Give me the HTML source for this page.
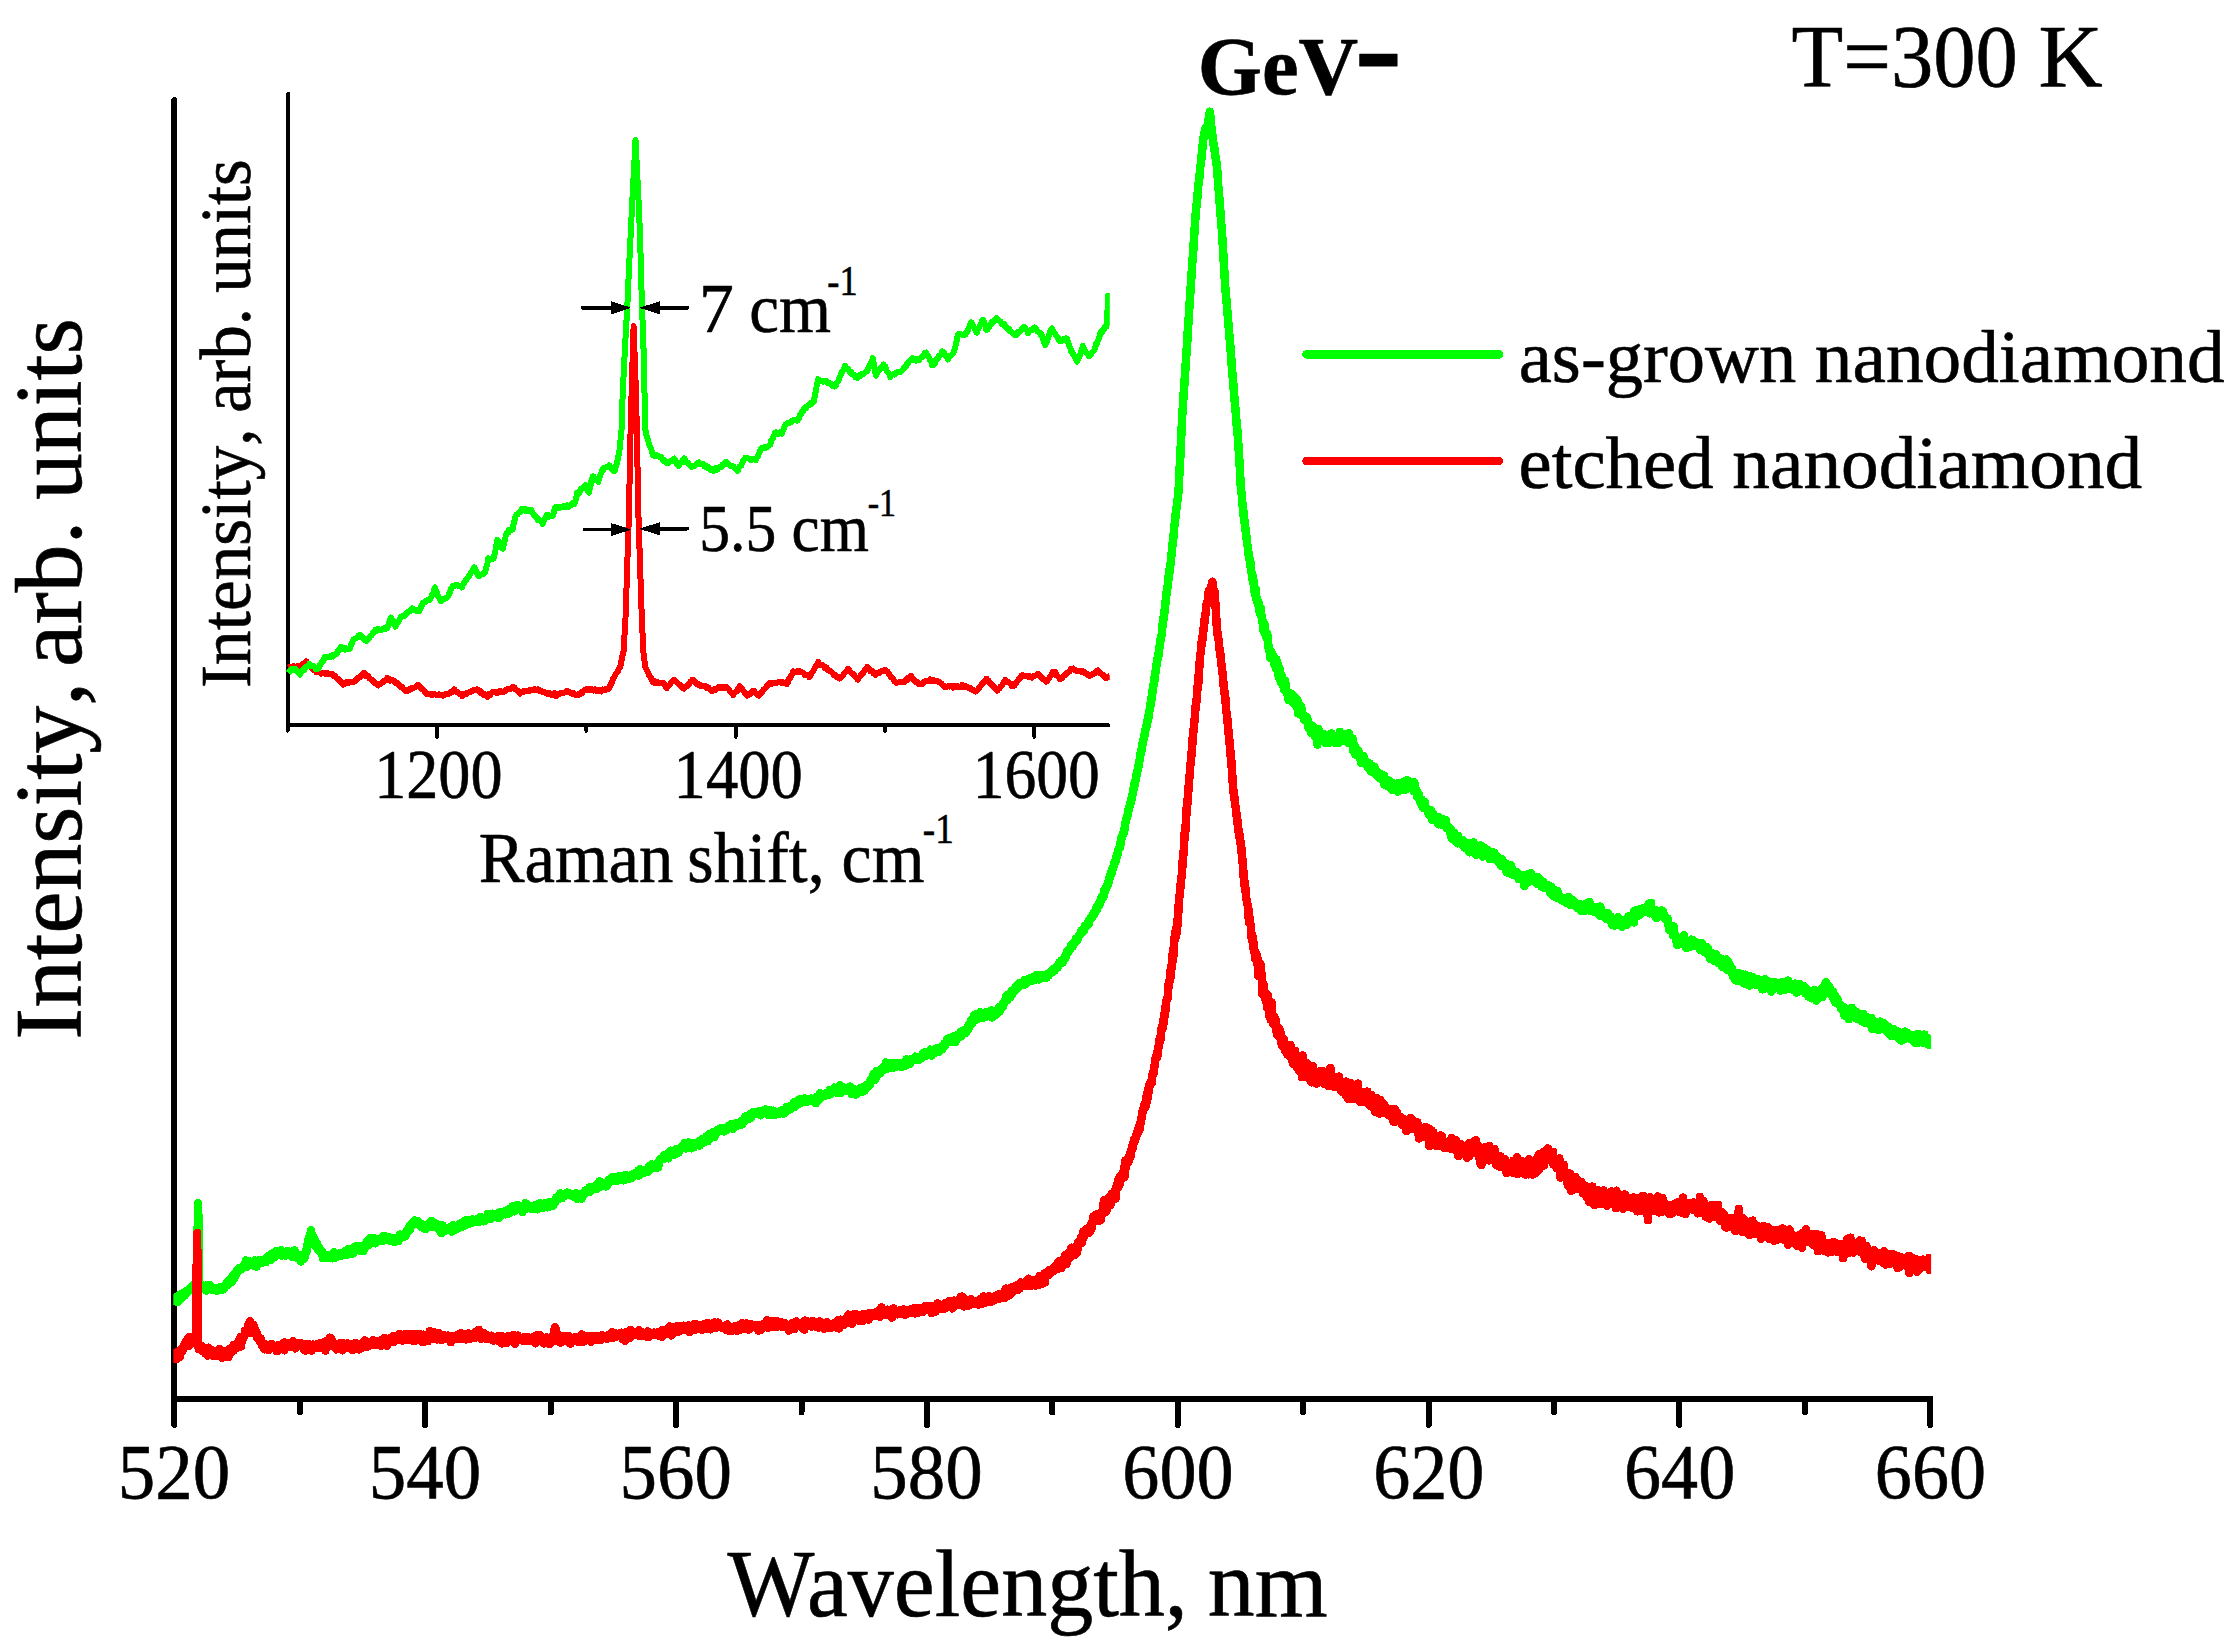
<!DOCTYPE html>
<html><head><meta charset="utf-8"><title>GeV nanodiamond PL spectra</title>
<style>
html,body{margin:0;padding:0;background:#fff;}
body{width:2238px;height:1650px;overflow:hidden;}
svg{display:block;font-family:"Liberation Serif",serif;font-kerning:none;}
text{stroke:#000;stroke-width:0.6px;stroke-linejoin:round;}
</style></head><body>
<svg width="2238" height="1650" viewBox="0 0 2238 1650" shape-rendering="crispEdges">
<rect width="2238" height="1650" fill="#fff"/>

<g stroke="#000" stroke-width="6" stroke-linecap="round" stroke-linejoin="round" fill="none">
<path d="M174.4,100 L174.4,1398.75 L1930.3,1398.75"/>
<path d="M174.4,1398.75 L174.4,1425"/>
<path d="M299.8,1398.75 L299.8,1412.3"/>
<path d="M425.2,1398.75 L425.2,1425"/>
<path d="M550.7,1398.75 L550.7,1412.3"/>
<path d="M676.1,1398.75 L676.1,1425"/>
<path d="M801.5,1398.75 L801.5,1412.3"/>
<path d="M926.9,1398.75 L926.9,1425"/>
<path d="M1052.3,1398.75 L1052.3,1412.3"/>
<path d="M1177.8,1398.75 L1177.8,1425"/>
<path d="M1303.2,1398.75 L1303.2,1412.3"/>
<path d="M1428.6,1398.75 L1428.6,1425"/>
<path d="M1554.0,1398.75 L1554.0,1412.3"/>
<path d="M1679.4,1398.75 L1679.4,1425"/>
<path d="M1804.9,1398.75 L1804.9,1412.3"/>
<path d="M1930.3,1398.75 L1930.3,1425"/>
</g>
<g stroke="#000" stroke-width="4" stroke-linecap="round" stroke-linejoin="round" fill="none">
<path d="M288.2,94 L288.2,725.4 L1108.5,725.4"/>
<path d="M287.6,725.4 L287.6,730.8"/>
<path d="M437.0,725.4 L437.0,736.8"/>
<path d="M586.3,725.4 L586.3,730.8"/>
<path d="M735.7,725.4 L735.7,736.8"/>
<path d="M885.0,725.4 L885.0,730.8"/>
<path d="M1034.3,725.4 L1034.3,736.8"/>
</g>
<clipPath id="mc"><rect x="173.3" y="90" width="1757.8" height="1310"/></clipPath>
<g fill="none" stroke-linejoin="round" stroke-linecap="butt" stroke-width="8.5" clip-path="url(#mc)" shape-rendering="crispEdges">
<polyline stroke="#00ff00" points="174.4,1304.4 174.9,1300.7 175.4,1300.5 175.9,1299.3 176.4,1301.7 176.9,1296.7 177.4,1302.2 177.9,1298.2 178.4,1299.3 178.9,1298.1 179.4,1300.2 179.9,1294.7 180.4,1296.8 180.9,1296.4 181.4,1298.2 181.9,1294.5 182.4,1295.5 182.7,1294.2 182.9,1295.4 183.4,1295.8 183.9,1292.9 184.4,1295.8 184.9,1295.0 185.4,1294.1 185.9,1294.2 186.4,1291.5 186.9,1292.0 187.4,1290.4 187.9,1290.9 188.4,1291.7 188.9,1289.5 189.4,1289.5 189.9,1288.7 190.3,1288.2 190.4,1288.3 190.9,1288.8 191.4,1286.7 191.9,1288.2 192.4,1289.8 192.9,1288.0 193.4,1286.1 193.9,1284.6 194.4,1284.3 194.9,1287.4 195.4,1284.5 195.9,1283.0 196.4,1283.8 196.9,1286.0 197.4,1249.8 197.9,1217.2 198.1,1203.4 198.4,1223.0 198.9,1256.0 199.3,1284.5 199.4,1284.7 199.9,1286.1 200.4,1286.7 200.9,1287.0 201.4,1286.3 201.9,1287.4 202.4,1285.3 202.9,1288.4 203.4,1287.5 203.9,1286.6 204.4,1287.8 204.9,1287.1 205.4,1288.9 205.9,1289.6 206.4,1290.6 206.9,1285.5 207.4,1285.6 207.9,1287.0 208.4,1288.1 208.9,1289.2 209.4,1288.5 209.9,1285.2 210.4,1287.8 210.9,1289.5 211.4,1288.7 211.9,1289.6 212.4,1288.3 212.9,1288.4 213.4,1289.1 213.9,1289.5 214.4,1289.3 214.5,1289.2 214.9,1288.0 215.4,1289.4 215.9,1289.0 216.4,1290.4 216.9,1290.5 217.4,1288.9 217.9,1288.1 218.4,1287.6 218.9,1289.1 219.4,1288.6 219.9,1287.9 220.4,1288.4 220.9,1287.4 221.4,1289.3 221.9,1287.5 222.4,1289.9 222.9,1288.7 223.4,1288.9 223.6,1286.4 223.9,1287.9 224.4,1288.3 224.9,1285.3 225.4,1285.8 225.9,1285.7 226.4,1283.2 226.9,1285.1 227.4,1285.4 227.9,1282.4 228.4,1283.6 228.9,1280.7 229.4,1282.1 229.9,1279.3 230.4,1282.7 230.9,1281.2 231.2,1280.3 231.4,1278.9 231.9,1281.2 232.4,1281.5 232.9,1275.2 233.4,1279.0 233.9,1278.9 234.4,1276.3 234.9,1273.4 235.4,1275.7 235.9,1273.5 236.4,1272.2 236.9,1270.6 237.4,1272.5 237.9,1272.1 238.4,1269.4 238.8,1270.5 238.9,1268.0 239.4,1270.4 239.9,1268.9 240.4,1268.1 240.9,1267.9 241.4,1268.9 241.9,1268.3 242.4,1267.6 242.9,1266.6 243.4,1266.1 243.9,1266.5 244.4,1265.5 244.9,1265.8 245.4,1264.0 245.9,1260.5 246.4,1265.1 246.9,1266.7 247.4,1264.2 247.9,1263.4 248.4,1263.3 248.9,1263.3 249.4,1263.4 249.9,1261.7 250.4,1262.6 250.9,1261.9 251.4,1263.6 251.9,1262.8 252.4,1263.9 252.9,1262.9 253.4,1264.6 253.9,1263.4 254.4,1266.2 254.9,1260.3 255.4,1262.1 255.9,1264.3 256.4,1266.6 256.9,1262.5 257.0,1263.0 257.4,1262.4 257.9,1264.5 258.4,1261.9 258.9,1263.2 259.4,1261.5 259.9,1259.9 260.4,1262.1 260.9,1262.1 261.4,1263.1 261.9,1260.9 262.4,1259.9 262.9,1261.5 263.4,1260.8 263.9,1260.7 264.4,1260.0 264.9,1261.6 265.4,1260.2 265.9,1262.3 266.4,1260.9 266.9,1260.1 267.4,1256.6 267.9,1259.6 268.4,1259.1 268.9,1259.5 269.0,1259.8 269.4,1257.4 269.9,1258.8 270.4,1256.4 270.9,1259.7 271.4,1254.6 271.9,1253.6 272.4,1253.4 272.9,1254.1 273.4,1253.4 273.9,1257.5 274.4,1253.8 274.9,1252.0 275.4,1255.2 275.9,1252.3 276.4,1251.0 276.9,1253.7 277.4,1253.0 277.9,1251.1 278.2,1253.5 278.4,1251.7 278.9,1254.0 279.4,1252.5 279.9,1254.1 280.4,1252.1 280.9,1250.3 281.4,1255.7 281.9,1251.5 282.4,1252.1 282.9,1251.5 283.4,1252.3 283.9,1253.1 284.4,1253.1 284.9,1253.9 285.4,1255.7 285.9,1253.0 286.4,1251.5 286.9,1251.7 287.4,1252.5 287.9,1251.2 288.4,1254.9 288.8,1253.1 288.9,1253.4 289.4,1253.9 289.9,1251.9 290.4,1252.7 290.9,1255.0 291.4,1254.9 291.9,1253.4 292.4,1256.8 292.9,1252.3 293.4,1253.7 293.9,1253.9 294.4,1250.3 294.9,1257.2 295.4,1254.9 295.9,1252.9 296.4,1257.5 296.9,1255.9 297.4,1256.3 297.9,1255.4 298.4,1257.0 298.9,1255.2 299.4,1259.2 299.9,1258.1 300.4,1259.4 300.9,1261.5 301.4,1259.6 301.9,1259.0 302.4,1258.5 302.9,1256.4 303.4,1258.1 303.9,1258.6 304.4,1256.9 304.9,1256.5 305.4,1253.3 305.5,1253.2 305.9,1250.5 306.4,1251.9 306.9,1247.4 307.4,1247.3 307.9,1241.8 308.4,1239.8 308.5,1240.1 308.9,1239.9 309.4,1236.9 309.9,1235.3 310.4,1233.3 310.8,1232.1 310.9,1230.4 311.4,1233.3 311.9,1234.1 312.4,1235.4 312.9,1237.3 313.4,1236.8 313.5,1237.9 313.9,1238.4 314.4,1240.6 314.9,1242.2 315.4,1240.8 315.9,1244.1 316.4,1247.4 316.9,1243.3 317.4,1245.4 317.6,1245.7 317.9,1247.0 318.4,1250.4 318.9,1248.7 319.4,1248.3 319.9,1250.9 320.4,1249.7 320.9,1252.9 321.4,1252.3 321.9,1254.6 322.4,1252.2 322.9,1258.2 323.4,1255.7 323.9,1256.1 324.4,1255.7 324.9,1255.4 325.2,1255.5 325.4,1256.6 325.9,1255.6 326.4,1257.1 326.9,1255.5 327.4,1257.5 327.9,1257.9 328.4,1255.5 328.9,1258.2 329.4,1256.1 329.9,1258.1 330.4,1257.0 330.9,1257.9 331.4,1254.8 331.9,1256.0 332.4,1258.3 332.9,1255.2 333.4,1253.1 333.9,1253.2 334.2,1252.4 334.4,1252.9 334.9,1255.3 335.4,1257.6 335.9,1255.0 336.4,1256.0 336.9,1255.3 337.4,1255.4 337.9,1255.0 338.4,1254.9 338.9,1255.7 339.4,1253.3 339.9,1256.3 340.4,1256.1 340.9,1254.4 341.4,1255.7 341.9,1253.5 342.4,1253.6 342.9,1254.5 343.4,1253.9 343.9,1253.4 344.4,1253.0 344.9,1253.1 345.4,1255.2 345.9,1250.9 346.4,1254.1 346.9,1253.2 347.4,1254.5 347.9,1254.0 348.4,1249.2 348.9,1253.9 349.4,1253.5 349.9,1252.7 350.4,1251.6 350.9,1253.2 351.4,1251.0 351.9,1253.9 352.4,1251.7 352.9,1253.7 353.4,1249.1 353.9,1247.3 354.4,1250.5 354.9,1250.4 355.4,1248.9 355.9,1246.2 356.4,1247.5 356.9,1248.7 357.0,1247.4 357.4,1247.6 357.9,1247.6 358.4,1246.5 358.9,1247.2 359.4,1246.0 359.9,1250.7 360.4,1247.5 360.9,1248.9 361.4,1246.8 361.9,1249.5 362.4,1245.7 362.9,1249.8 363.0,1248.4 363.4,1251.1 363.9,1245.6 364.4,1247.0 364.9,1246.9 365.4,1247.6 365.9,1244.6 366.4,1244.8 366.9,1241.0 367.4,1242.3 367.9,1243.6 368.4,1244.0 368.9,1241.4 369.0,1244.7 369.4,1244.2 369.9,1241.4 370.4,1237.9 370.9,1238.7 371.4,1240.1 371.9,1242.7 372.4,1241.4 372.9,1237.8 373.4,1240.4 373.9,1243.0 374.4,1240.0 374.9,1239.3 375.4,1243.3 375.9,1240.3 376.4,1239.4 376.9,1240.5 377.4,1239.9 377.9,1239.2 378.4,1241.4 378.9,1241.2 379.4,1240.7 379.7,1239.3 379.9,1241.0 380.4,1239.1 380.9,1239.7 381.4,1240.4 381.9,1239.9 382.4,1241.2 382.9,1239.1 383.4,1235.9 383.9,1236.5 384.4,1240.0 384.9,1237.4 385.4,1238.3 385.8,1236.4 385.9,1239.1 386.4,1237.2 386.9,1240.1 387.4,1237.4 387.9,1239.9 388.4,1239.5 388.9,1237.6 389.4,1240.4 389.9,1237.7 390.4,1238.0 390.9,1240.4 391.4,1238.6 391.9,1238.9 392.4,1239.4 392.9,1238.6 393.3,1241.7 393.4,1241.0 393.9,1239.8 394.4,1239.6 394.9,1240.2 395.4,1241.9 395.9,1240.4 396.4,1238.2 396.9,1239.8 397.4,1238.3 397.9,1238.0 398.4,1240.8 398.9,1237.3 399.4,1237.0 399.9,1234.6 400.4,1235.2 400.9,1237.7 401.4,1235.8 401.9,1237.4 402.4,1234.8 402.9,1234.8 403.4,1236.4 403.9,1237.0 404.4,1235.3 404.9,1235.6 405.4,1235.9 405.9,1234.4 406.4,1231.1 406.9,1231.7 407.4,1232.3 407.9,1230.3 408.4,1231.1 408.9,1227.6 409.4,1228.2 409.9,1229.7 410.0,1225.6 410.4,1226.5 410.9,1227.3 411.4,1223.9 411.9,1225.7 412.4,1223.6 412.9,1223.5 413.4,1222.7 413.9,1222.5 414.4,1220.6 414.5,1221.3 414.9,1220.5 415.4,1222.4 415.9,1224.3 416.4,1222.4 416.9,1222.6 417.4,1220.9 417.9,1223.9 418.4,1222.0 418.9,1222.2 419.4,1224.4 419.9,1224.1 420.4,1225.7 420.6,1226.3 420.9,1223.6 421.4,1224.8 421.9,1227.4 422.4,1226.5 422.9,1226.4 423.4,1227.5 423.9,1225.0 424.4,1227.1 424.9,1228.4 425.4,1229.0 425.9,1225.7 426.4,1226.8 426.7,1227.9 426.9,1226.7 427.4,1226.2 427.9,1227.5 428.4,1225.6 428.9,1223.2 429.4,1226.0 429.9,1224.5 430.4,1223.7 430.9,1222.1 431.2,1225.7 431.4,1221.0 431.9,1222.0 432.4,1224.2 432.9,1226.6 433.4,1226.8 433.9,1223.4 434.4,1225.0 434.9,1223.3 435.4,1227.1 435.9,1223.7 436.4,1225.8 436.9,1227.6 437.4,1226.0 437.9,1228.6 438.4,1225.4 438.9,1227.4 439.4,1228.2 439.9,1227.0 440.3,1229.3 440.4,1228.1 440.9,1225.0 441.4,1233.2 441.9,1228.5 442.4,1227.8 442.9,1225.6 443.4,1227.9 443.9,1227.2 444.4,1228.8 444.9,1228.5 445.4,1230.7 445.9,1228.3 446.4,1228.9 446.9,1228.8 447.4,1228.1 447.9,1228.1 448.4,1230.1 448.9,1229.7 449.4,1227.7 449.9,1227.1 450.4,1228.7 450.9,1230.5 451.4,1228.9 451.9,1231.5 452.0,1227.9 452.4,1229.0 452.9,1225.0 453.4,1227.5 453.9,1227.7 454.4,1228.7 454.9,1230.2 455.4,1227.6 455.9,1229.4 456.4,1228.1 456.9,1228.3 457.4,1226.0 457.9,1228.5 458.4,1224.7 458.9,1226.8 459.4,1224.4 459.9,1224.9 460.4,1223.3 460.9,1224.4 461.4,1225.5 461.9,1224.7 462.4,1222.6 462.9,1226.5 463.4,1224.6 463.9,1225.4 464.4,1224.8 464.9,1222.5 465.4,1220.4 465.9,1221.7 466.0,1224.8 466.4,1221.4 466.9,1224.0 467.4,1221.8 467.9,1223.1 468.4,1219.8 468.9,1224.0 469.4,1222.2 469.9,1223.4 470.4,1222.3 470.9,1223.1 471.4,1221.7 471.9,1222.8 472.4,1219.4 472.9,1219.9 473.4,1222.4 473.9,1221.2 474.4,1220.8 474.9,1220.8 475.4,1221.6 475.9,1219.9 476.4,1221.4 476.9,1219.2 477.4,1219.9 477.9,1221.8 478.4,1221.8 478.9,1218.5 479.4,1221.2 479.9,1218.4 480.4,1220.9 480.9,1216.9 481.4,1218.0 481.9,1218.7 482.4,1219.1 482.9,1221.3 483.4,1220.4 483.9,1221.3 484.0,1220.7 484.4,1218.5 484.9,1218.3 485.4,1220.1 485.9,1218.5 486.4,1218.1 486.9,1216.2 487.4,1217.8 487.9,1213.8 488.4,1217.0 488.9,1216.1 489.4,1218.4 489.9,1216.5 490.4,1216.6 490.9,1218.9 491.4,1215.3 491.9,1217.1 492.4,1213.7 492.9,1216.5 493.4,1216.8 493.9,1217.3 494.4,1214.6 494.9,1216.2 495.4,1216.0 495.9,1215.4 496.4,1215.5 496.9,1215.8 497.4,1215.6 497.9,1213.4 498.4,1212.9 498.9,1218.2 499.4,1217.2 499.9,1212.2 500.4,1214.7 500.9,1214.8 501.4,1214.9 501.9,1213.8 502.4,1212.1 502.9,1213.1 503.4,1212.5 503.9,1213.2 504.0,1212.6 504.4,1212.7 504.9,1214.1 505.4,1214.3 505.9,1210.6 506.4,1211.4 506.9,1210.8 507.4,1213.5 507.9,1211.5 508.4,1213.5 508.9,1210.5 509.4,1211.0 509.9,1208.8 510.4,1212.5 510.9,1209.9 511.4,1208.1 511.9,1209.2 512.4,1206.5 512.9,1209.6 513.4,1209.6 513.9,1209.7 514.4,1211.3 514.9,1208.5 515.4,1209.9 515.9,1209.0 516.4,1208.1 516.9,1205.2 517.4,1209.3 517.9,1207.1 518.4,1207.6 518.9,1205.6 519.4,1207.6 519.9,1207.2 520.0,1207.0 520.4,1206.8 520.9,1208.5 521.4,1208.4 521.9,1208.1 522.4,1211.8 522.9,1206.1 523.4,1206.4 523.9,1205.5 524.4,1207.6 524.9,1206.0 525.4,1203.1 525.9,1205.2 526.4,1207.1 526.9,1208.5 527.4,1204.7 527.9,1206.1 528.4,1206.8 528.9,1205.9 529.4,1207.8 529.9,1207.0 530.4,1207.5 530.9,1205.9 531.4,1209.2 531.9,1207.0 532.4,1208.9 532.9,1206.4 533.4,1207.9 533.9,1206.0 534.4,1205.6 534.9,1206.0 535.4,1206.9 535.9,1206.7 536.0,1209.2 536.4,1205.3 536.9,1205.3 537.4,1209.3 537.9,1207.6 538.4,1204.0 538.9,1207.4 539.4,1206.9 539.9,1203.4 540.4,1205.9 540.9,1206.4 541.4,1207.4 541.9,1207.6 542.4,1206.3 542.9,1207.6 543.4,1205.9 543.9,1204.8 544.4,1204.6 544.9,1206.7 545.4,1203.0 545.9,1206.7 546.4,1204.1 546.9,1205.1 547.4,1206.3 547.9,1207.3 548.4,1202.6 548.9,1204.2 549.4,1205.4 549.9,1204.4 550.4,1206.4 550.9,1202.1 551.4,1205.6 551.9,1205.6 552.0,1205.1 552.4,1206.1 552.9,1202.1 553.4,1204.9 553.9,1201.6 554.4,1203.1 554.9,1200.9 555.4,1201.9 555.9,1201.3 556.4,1197.4 556.9,1198.7 557.4,1198.1 557.9,1197.3 558.4,1195.9 558.9,1199.1 559.4,1196.1 559.9,1197.4 560.0,1194.2 560.4,1193.4 560.9,1195.1 561.4,1194.0 561.9,1198.2 562.4,1195.1 562.9,1196.3 563.4,1194.2 563.9,1194.0 564.4,1194.4 564.9,1194.9 565.4,1195.6 565.9,1194.1 566.4,1193.2 566.9,1192.6 567.4,1194.0 567.9,1194.8 568.0,1194.7 568.4,1194.0 568.9,1193.3 569.4,1194.4 569.9,1195.1 570.4,1194.3 570.9,1194.6 571.4,1194.3 571.9,1196.0 572.4,1194.1 572.9,1195.1 573.4,1195.5 573.9,1196.0 574.4,1197.2 574.9,1196.1 575.4,1196.1 575.9,1193.2 576.4,1196.3 576.9,1198.8 577.4,1194.4 577.9,1194.2 578.4,1195.4 578.9,1197.3 579.4,1196.7 579.9,1195.3 580.0,1195.9 580.4,1197.2 580.9,1196.4 581.4,1198.6 581.9,1196.2 582.4,1195.0 582.9,1195.0 583.4,1193.3 583.9,1192.1 584.4,1193.4 584.9,1193.6 585.4,1190.5 585.9,1191.4 586.4,1191.4 586.9,1191.9 587.4,1190.9 587.9,1191.6 588.4,1190.7 588.9,1191.8 589.4,1187.5 589.9,1192.0 590.4,1191.4 590.9,1189.1 591.4,1189.6 591.9,1189.2 592.4,1187.0 592.9,1187.9 593.4,1188.5 593.9,1187.5 594.0,1188.5 594.4,1187.1 594.9,1186.9 595.4,1185.6 595.9,1186.1 596.4,1185.9 596.9,1188.9 597.4,1186.7 597.9,1184.8 598.4,1186.7 598.9,1185.7 599.4,1181.5 599.9,1186.5 600.4,1183.5 600.9,1186.5 601.4,1184.1 601.9,1183.3 602.4,1186.0 602.9,1183.1 603.4,1184.5 603.9,1185.3 604.0,1185.9 604.4,1185.8 604.9,1184.3 605.4,1182.7 605.9,1186.4 606.4,1182.3 606.9,1185.4 607.4,1181.8 607.9,1183.8 608.4,1183.3 608.9,1179.8 609.4,1181.5 609.9,1181.7 610.4,1181.2 610.9,1179.5 611.4,1179.9 611.9,1178.5 612.0,1177.3 612.4,1180.4 612.9,1178.1 613.4,1180.8 613.9,1179.7 614.4,1177.4 614.9,1178.4 615.4,1178.2 615.9,1177.3 616.4,1179.2 616.9,1177.8 617.4,1180.8 617.9,1179.6 618.4,1177.0 618.9,1178.2 619.4,1177.8 619.9,1175.9 620.4,1179.4 620.9,1179.4 621.4,1179.3 621.9,1177.2 622.4,1179.4 622.9,1177.5 623.4,1179.1 623.9,1180.3 624.4,1177.8 624.9,1175.5 625.4,1177.1 625.9,1178.4 626.4,1179.2 626.9,1175.7 627.4,1177.0 627.9,1177.6 628.4,1177.8 628.9,1178.4 629.4,1175.7 629.9,1176.4 630.0,1178.5 630.4,1177.4 630.9,1177.3 631.4,1178.1 631.9,1176.4 632.4,1176.8 632.9,1175.4 633.4,1173.7 633.9,1173.6 634.4,1175.4 634.9,1174.8 635.4,1174.0 635.9,1175.2 636.4,1173.2 636.9,1174.5 637.4,1174.1 637.9,1172.7 638.4,1170.4 638.9,1175.7 639.4,1173.8 639.9,1169.3 640.4,1172.3 640.9,1173.3 641.4,1172.2 641.9,1173.2 642.4,1170.8 642.9,1172.2 643.4,1171.7 643.9,1171.3 644.4,1171.1 644.9,1171.5 645.4,1172.4 645.9,1170.0 646.4,1170.0 646.9,1170.7 647.4,1170.1 647.9,1170.6 648.0,1171.0 648.4,1171.7 648.9,1169.4 649.4,1166.0 649.9,1168.9 650.4,1169.3 650.9,1168.3 651.4,1168.1 651.9,1164.5 652.4,1168.5 652.9,1167.1 653.4,1165.1 653.9,1165.8 654.4,1165.5 654.9,1167.4 655.4,1167.1 655.9,1168.2 656.4,1166.7 656.9,1163.6 657.4,1163.3 657.9,1166.7 658.0,1167.3 658.4,1164.1 658.9,1164.5 659.4,1160.7 659.9,1159.3 660.4,1159.7 660.9,1160.1 661.4,1159.1 661.9,1158.8 662.4,1157.7 662.9,1158.6 663.4,1159.0 663.9,1156.2 664.0,1158.9 664.4,1154.9 664.9,1154.9 665.4,1156.1 665.9,1154.9 666.4,1156.9 666.9,1154.1 667.4,1156.8 667.9,1155.0 668.4,1158.3 668.9,1153.7 669.4,1153.9 669.9,1154.2 670.4,1150.7 670.9,1154.6 671.4,1154.2 671.9,1153.5 672.4,1151.0 672.9,1150.8 673.4,1153.7 673.9,1154.4 674.4,1154.8 674.9,1151.1 675.4,1150.7 675.9,1151.6 676.0,1149.1 676.4,1150.9 676.9,1152.6 677.4,1153.4 677.9,1151.1 678.4,1152.7 678.9,1150.6 679.4,1149.9 679.9,1149.0 680.4,1149.2 680.9,1148.2 681.4,1148.0 681.9,1146.9 682.4,1147.9 682.9,1147.2 683.4,1144.7 683.9,1146.1 684.4,1144.9 684.9,1142.8 685.4,1146.1 685.9,1147.3 686.0,1148.4 686.4,1147.3 686.9,1143.9 687.4,1146.9 687.9,1146.9 688.4,1142.5 688.9,1146.7 689.4,1146.5 689.9,1145.9 690.4,1146.2 690.9,1145.9 691.4,1148.3 691.9,1145.4 692.0,1145.7 692.4,1145.8 692.9,1146.0 693.4,1142.8 693.9,1147.2 694.4,1145.3 694.9,1145.6 695.4,1144.8 695.9,1144.1 696.4,1143.6 696.9,1144.0 697.4,1143.9 697.9,1145.1 698.4,1143.8 698.9,1142.8 699.4,1145.7 699.9,1140.8 700.4,1140.5 700.9,1142.7 701.4,1141.7 701.9,1139.2 702.4,1141.1 702.9,1140.3 703.4,1142.8 703.9,1140.0 704.4,1142.2 704.9,1141.1 705.4,1140.0 705.9,1140.1 706.0,1140.6 706.4,1136.4 706.9,1139.8 707.4,1138.4 707.9,1141.2 708.4,1137.2 708.9,1139.5 709.4,1133.8 709.9,1138.3 710.4,1137.1 710.9,1136.0 711.4,1135.8 711.9,1135.2 712.4,1135.8 712.9,1134.6 713.4,1131.9 713.9,1133.8 714.4,1136.9 714.9,1133.4 715.4,1133.4 715.9,1131.9 716.4,1132.5 716.9,1132.1 717.4,1131.1 717.9,1132.3 718.0,1129.7 718.4,1130.7 718.9,1131.4 719.4,1130.1 719.9,1128.6 720.4,1131.0 720.9,1128.6 721.4,1129.2 721.9,1128.5 722.4,1129.4 722.9,1128.7 723.4,1128.5 723.9,1130.0 724.4,1131.4 724.9,1128.2 725.4,1129.3 725.9,1127.9 726.4,1128.3 726.9,1129.7 727.4,1127.9 727.9,1126.5 728.4,1126.5 728.9,1126.5 729.4,1127.2 729.9,1128.3 730.0,1125.0 730.4,1125.4 730.9,1125.4 731.4,1124.0 731.9,1128.4 732.4,1126.2 732.9,1128.9 733.4,1123.9 733.9,1127.7 734.4,1124.7 734.9,1124.9 735.4,1123.9 735.9,1123.9 736.4,1123.2 736.9,1125.2 737.4,1122.9 737.9,1124.3 738.4,1124.5 738.9,1125.3 739.4,1124.3 739.9,1124.5 740.0,1124.7 740.4,1123.6 740.9,1123.6 741.4,1121.2 741.9,1121.0 742.4,1124.4 742.9,1121.1 743.4,1119.6 743.9,1122.1 744.4,1119.4 744.9,1118.2 745.4,1116.5 745.9,1119.2 746.4,1116.0 746.9,1116.3 747.4,1117.5 747.9,1116.4 748.0,1115.9 748.4,1115.5 748.9,1117.3 749.4,1118.7 749.9,1114.4 750.4,1115.8 750.9,1117.6 751.4,1116.1 751.9,1113.4 752.4,1113.5 752.9,1113.1 753.4,1112.4 753.9,1112.6 754.4,1113.7 754.9,1112.3 755.4,1114.2 755.9,1112.9 756.4,1111.9 756.9,1113.6 757.4,1112.5 757.9,1112.3 758.4,1113.2 758.9,1112.3 759.4,1111.1 759.9,1112.4 760.0,1111.4 760.4,1115.3 760.9,1112.7 761.4,1112.8 761.9,1113.1 762.4,1111.4 762.9,1113.2 763.4,1111.4 763.9,1110.2 764.4,1110.6 764.9,1112.3 765.4,1109.3 765.9,1111.9 766.4,1110.6 766.9,1112.7 767.4,1110.7 767.9,1114.5 768.4,1113.0 768.9,1110.1 769.4,1114.5 769.9,1111.7 770.4,1111.0 770.9,1110.6 771.4,1113.0 771.9,1114.4 772.4,1111.4 772.9,1110.8 773.4,1110.7 773.9,1114.6 774.4,1114.9 774.9,1112.0 775.4,1113.3 775.9,1112.6 776.4,1112.6 776.9,1114.1 777.4,1113.4 777.9,1113.3 778.4,1112.4 778.9,1114.1 779.4,1112.5 779.9,1113.1 780.0,1113.3 780.4,1111.1 780.9,1112.1 781.4,1111.8 781.9,1112.2 782.4,1110.2 782.9,1109.8 783.4,1113.7 783.9,1112.7 784.4,1112.1 784.9,1113.2 785.4,1110.9 785.9,1109.9 786.4,1110.5 786.9,1106.8 787.4,1107.7 787.9,1110.2 788.4,1108.8 788.9,1106.7 789.4,1109.3 789.9,1109.5 790.0,1109.0 790.4,1107.7 790.9,1106.2 791.4,1107.2 791.9,1107.3 792.4,1105.8 792.9,1106.8 793.4,1106.1 793.9,1105.8 794.4,1102.0 794.9,1106.1 795.4,1106.7 795.9,1103.3 796.4,1101.4 796.9,1104.1 797.4,1102.1 797.9,1101.1 798.4,1103.9 798.9,1099.8 799.4,1102.5 799.9,1099.3 800.0,1103.1 800.4,1101.7 800.9,1100.5 801.4,1101.0 801.9,1101.6 802.4,1101.9 802.9,1101.8 803.4,1101.4 803.9,1099.8 804.4,1101.4 804.9,1098.5 805.4,1101.8 805.9,1101.5 806.4,1102.2 806.9,1099.3 807.4,1100.3 807.9,1101.3 808.4,1100.4 808.9,1099.3 809.4,1100.3 809.9,1099.9 810.4,1101.1 810.9,1098.7 811.4,1100.1 811.9,1099.9 812.4,1100.5 812.9,1099.3 813.4,1099.5 813.9,1099.2 814.4,1099.2 814.9,1099.1 815.4,1098.6 815.9,1103.1 816.0,1097.8 816.4,1097.1 816.9,1097.4 817.4,1097.3 817.9,1098.1 818.4,1099.9 818.9,1100.0 819.4,1097.6 819.9,1093.4 820.4,1097.4 820.9,1094.6 821.4,1095.6 821.9,1094.4 822.4,1096.4 822.9,1094.6 823.4,1096.4 823.9,1095.7 824.4,1094.5 824.9,1094.7 825.4,1095.6 825.9,1093.5 826.4,1095.1 826.9,1093.5 827.4,1093.7 827.9,1094.2 828.4,1094.7 828.9,1093.3 829.4,1092.4 829.9,1093.1 830.0,1089.8 830.4,1094.3 830.9,1089.8 831.4,1092.9 831.9,1090.6 832.4,1092.0 832.9,1091.0 833.4,1091.4 833.9,1089.7 834.4,1087.6 834.9,1091.1 835.4,1089.5 835.9,1089.3 836.4,1089.1 836.9,1092.8 837.4,1089.0 837.9,1090.2 838.4,1087.8 838.9,1091.6 839.4,1088.4 839.9,1085.3 840.4,1092.9 840.9,1087.2 841.4,1090.5 841.9,1089.6 842.4,1089.3 842.9,1087.9 843.4,1088.3 843.6,1089.8 843.9,1087.7 844.4,1088.6 844.9,1089.7 845.4,1088.6 845.9,1088.1 846.4,1090.9 846.9,1089.5 847.4,1088.9 847.9,1088.1 848.4,1087.9 848.9,1090.8 849.4,1091.1 849.9,1086.7 850.4,1089.1 850.9,1091.5 851.4,1093.8 851.9,1093.5 852.4,1091.9 852.9,1092.7 853.4,1090.1 853.9,1092.1 854.4,1089.4 854.9,1090.5 855.4,1091.9 855.9,1094.7 856.4,1092.8 856.9,1092.3 857.3,1091.8 857.4,1090.0 857.9,1092.5 858.4,1090.8 858.9,1091.4 859.4,1089.4 859.9,1090.6 860.4,1087.9 860.9,1090.5 861.4,1091.4 861.9,1090.5 862.4,1091.9 862.9,1089.0 863.4,1089.0 863.9,1088.7 864.4,1086.3 864.9,1090.4 865.4,1088.4 865.9,1086.3 866.4,1085.1 866.9,1086.9 867.4,1087.0 867.9,1085.7 868.0,1085.7 868.4,1084.6 868.9,1084.3 869.4,1085.6 869.9,1085.1 870.4,1080.3 870.9,1082.0 871.4,1079.5 871.9,1078.6 872.4,1080.8 872.9,1078.1 873.4,1074.2 873.9,1079.0 874.4,1079.3 874.9,1079.8 875.4,1075.7 875.9,1077.7 876.4,1071.2 876.9,1072.9 877.4,1074.5 877.9,1073.8 878.4,1074.5 878.9,1073.3 879.0,1071.7 879.4,1073.7 879.9,1072.2 880.4,1073.3 880.9,1069.3 881.4,1070.5 881.9,1069.1 882.4,1070.6 882.9,1068.7 883.4,1068.3 883.9,1066.4 884.4,1068.4 884.9,1069.2 885.4,1068.7 885.9,1062.5 886.4,1064.2 886.9,1069.1 887.4,1065.6 887.9,1065.3 888.4,1066.8 888.6,1065.3 888.9,1064.1 889.4,1064.8 889.9,1067.9 890.4,1063.1 890.9,1067.1 891.4,1064.8 891.9,1064.9 892.4,1068.0 892.9,1064.4 893.4,1066.6 893.9,1064.9 894.4,1063.4 894.9,1065.3 895.4,1067.2 895.9,1065.3 896.4,1066.4 896.9,1065.9 897.4,1065.8 897.9,1065.1 898.4,1066.0 898.9,1062.9 899.4,1065.2 899.9,1063.3 900.4,1066.3 900.9,1066.5 901.0,1064.8 901.4,1067.0 901.9,1066.1 902.4,1065.7 902.9,1064.5 903.4,1065.5 903.9,1066.1 904.4,1063.3 904.9,1062.9 905.4,1065.5 905.9,1060.2 906.4,1059.5 906.9,1060.4 907.4,1063.1 907.9,1062.8 908.4,1063.0 908.9,1062.2 909.4,1064.0 909.9,1063.8 910.4,1063.0 910.9,1059.4 911.4,1061.3 911.9,1059.3 912.4,1059.6 912.9,1058.6 913.4,1059.8 913.9,1060.3 914.4,1059.4 914.9,1057.3 915.4,1056.6 915.9,1057.4 916.4,1057.2 916.9,1059.2 917.0,1057.5 917.4,1057.6 917.9,1057.4 918.4,1059.1 918.9,1059.7 919.4,1057.7 919.9,1056.6 920.4,1058.8 920.9,1057.2 921.4,1055.8 921.9,1057.7 922.4,1056.3 922.9,1053.8 923.4,1056.6 923.9,1055.9 924.4,1052.6 924.9,1052.0 925.4,1055.1 925.9,1055.8 926.4,1055.5 926.9,1052.4 927.4,1053.7 927.9,1055.0 928.4,1051.6 928.9,1053.8 929.4,1053.8 929.9,1054.6 930.4,1049.6 930.9,1053.2 931.4,1055.7 931.9,1051.7 932.4,1051.9 932.9,1053.6 933.4,1050.9 933.9,1053.5 934.4,1052.5 934.9,1049.2 935.4,1051.5 935.9,1049.0 936.4,1052.3 936.9,1048.3 937.4,1048.0 937.9,1048.8 938.4,1049.1 938.9,1051.9 939.0,1050.0 939.4,1050.1 939.9,1050.7 940.4,1047.7 940.9,1047.4 941.4,1046.6 941.9,1048.5 942.4,1049.3 942.9,1046.8 943.4,1045.1 943.9,1044.8 944.4,1043.5 944.9,1045.7 945.4,1042.6 945.9,1043.4 946.4,1041.6 946.9,1040.1 947.4,1038.7 947.9,1040.6 948.4,1041.8 948.9,1040.5 949.4,1040.2 949.9,1038.5 950.0,1038.6 950.4,1038.2 950.9,1039.8 951.4,1042.2 951.9,1038.7 952.4,1036.7 952.9,1040.2 953.4,1036.6 953.9,1038.6 954.4,1036.9 954.9,1037.4 955.4,1041.9 955.9,1035.6 956.4,1035.5 956.9,1036.7 957.4,1035.8 957.9,1035.0 958.4,1034.3 958.9,1035.8 959.4,1036.3 959.9,1033.1 960.4,1032.5 960.9,1036.5 961.4,1031.5 961.9,1034.3 962.4,1033.7 962.9,1031.1 963.4,1033.6 963.9,1030.6 964.4,1030.3 964.9,1029.6 965.4,1032.5 965.9,1030.4 966.0,1032.6 966.4,1029.2 966.9,1030.4 967.4,1030.7 967.9,1027.7 968.4,1025.4 968.9,1025.7 969.4,1027.2 969.9,1025.6 970.4,1023.2 970.9,1020.4 971.4,1023.1 971.9,1023.6 972.4,1022.8 972.9,1020.3 973.4,1018.5 973.9,1016.8 974.4,1016.3 974.5,1014.6 974.9,1020.0 975.4,1016.7 975.9,1020.0 976.4,1016.3 976.9,1013.9 977.4,1018.8 977.9,1014.7 978.4,1015.2 978.9,1018.0 979.4,1017.6 979.9,1012.4 980.4,1015.2 980.9,1013.5 981.4,1015.7 981.9,1017.4 982.4,1013.8 982.7,1016.7 982.9,1013.2 983.4,1017.6 983.9,1013.3 984.4,1013.8 984.9,1014.9 985.4,1012.5 985.9,1016.7 986.4,1012.9 986.9,1015.4 987.4,1012.6 987.9,1014.7 988.4,1014.5 988.9,1013.9 989.4,1015.2 989.9,1012.9 990.4,1016.7 990.9,1014.8 991.4,1010.5 991.9,1017.4 992.4,1015.2 992.9,1016.8 993.4,1014.2 993.9,1011.2 994.4,1013.9 994.9,1012.7 995.4,1014.4 995.9,1013.8 996.0,1014.8 996.4,1011.3 996.9,1013.2 997.4,1011.7 997.9,1012.6 998.4,1008.4 998.9,1009.5 999.4,1011.8 999.9,1006.9 1000.4,1009.0 1000.9,1009.1 1001.4,1006.4 1001.9,1007.1 1002.4,1006.4 1002.9,1006.4 1003.4,1002.9 1003.9,1002.5 1004.4,1003.1 1004.9,1000.1 1005.4,1000.5 1005.9,998.7 1006.4,995.6 1006.9,998.6 1007.0,1000.4 1007.4,997.0 1007.9,997.1 1008.4,995.8 1008.9,994.9 1009.4,995.6 1009.9,996.4 1010.4,997.4 1010.9,994.9 1011.4,991.8 1011.9,990.6 1012.4,993.9 1012.9,992.0 1013.4,990.2 1013.9,989.0 1014.4,988.8 1014.9,991.1 1015.4,988.8 1015.9,986.3 1016.4,989.0 1016.9,987.6 1017.4,986.3 1017.9,987.0 1018.0,984.9 1018.4,987.1 1018.9,983.5 1019.4,983.9 1019.9,983.0 1020.4,984.0 1020.9,983.2 1021.4,983.5 1021.9,983.7 1022.4,984.2 1022.9,983.3 1023.4,983.1 1023.9,984.7 1024.4,981.8 1024.9,979.9 1025.4,982.9 1025.9,983.8 1026.4,981.3 1026.9,981.9 1027.4,979.5 1027.9,980.4 1028.4,980.7 1028.9,980.0 1029.4,978.5 1029.9,981.1 1030.4,978.9 1030.9,979.6 1031.4,978.6 1031.9,978.9 1032.0,978.9 1032.4,977.4 1032.9,978.7 1033.4,980.4 1033.9,980.1 1034.4,978.4 1034.9,979.6 1035.4,975.6 1035.9,979.2 1036.4,977.3 1036.9,974.8 1037.4,977.3 1037.9,978.3 1038.4,976.0 1038.9,979.4 1039.4,978.6 1039.9,975.1 1040.4,978.0 1040.9,976.8 1041.4,975.9 1041.9,976.1 1042.4,975.9 1042.9,974.8 1043.4,975.8 1043.9,977.2 1044.4,978.1 1044.9,978.1 1045.4,975.4 1045.9,975.9 1046.4,974.9 1046.9,977.3 1047.4,973.8 1047.9,974.1 1048.0,975.0 1048.4,975.7 1048.9,974.4 1049.4,974.4 1049.9,973.9 1050.4,973.6 1050.9,971.4 1051.4,971.8 1051.9,972.4 1052.4,971.5 1052.9,972.0 1053.4,969.1 1053.9,970.7 1054.4,970.9 1054.9,968.3 1055.4,968.3 1055.9,967.7 1056.4,967.6 1056.9,966.9 1057.4,967.7 1057.9,966.0 1058.4,965.9 1058.9,964.7 1059.4,962.5 1059.9,963.8 1060.4,962.4 1060.9,961.4 1061.4,960.5 1061.9,961.0 1062.0,960.3 1062.4,962.9 1062.9,961.6 1063.4,958.6 1063.9,959.0 1064.4,958.8 1064.9,956.5 1065.4,958.2 1065.9,956.3 1066.4,954.3 1066.9,951.5 1067.4,951.8 1067.9,952.6 1068.4,950.9 1068.9,950.7 1069.4,949.0 1069.9,949.5 1070.4,947.9 1070.9,945.9 1071.4,946.6 1071.9,945.5 1072.4,943.6 1072.9,946.4 1073.4,943.9 1073.9,942.8 1074.4,943.4 1074.9,941.6 1075.4,941.9 1075.9,938.5 1076.4,938.4 1076.9,939.5 1077.4,940.0 1077.9,937.5 1078.4,937.1 1078.9,935.1 1079.4,935.4 1079.9,933.9 1080.4,933.8 1080.9,934.2 1081.4,930.3 1081.9,932.2 1082.4,930.3 1082.9,929.8 1083.4,931.1 1083.9,929.5 1084.4,929.5 1084.9,925.7 1085.4,926.6 1085.9,925.8 1086.4,925.0 1086.9,925.4 1087.4,925.3 1087.9,922.3 1088.4,921.7 1088.9,920.7 1089.0,923.3 1089.4,920.7 1089.9,920.2 1090.4,919.1 1090.9,917.4 1091.4,918.0 1091.9,917.1 1092.4,916.9 1092.9,914.6 1093.4,913.6 1093.9,912.4 1094.4,913.8 1094.9,912.4 1095.4,910.3 1095.9,910.1 1096.4,907.8 1096.9,909.9 1097.4,906.0 1097.9,905.3 1098.4,904.4 1098.9,905.8 1099.4,903.2 1099.9,903.3 1100.4,901.1 1100.9,899.0 1101.4,900.2 1101.9,897.8 1102.4,896.1 1102.7,896.5 1102.9,897.1 1103.4,897.0 1103.9,892.2 1104.4,889.9 1104.9,892.0 1105.4,889.9 1105.9,887.6 1106.4,887.3 1106.9,886.2 1107.4,886.2 1107.9,882.6 1108.4,882.7 1108.9,879.5 1109.4,878.0 1109.9,877.7 1110.4,874.6 1110.9,873.0 1111.4,874.1 1111.9,869.6 1112.4,870.4 1112.9,868.6 1113.4,867.2 1113.9,864.7 1114.4,862.6 1114.9,862.7 1115.4,860.8 1115.5,861.3 1115.9,860.4 1116.4,857.6 1116.9,855.3 1117.4,854.9 1117.9,851.9 1118.4,849.8 1118.9,848.6 1119.4,847.4 1119.9,847.4 1120.4,845.0 1120.9,840.0 1121.4,838.0 1121.9,837.7 1122.4,836.3 1122.9,833.7 1123.4,834.3 1123.9,831.3 1124.4,829.9 1124.9,825.8 1125.4,823.4 1125.6,822.4 1125.9,822.2 1126.4,818.8 1126.9,817.3 1127.4,815.4 1127.9,814.7 1128.4,811.1 1128.9,807.9 1129.4,806.8 1129.9,805.3 1130.4,803.6 1130.9,799.9 1131.4,799.4 1131.9,798.1 1132.4,794.9 1132.9,792.5 1133.4,789.6 1133.9,787.3 1134.4,783.6 1134.5,786.1 1134.9,783.0 1135.4,781.1 1135.9,779.0 1136.4,775.1 1136.9,774.6 1137.4,771.1 1137.9,770.1 1138.4,766.2 1138.9,763.9 1139.4,760.8 1139.9,760.2 1140.4,753.9 1140.9,753.1 1141.4,750.8 1141.9,747.0 1142.2,746.3 1142.4,743.9 1142.9,743.9 1143.4,739.7 1143.9,739.1 1144.4,735.9 1144.9,732.8 1145.4,729.5 1145.9,727.9 1146.4,726.5 1146.9,723.5 1147.4,721.8 1147.9,717.8 1148.4,717.8 1148.9,713.4 1149.4,710.2 1149.8,710.5 1149.9,709.9 1150.4,705.1 1150.9,701.5 1151.4,699.7 1151.9,694.6 1152.4,693.3 1152.9,687.6 1153.4,685.7 1153.9,682.6 1154.4,680.6 1154.9,674.1 1155.4,673.1 1155.7,670.8 1155.9,669.7 1156.4,665.6 1156.9,662.0 1157.4,659.8 1157.9,656.9 1158.4,655.6 1158.9,651.0 1159.4,647.7 1159.9,645.3 1160.4,639.8 1160.9,639.1 1161.4,636.2 1161.8,633.7 1161.9,631.5 1162.4,626.4 1162.9,622.5 1163.4,619.7 1163.9,615.8 1164.4,612.5 1164.9,608.6 1165.4,603.7 1165.9,598.7 1166.4,594.8 1166.9,590.4 1167.4,588.0 1167.9,583.7 1168.4,579.5 1168.9,574.1 1169.4,572.7 1169.9,566.2 1170.4,565.3 1170.9,561.2 1171.4,554.7 1171.9,551.5 1172.4,545.3 1172.9,541.6 1173.4,537.4 1173.9,531.8 1174.4,525.6 1174.9,522.4 1175.3,518.5 1175.4,517.3 1175.9,512.0 1176.4,508.4 1176.9,504.8 1177.4,500.1 1177.9,498.2 1178.4,492.0 1178.6,489.8 1178.9,484.4 1179.4,472.6 1179.9,464.1 1180.4,455.2 1180.9,442.5 1181.4,433.6 1181.9,423.9 1182.4,411.2 1182.9,407.3 1183.4,397.0 1183.9,390.3 1184.4,383.6 1184.9,375.5 1185.4,369.1 1185.9,361.0 1186.4,354.0 1186.9,346.0 1187.4,340.0 1187.9,328.6 1188.4,323.3 1188.9,314.9 1189.4,306.4 1189.9,298.8 1190.4,291.3 1190.6,289.4 1190.9,283.4 1191.4,276.7 1191.9,269.7 1192.4,260.8 1192.9,255.7 1193.4,249.6 1193.9,238.9 1194.4,233.1 1194.9,224.4 1195.4,217.8 1195.6,214.1 1195.9,213.6 1196.4,206.0 1196.9,202.2 1197.4,197.0 1197.9,190.3 1198.4,184.2 1198.9,182.0 1199.4,177.3 1199.9,170.9 1200.4,165.8 1200.6,165.5 1200.9,162.8 1201.4,158.5 1201.9,153.4 1202.4,148.0 1202.9,143.2 1203.4,138.0 1203.9,135.6 1204.3,134.2 1204.4,132.5 1204.9,131.2 1205.4,128.9 1205.9,129.0 1206.4,128.9 1206.9,127.9 1207.0,128.9 1207.4,125.6 1207.9,123.7 1208.4,120.1 1208.9,117.3 1209.4,116.0 1209.8,111.7 1209.9,113.1 1210.4,116.3 1210.9,121.9 1211.4,127.2 1211.9,131.0 1212.4,135.4 1212.9,139.9 1213.0,140.3 1213.4,143.2 1213.9,146.1 1214.4,148.1 1214.9,153.0 1215.4,156.8 1215.9,158.2 1216.4,162.7 1216.7,165.6 1216.9,166.7 1217.4,172.2 1217.9,180.1 1218.4,188.1 1218.9,192.0 1219.4,199.3 1219.9,205.1 1220.4,212.0 1220.9,219.1 1221.4,226.8 1221.7,228.5 1221.9,231.7 1222.4,239.6 1222.9,247.4 1223.4,255.0 1223.9,263.8 1224.4,272.6 1224.9,280.8 1225.4,290.0 1225.9,293.7 1226.4,299.6 1226.9,305.4 1227.4,312.1 1227.9,317.5 1228.4,324.3 1228.9,328.5 1229.4,336.0 1229.7,339.5 1229.9,340.8 1230.4,346.8 1230.9,354.0 1231.4,359.4 1231.9,368.5 1232.4,373.0 1232.9,380.1 1233.4,384.4 1233.6,386.4 1233.9,392.4 1234.4,398.0 1234.9,402.5 1235.4,408.4 1235.9,414.1 1236.4,420.8 1236.9,427.3 1237.4,430.6 1237.9,438.4 1238.4,444.9 1238.9,453.2 1239.4,461.4 1239.9,468.1 1240.4,480.2 1240.9,487.7 1241.2,490.8 1241.4,492.7 1241.9,496.0 1242.4,504.5 1242.9,507.1 1243.4,512.0 1243.9,518.4 1244.0,518.5 1244.4,520.4 1244.9,524.7 1245.4,528.3 1245.9,532.5 1246.4,536.8 1246.9,540.6 1247.4,545.4 1247.9,547.4 1248.4,552.5 1248.9,557.4 1249.1,554.5 1249.4,559.3 1249.9,559.5 1250.4,561.7 1250.9,570.0 1251.4,572.4 1251.9,574.3 1252.4,575.4 1252.9,582.4 1253.4,579.6 1253.9,585.6 1254.4,589.5 1254.9,594.4 1255.4,591.0 1255.9,589.1 1256.4,598.4 1256.9,600.7 1257.4,602.2 1257.9,601.3 1258.4,605.3 1258.9,603.0 1259.4,610.2 1259.9,613.4 1260.4,610.5 1260.9,608.5 1261.4,615.9 1261.9,617.5 1262.4,619.7 1262.9,626.0 1263.1,623.0 1263.4,630.6 1263.9,627.0 1264.4,624.0 1264.9,633.7 1265.4,631.4 1265.9,632.1 1266.4,636.8 1266.9,638.2 1267.4,634.4 1267.9,638.9 1268.4,647.8 1268.9,646.5 1269.4,650.1 1269.9,653.4 1270.4,658.1 1270.7,650.9 1270.9,651.2 1271.4,651.7 1271.9,654.0 1272.4,654.2 1272.9,658.5 1273.4,659.5 1273.9,663.1 1274.4,658.3 1274.9,661.3 1275.4,666.0 1275.9,668.4 1276.4,659.4 1276.9,666.5 1277.4,668.9 1277.9,664.1 1278.4,673.8 1278.9,677.6 1279.4,668.2 1279.9,670.8 1280.4,680.5 1280.9,682.3 1281.4,675.2 1281.9,677.2 1282.4,683.7 1282.9,681.7 1283.4,681.8 1283.9,689.8 1284.4,686.5 1284.9,680.5 1285.4,688.3 1285.9,683.9 1286.4,691.9 1286.9,693.7 1287.4,692.9 1287.9,695.5 1288.4,699.9 1288.9,696.9 1289.4,694.3 1289.9,692.9 1290.4,698.2 1290.9,695.1 1291.1,694.2 1291.4,697.8 1291.9,694.1 1292.4,696.3 1292.9,702.8 1293.4,700.2 1293.9,701.4 1294.4,702.9 1294.9,697.3 1295.4,704.9 1295.9,704.9 1296.4,705.4 1296.9,707.2 1297.4,699.8 1297.9,713.5 1298.4,707.0 1298.9,704.0 1299.4,709.6 1299.9,705.8 1300.4,710.7 1300.9,712.8 1301.3,707.4 1301.4,714.4 1301.9,713.1 1302.4,714.6 1302.9,715.7 1303.4,716.9 1303.9,719.7 1304.4,719.8 1304.9,719.5 1305.4,716.4 1305.9,720.6 1306.4,718.9 1306.9,717.0 1307.4,722.2 1307.9,720.4 1308.4,727.6 1308.9,724.9 1309.4,726.0 1309.9,729.1 1310.4,726.4 1310.9,727.7 1311.4,733.0 1311.9,725.5 1312.4,727.4 1312.9,729.9 1313.4,733.1 1313.9,731.7 1314.4,727.8 1314.9,728.8 1315.4,737.1 1315.9,733.2 1316.4,730.7 1316.9,731.4 1317.4,744.5 1317.9,737.5 1318.4,728.9 1318.9,732.8 1319.4,736.6 1319.9,734.0 1320.4,738.5 1320.9,740.7 1321.4,735.8 1321.9,736.9 1322.4,735.9 1322.9,739.3 1323.4,741.4 1323.9,740.1 1324.2,734.3 1324.4,739.8 1324.9,735.9 1325.4,742.8 1325.9,739.1 1326.4,740.9 1326.9,737.8 1327.4,737.9 1327.9,739.3 1328.4,738.0 1328.9,742.8 1329.4,735.0 1329.9,740.3 1330.4,736.7 1330.9,741.0 1331.4,733.4 1331.9,742.3 1332.4,737.8 1332.9,735.3 1333.4,740.9 1333.9,738.4 1334.4,739.8 1334.9,742.6 1335.4,736.1 1335.9,737.1 1336.4,739.5 1336.9,741.0 1337.0,737.4 1337.4,737.1 1337.9,741.5 1338.4,742.1 1338.9,743.2 1339.4,738.4 1339.9,731.9 1340.4,740.6 1340.9,741.2 1341.4,735.0 1341.9,739.3 1342.4,739.8 1342.9,739.9 1343.4,737.6 1343.9,739.1 1344.4,740.5 1344.9,733.9 1345.4,741.3 1345.9,737.7 1346.4,740.8 1346.9,736.7 1347.4,733.9 1347.9,741.8 1348.4,743.1 1348.8,733.4 1348.9,735.1 1349.4,739.7 1349.9,737.4 1350.4,743.1 1350.9,739.6 1351.4,741.2 1351.9,744.0 1352.4,738.3 1352.9,744.1 1353.4,751.3 1353.9,748.2 1354.4,744.7 1354.9,751.0 1355.4,754.6 1355.9,753.2 1356.4,749.0 1356.9,749.6 1357.4,751.2 1357.9,750.1 1358.4,753.8 1358.9,751.8 1359.0,752.3 1359.4,756.0 1359.9,754.2 1360.4,755.7 1360.9,762.6 1361.4,758.4 1361.9,761.2 1362.4,759.7 1362.9,760.7 1363.4,756.1 1363.9,758.8 1364.4,760.1 1364.9,760.2 1365.4,761.4 1365.9,763.0 1366.4,762.5 1366.9,765.5 1367.4,763.6 1367.9,767.7 1368.4,765.3 1368.9,764.4 1369.4,763.2 1369.9,765.0 1370.4,767.0 1370.9,771.4 1371.4,765.3 1371.9,771.9 1372.4,769.5 1372.9,768.0 1373.4,767.2 1373.9,772.6 1374.4,766.7 1374.9,771.0 1375.4,771.5 1375.9,772.8 1376.4,775.2 1376.9,772.6 1377.4,775.0 1377.9,772.0 1378.4,775.9 1378.9,777.8 1379.4,775.8 1379.9,778.2 1380.4,778.0 1380.9,777.3 1381.4,778.5 1381.9,778.7 1382.4,774.6 1382.9,776.3 1383.4,781.8 1383.9,775.8 1384.4,784.7 1384.5,778.2 1384.9,782.1 1385.4,783.5 1385.9,780.9 1386.4,785.7 1386.9,779.5 1387.4,785.6 1387.9,783.9 1388.4,783.4 1388.9,786.6 1389.4,785.6 1389.9,781.4 1390.4,788.4 1390.9,787.6 1391.4,785.5 1391.9,785.9 1392.4,789.2 1392.9,790.2 1393.4,787.8 1393.9,783.6 1394.4,787.1 1394.9,789.1 1395.4,785.2 1395.9,784.5 1396.4,787.8 1396.9,788.3 1397.4,789.2 1397.9,791.6 1398.0,783.1 1398.4,788.7 1398.9,787.7 1399.4,788.1 1399.9,788.3 1400.4,790.3 1400.9,788.9 1401.4,787.2 1401.9,787.4 1402.4,787.2 1402.9,786.4 1403.4,789.9 1403.9,781.6 1404.4,782.7 1404.9,790.0 1405.4,787.3 1405.9,787.2 1406.4,788.3 1406.9,780.2 1407.4,788.7 1407.9,782.0 1408.4,782.2 1408.9,787.1 1409.4,781.4 1409.9,785.5 1410.4,787.5 1410.9,782.1 1411.4,782.1 1411.6,785.2 1411.9,786.3 1412.4,785.8 1412.9,781.9 1413.4,790.8 1413.9,789.3 1414.4,782.7 1414.9,787.3 1415.4,787.8 1415.9,789.4 1416.4,792.9 1416.9,791.4 1417.4,797.2 1417.9,797.8 1418.4,796.2 1418.9,794.3 1419.4,797.8 1419.9,799.7 1420.4,802.5 1420.9,799.4 1421.4,801.7 1421.8,799.7 1421.9,801.2 1422.4,805.9 1422.9,807.6 1423.4,803.3 1423.9,804.1 1424.4,803.5 1424.9,802.2 1425.4,807.6 1425.9,808.5 1426.4,809.4 1426.9,808.6 1427.4,810.5 1427.9,810.2 1428.4,813.5 1428.9,812.0 1429.4,815.3 1429.9,814.9 1430.4,813.8 1430.9,810.4 1431.4,815.4 1431.9,815.6 1432.4,820.2 1432.9,817.8 1433.4,813.8 1433.9,815.3 1434.4,820.3 1434.9,818.0 1435.4,816.1 1435.9,820.4 1436.4,820.5 1436.9,819.1 1437.4,821.7 1437.9,819.3 1438.4,824.4 1438.9,817.1 1439.4,822.2 1439.9,822.5 1440.4,823.3 1440.9,819.9 1441.4,819.3 1441.9,824.8 1442.4,821.9 1442.9,819.1 1443.4,822.8 1443.9,824.8 1444.4,823.3 1444.9,820.7 1445.4,825.8 1445.9,820.3 1446.4,826.9 1446.9,828.3 1447.4,826.1 1447.9,828.2 1448.4,828.7 1448.9,827.9 1449.4,827.9 1449.9,830.2 1450.4,830.2 1450.9,836.4 1451.4,830.0 1451.9,838.8 1452.4,834.5 1452.9,834.0 1453.4,835.4 1453.9,835.0 1454.0,832.7 1454.4,840.1 1454.9,838.0 1455.4,836.6 1455.9,835.8 1456.4,838.0 1456.9,836.6 1457.4,843.3 1457.9,835.7 1458.4,838.3 1458.9,838.9 1459.4,842.6 1459.9,842.4 1460.4,841.7 1460.9,842.0 1461.4,843.7 1461.9,841.1 1462.4,844.6 1462.9,840.4 1463.4,845.4 1463.9,843.1 1464.4,847.6 1464.9,842.0 1465.4,844.3 1465.9,843.7 1466.4,848.4 1466.9,842.9 1467.4,848.9 1467.9,848.2 1468.4,848.8 1468.9,846.0 1469.3,849.2 1469.4,852.4 1469.9,846.3 1470.4,848.8 1470.9,847.5 1471.4,845.5 1471.9,846.3 1472.4,849.7 1472.9,848.3 1473.4,842.4 1473.9,849.9 1474.4,847.8 1474.9,851.0 1475.4,847.2 1475.9,854.6 1476.4,846.5 1476.9,850.9 1477.4,846.3 1477.9,849.6 1478.4,846.3 1478.9,852.3 1479.4,849.2 1479.9,853.1 1480.4,849.1 1480.9,845.4 1481.4,847.4 1481.9,848.6 1482.4,853.1 1482.9,856.5 1483.4,849.7 1483.9,851.1 1484.4,853.8 1484.9,848.1 1485.4,850.5 1485.9,853.2 1486.4,852.7 1486.9,852.0 1487.4,850.0 1487.9,853.0 1488.4,854.9 1488.9,851.6 1489.4,853.9 1489.9,859.2 1490.4,855.5 1490.9,856.1 1491.4,852.4 1491.9,853.9 1492.4,854.8 1492.9,853.8 1493.4,853.2 1493.9,852.6 1494.4,856.3 1494.9,859.2 1495.4,859.0 1495.9,859.4 1496.4,860.3 1496.5,856.0 1496.9,856.7 1497.4,858.3 1497.9,857.1 1498.4,860.3 1498.9,858.5 1499.4,863.3 1499.9,858.8 1500.4,862.8 1500.9,866.0 1501.4,859.2 1501.9,861.3 1502.4,861.1 1502.9,860.8 1503.4,864.6 1503.9,865.6 1504.4,862.9 1504.9,863.9 1505.4,866.2 1505.9,866.8 1506.4,863.7 1506.6,872.4 1506.9,866.3 1507.4,867.5 1507.9,866.1 1508.4,867.4 1508.9,866.2 1509.4,873.0 1509.9,864.7 1510.4,869.2 1510.9,871.8 1511.4,866.5 1511.9,872.1 1512.4,874.6 1512.9,872.5 1513.4,872.2 1513.9,872.5 1514.4,872.3 1514.9,874.8 1515.4,871.6 1515.9,875.0 1516.4,873.8 1516.9,873.6 1517.4,872.5 1517.9,877.5 1518.4,874.8 1518.9,879.3 1519.4,877.0 1519.9,877.4 1520.2,875.0 1520.4,875.2 1520.9,879.2 1521.4,877.7 1521.9,878.1 1522.4,879.7 1522.9,879.4 1523.4,877.3 1523.9,885.5 1524.4,886.2 1524.9,879.6 1525.4,875.0 1525.9,876.4 1526.4,880.2 1526.9,877.4 1527.4,878.7 1527.9,874.0 1528.4,880.1 1528.9,882.1 1529.4,876.2 1529.9,878.4 1530.4,878.5 1530.9,873.2 1531.4,878.3 1531.9,878.2 1532.4,876.2 1532.9,877.6 1533.4,880.5 1533.9,880.8 1534.4,880.8 1534.9,878.7 1535.4,878.1 1535.5,880.6 1535.9,879.4 1536.4,883.2 1536.9,883.8 1537.4,880.0 1537.9,877.3 1538.4,882.1 1538.9,880.2 1539.4,884.2 1539.9,884.2 1540.4,880.0 1540.9,885.5 1541.4,886.7 1541.9,884.4 1542.4,885.2 1542.9,882.6 1543.4,882.0 1543.9,887.6 1544.4,885.3 1544.9,884.7 1545.4,885.0 1545.9,887.3 1546.4,885.2 1546.9,884.7 1547.4,885.4 1547.9,886.0 1548.4,885.5 1548.9,887.2 1549.0,885.8 1549.4,886.3 1549.9,892.9 1550.4,888.4 1550.9,893.2 1551.4,886.9 1551.9,891.8 1552.4,890.4 1552.9,895.1 1553.4,890.2 1553.9,896.4 1554.4,890.9 1554.9,892.9 1555.4,890.5 1555.9,893.8 1556.4,893.9 1556.9,892.1 1557.4,890.8 1557.9,898.1 1558.4,897.6 1558.9,895.2 1559.4,897.1 1559.9,896.1 1560.4,898.1 1560.9,899.5 1561.4,900.0 1561.9,898.0 1562.4,898.9 1562.9,900.9 1563.4,898.2 1563.9,898.6 1564.4,900.4 1564.9,901.6 1565.4,899.5 1565.9,902.8 1566.4,900.8 1566.9,899.5 1567.4,901.6 1567.9,897.9 1568.4,897.1 1568.9,902.7 1569.4,897.6 1569.9,900.3 1570.4,905.0 1570.9,903.5 1571.4,900.7 1571.9,903.0 1572.4,899.6 1572.9,900.6 1573.4,903.2 1573.9,905.2 1574.4,903.9 1574.5,903.8 1574.9,902.5 1575.4,904.5 1575.9,906.5 1576.4,907.4 1576.9,905.7 1577.4,905.3 1577.9,906.0 1578.4,906.6 1578.9,904.3 1579.4,904.7 1579.9,904.1 1580.4,904.4 1580.9,910.8 1581.4,908.3 1581.9,904.8 1582.4,906.7 1582.9,907.6 1583.4,906.7 1583.9,904.7 1584.4,910.9 1584.7,904.4 1584.9,909.6 1585.4,907.7 1585.9,905.6 1586.4,907.4 1586.9,903.2 1587.4,908.7 1587.9,909.9 1588.4,906.9 1588.9,909.1 1589.4,902.2 1589.9,907.2 1590.4,905.3 1590.9,911.1 1591.4,909.3 1591.9,908.8 1592.4,908.6 1592.9,908.6 1593.4,911.2 1593.9,906.8 1594.4,911.8 1594.9,911.3 1595.4,912.3 1595.9,908.9 1596.4,912.6 1596.9,912.5 1597.4,911.3 1597.9,913.1 1598.4,909.3 1598.9,910.3 1599.4,913.9 1599.9,915.7 1600.0,906.6 1600.4,913.4 1600.9,908.3 1601.4,912.4 1601.9,910.9 1602.4,913.3 1602.9,912.5 1603.4,914.6 1603.9,915.7 1604.4,913.6 1604.9,916.6 1605.4,914.6 1605.9,917.5 1606.4,919.2 1606.9,917.1 1607.4,917.7 1607.9,913.0 1608.4,916.0 1608.9,916.8 1609.4,918.4 1609.9,915.8 1610.4,916.4 1610.9,919.9 1611.4,921.1 1611.8,923.4 1611.9,924.5 1612.4,922.2 1612.9,920.0 1613.4,922.7 1613.9,919.0 1614.4,921.5 1614.9,925.5 1615.4,924.7 1615.9,920.3 1616.4,923.5 1616.9,920.1 1617.4,919.5 1617.9,917.1 1618.4,922.5 1618.9,921.9 1619.4,923.6 1619.9,923.2 1620.4,920.4 1620.9,923.4 1621.4,925.9 1621.9,927.0 1622.4,923.2 1622.9,922.0 1623.4,922.3 1623.9,921.5 1624.4,919.9 1624.9,925.3 1625.4,923.3 1625.9,921.7 1626.4,925.1 1626.8,923.5 1626.9,918.2 1627.4,923.9 1627.9,919.3 1628.4,916.5 1628.9,920.0 1629.4,918.0 1629.9,916.5 1630.4,921.8 1630.9,917.5 1631.4,916.7 1631.9,915.7 1632.4,914.9 1632.9,915.8 1633.4,914.1 1633.9,922.5 1634.4,911.2 1634.9,913.7 1635.4,911.7 1635.9,910.6 1636.4,910.2 1636.9,911.5 1637.0,913.6 1637.4,914.1 1637.9,912.7 1638.4,909.7 1638.9,915.4 1639.4,914.8 1639.9,914.6 1640.4,908.8 1640.9,911.3 1641.4,911.4 1641.9,910.8 1642.4,910.6 1642.9,910.4 1643.4,908.0 1643.9,911.6 1644.4,911.9 1644.9,909.8 1645.4,908.2 1645.9,908.8 1646.4,910.7 1646.9,907.1 1647.4,909.0 1647.9,905.2 1648.0,907.9 1648.4,904.1 1648.9,904.9 1649.4,913.4 1649.9,908.9 1650.4,911.7 1650.9,902.7 1651.4,909.2 1651.9,909.8 1652.4,909.2 1652.9,911.4 1653.4,909.3 1653.9,915.0 1654.4,913.9 1654.9,909.9 1655.4,914.3 1655.9,914.3 1656.4,918.0 1656.9,917.0 1657.3,911.9 1657.4,912.7 1657.9,916.8 1658.4,910.8 1658.9,915.3 1659.4,911.8 1659.9,914.5 1660.4,914.3 1660.9,913.6 1661.4,910.5 1661.9,912.2 1662.4,914.9 1662.9,911.1 1663.3,912.4 1663.4,915.7 1663.9,917.6 1664.4,918.0 1664.9,915.8 1665.4,917.0 1665.9,917.6 1666.4,918.0 1666.9,920.2 1667.4,918.3 1667.9,924.6 1668.4,923.7 1668.9,928.6 1669.2,929.1 1669.4,930.3 1669.9,925.7 1670.4,927.9 1670.9,927.4 1671.4,926.1 1671.9,929.1 1672.4,929.6 1672.9,935.2 1673.4,926.4 1673.9,935.3 1674.4,934.2 1674.9,934.5 1675.4,935.7 1675.9,938.4 1676.4,937.8 1676.9,944.8 1677.4,940.1 1677.7,938.9 1677.9,938.8 1678.4,939.8 1678.9,944.5 1679.4,942.0 1679.9,944.3 1680.4,937.8 1680.9,939.9 1681.4,941.5 1681.9,941.0 1682.4,943.4 1682.9,944.5 1683.4,941.1 1683.9,935.0 1684.4,940.0 1684.9,939.5 1685.4,944.1 1685.9,947.9 1686.4,943.9 1686.9,947.7 1687.4,944.2 1687.9,946.3 1688.4,944.2 1688.9,945.3 1689.4,941.0 1689.9,942.5 1690.4,946.9 1690.9,945.4 1691.4,939.6 1691.9,945.7 1692.4,946.0 1692.9,942.1 1693.4,943.6 1693.9,941.3 1694.4,943.4 1694.7,943.0 1694.9,941.8 1695.4,943.0 1695.9,942.1 1696.4,945.5 1696.9,942.6 1697.4,945.4 1697.9,945.6 1698.4,943.3 1698.9,944.6 1699.4,946.8 1699.9,949.8 1700.4,945.1 1700.9,946.8 1701.4,947.0 1701.9,943.4 1702.4,947.8 1702.9,950.4 1703.4,950.8 1703.9,948.0 1704.4,950.9 1704.9,949.3 1705.4,951.2 1705.9,953.0 1706.4,949.4 1706.5,952.3 1706.9,947.4 1707.4,954.4 1707.9,948.5 1708.4,952.7 1708.9,952.8 1709.4,955.9 1709.9,958.7 1710.4,954.2 1710.9,955.2 1711.4,953.0 1711.9,957.5 1712.4,959.0 1712.9,959.9 1713.4,955.0 1713.9,955.7 1714.4,960.6 1714.9,961.2 1715.4,954.2 1715.9,957.7 1716.4,954.7 1716.7,960.0 1716.9,960.9 1717.4,961.7 1717.9,962.1 1718.4,962.8 1718.9,961.2 1719.4,957.8 1719.9,962.4 1720.4,963.9 1720.9,958.7 1721.4,960.0 1721.9,965.6 1722.4,966.9 1722.9,961.9 1723.4,960.0 1723.9,962.0 1724.4,961.6 1724.9,962.7 1725.4,966.1 1725.9,959.5 1726.4,959.4 1726.9,969.6 1727.4,963.3 1727.9,969.0 1728.4,962.0 1728.9,969.4 1729.4,964.4 1729.9,966.1 1730.4,965.7 1730.9,971.2 1731.4,967.9 1731.9,968.7 1732.4,973.5 1732.9,976.4 1733.4,974.2 1733.9,974.4 1734.4,976.4 1734.9,979.2 1735.4,975.1 1735.9,973.4 1736.4,980.6 1736.9,979.7 1737.4,973.3 1737.9,978.5 1738.4,977.7 1738.9,976.6 1739.4,974.1 1739.9,973.6 1740.4,975.9 1740.9,977.3 1741.4,981.7 1741.9,974.3 1742.4,980.5 1742.9,978.6 1743.4,980.3 1743.9,983.5 1744.4,977.5 1744.9,979.1 1745.4,974.7 1745.9,977.4 1746.4,983.1 1746.9,984.4 1747.4,979.9 1747.9,979.6 1748.4,981.0 1748.9,980.7 1749.4,985.7 1749.9,977.7 1750.4,976.1 1750.9,978.6 1751.4,977.1 1751.9,980.9 1752.4,980.9 1752.9,977.1 1753.4,980.9 1753.9,980.3 1754.4,981.8 1754.9,979.7 1755.4,980.4 1755.9,980.8 1756.4,984.9 1756.9,978.8 1757.4,980.3 1757.9,982.1 1758.4,981.8 1758.9,985.0 1759.4,981.4 1759.9,983.2 1760.4,982.5 1760.8,980.4 1760.9,981.8 1761.4,982.6 1761.9,980.8 1762.4,989.4 1762.9,983.7 1763.4,985.9 1763.9,987.6 1764.4,988.5 1764.9,979.2 1765.4,982.2 1765.9,980.5 1766.4,982.9 1766.9,983.4 1767.4,980.7 1767.9,987.3 1768.4,987.9 1768.9,983.0 1769.4,986.7 1769.9,987.2 1770.4,986.9 1770.9,982.0 1771.4,991.6 1771.9,990.9 1772.4,984.6 1772.7,984.7 1772.9,982.6 1773.4,987.4 1773.9,985.8 1774.4,987.0 1774.9,984.7 1775.4,982.5 1775.9,983.2 1776.4,984.0 1776.9,985.9 1777.4,984.9 1777.9,987.4 1778.4,987.1 1778.9,987.7 1779.4,986.1 1779.9,989.9 1780.4,990.6 1780.9,983.9 1781.4,982.5 1781.9,987.0 1782.4,986.5 1782.9,987.0 1783.4,983.9 1783.9,982.7 1784.4,985.0 1784.9,989.9 1785.4,985.1 1785.9,987.5 1786.4,984.5 1786.9,983.8 1787.4,984.1 1787.9,980.6 1788.4,984.8 1788.9,988.7 1789.4,986.8 1789.9,984.7 1790.4,986.8 1790.9,987.7 1791.4,989.2 1791.9,985.5 1792.4,987.4 1792.9,988.4 1793.4,990.3 1793.9,984.7 1794.4,987.2 1794.9,983.6 1795.4,986.1 1795.9,989.2 1796.4,992.7 1796.9,988.0 1797.4,987.7 1797.9,986.3 1798.4,985.5 1798.9,986.9 1799.4,990.8 1799.8,984.1 1799.9,988.8 1800.4,987.8 1800.9,987.1 1801.4,990.5 1801.9,988.1 1802.4,987.5 1802.9,988.9 1803.4,986.7 1803.9,986.6 1804.4,988.9 1804.9,988.2 1805.4,993.5 1805.9,991.2 1806.4,988.7 1806.9,991.5 1807.4,993.7 1807.9,993.6 1808.4,996.6 1808.9,990.5 1809.4,995.9 1809.9,991.9 1810.4,993.2 1810.9,991.1 1811.4,990.8 1811.7,998.0 1811.9,998.3 1812.4,994.5 1812.9,996.0 1813.4,994.7 1813.9,998.3 1814.4,990.0 1814.9,998.8 1815.4,990.7 1815.9,999.0 1816.4,1000.6 1816.9,992.3 1817.4,993.8 1817.9,995.7 1818.4,998.0 1818.5,990.6 1818.9,995.1 1819.4,996.5 1819.9,996.1 1820.4,995.1 1820.9,991.7 1821.4,991.1 1821.9,990.1 1822.4,997.1 1822.9,987.6 1823.0,990.6 1823.4,988.3 1823.9,987.6 1824.4,987.6 1824.9,984.3 1825.4,984.7 1825.9,982.3 1826.1,984.8 1826.4,982.7 1826.9,985.0 1827.4,986.1 1827.9,991.9 1828.4,993.0 1828.9,986.6 1829.4,988.8 1829.5,987.3 1829.9,990.7 1830.4,992.1 1830.9,991.4 1831.4,994.8 1831.9,993.4 1832.4,995.4 1832.9,991.6 1833.4,998.7 1833.8,995.3 1833.9,996.7 1834.4,1000.1 1834.9,995.6 1835.4,1002.5 1835.9,1001.2 1836.4,1001.9 1836.9,998.4 1837.4,999.3 1837.9,1003.5 1838.4,1003.2 1838.9,1003.2 1839.4,1005.0 1839.9,1003.8 1840.4,1006.3 1840.9,1008.7 1841.4,1005.8 1841.9,1006.6 1842.4,1009.1 1842.9,1008.9 1843.4,1010.6 1843.9,1011.6 1844.0,1007.3 1844.4,1015.7 1844.9,1011.4 1845.4,1012.3 1845.9,1009.3 1846.4,1011.9 1846.9,1011.9 1847.4,1010.3 1847.9,1012.5 1848.4,1009.4 1848.9,1019.1 1849.4,1014.2 1849.9,1015.0 1850.4,1014.7 1850.9,1012.2 1851.4,1014.5 1851.9,1007.9 1852.4,1012.2 1852.9,1016.4 1853.4,1014.5 1853.9,1009.9 1854.4,1011.9 1854.9,1017.8 1855.4,1011.5 1855.9,1016.3 1856.4,1011.7 1856.9,1018.7 1857.4,1018.0 1857.5,1019.0 1857.9,1016.0 1858.4,1018.1 1858.9,1017.9 1859.4,1014.3 1859.9,1018.0 1860.4,1016.3 1860.9,1015.2 1861.4,1015.6 1861.9,1021.5 1862.4,1021.0 1862.9,1018.2 1863.4,1014.2 1863.9,1021.0 1864.4,1022.7 1864.9,1021.6 1865.4,1019.6 1865.9,1016.9 1866.4,1020.5 1866.9,1018.7 1867.4,1019.2 1867.9,1021.2 1868.4,1020.0 1868.9,1022.0 1869.4,1024.3 1869.9,1018.5 1870.4,1023.1 1870.9,1023.7 1871.1,1022.0 1871.4,1017.8 1871.9,1020.9 1872.4,1028.9 1872.9,1025.2 1873.4,1020.6 1873.9,1022.8 1874.4,1022.8 1874.9,1024.3 1875.4,1025.0 1875.9,1026.5 1876.4,1025.0 1876.9,1022.6 1877.4,1027.2 1877.9,1023.2 1878.4,1026.7 1878.9,1030.1 1879.4,1026.0 1879.9,1021.7 1880.4,1027.6 1880.9,1027.2 1881.4,1023.8 1881.9,1028.1 1882.4,1026.9 1882.9,1024.2 1883.0,1027.4 1883.4,1026.8 1883.9,1023.0 1884.4,1028.5 1884.9,1024.3 1885.4,1029.8 1885.9,1025.4 1886.4,1030.5 1886.9,1030.0 1887.4,1026.3 1887.9,1031.6 1888.4,1033.4 1888.9,1027.2 1889.4,1029.1 1889.9,1029.0 1890.4,1031.2 1890.9,1036.0 1891.4,1032.7 1891.5,1036.2 1891.9,1032.3 1892.4,1036.1 1892.9,1031.5 1893.4,1032.1 1893.9,1029.1 1894.4,1035.3 1894.9,1033.0 1895.4,1032.3 1895.9,1031.0 1896.4,1035.2 1896.9,1034.7 1897.4,1031.5 1897.9,1037.5 1898.4,1034.1 1898.9,1033.8 1899.4,1039.0 1899.9,1034.2 1900.4,1034.3 1900.9,1033.9 1901.4,1040.4 1901.9,1040.4 1902.4,1037.6 1902.9,1034.8 1903.4,1033.7 1903.9,1036.5 1904.4,1035.7 1904.9,1031.7 1905.4,1038.7 1905.9,1034.6 1906.4,1037.6 1906.9,1035.8 1907.4,1036.0 1907.9,1032.9 1908.4,1034.2 1908.9,1034.9 1909.4,1036.6 1909.9,1037.6 1910.4,1036.1 1910.9,1035.0 1911.4,1039.7 1911.9,1037.1 1912.4,1038.5 1912.9,1038.3 1913.4,1035.3 1913.9,1036.0 1914.4,1039.8 1914.9,1042.7 1915.4,1039.1 1915.9,1036.4 1916.4,1041.2 1916.9,1034.2 1917.4,1036.3 1917.9,1041.7 1918.4,1037.5 1918.9,1042.5 1919.4,1034.5 1919.9,1037.3 1920.3,1039.8 1920.4,1039.5 1920.9,1040.0 1921.4,1039.5 1921.9,1038.2 1922.4,1042.5 1922.9,1038.6 1923.4,1037.4 1923.9,1040.5 1924.4,1034.6 1924.9,1043.3 1925.4,1042.7 1925.9,1041.6 1926.4,1040.3 1926.9,1037.7 1927.4,1038.2 1927.9,1044.4 1928.4,1043.2 1928.9,1044.2 1929.4,1043.1 1929.9,1044.5 1930.4,1040.0 1930.5,1045.6"/>
<polyline stroke="#ff0000" points="174.4,1356.8 174.9,1357.0 175.4,1352.8 175.9,1359.3 176.4,1352.5 176.9,1353.8 177.4,1355.8 177.9,1352.2 178.4,1352.1 178.9,1351.9 179.4,1354.1 179.9,1356.9 180.4,1352.3 180.9,1349.7 181.2,1352.5 181.4,1350.1 181.9,1350.3 182.4,1351.6 182.9,1347.2 183.4,1347.7 183.9,1345.2 184.4,1345.7 184.9,1345.6 185.4,1342.5 185.9,1342.8 186.4,1342.1 186.5,1341.2 186.9,1340.1 187.4,1339.5 187.9,1341.7 188.4,1341.4 188.9,1345.8 189.4,1337.1 189.9,1341.6 190.4,1342.0 190.9,1343.7 191.4,1341.9 191.8,1339.3 191.9,1340.8 192.4,1341.5 192.9,1339.6 193.4,1341.2 193.9,1336.0 194.4,1342.3 194.9,1341.5 195.4,1337.8 195.9,1339.2 196.0,1338.1 196.4,1297.6 196.9,1250.6 197.1,1232.9 197.4,1261.7 197.9,1313.9 198.2,1345.9 198.4,1347.0 198.9,1349.2 199.4,1346.2 199.9,1348.9 200.4,1348.9 200.9,1345.6 201.4,1348.9 201.7,1349.8 201.9,1350.0 202.4,1351.0 202.9,1347.0 203.4,1351.1 203.9,1350.1 204.4,1349.0 204.9,1352.9 205.4,1353.6 205.5,1351.1 205.9,1353.9 206.4,1351.7 206.9,1352.6 207.4,1350.5 207.9,1355.5 208.4,1347.7 208.9,1352.6 209.4,1354.1 209.9,1349.1 210.4,1352.6 210.9,1352.8 211.4,1354.6 211.9,1355.4 212.4,1352.4 212.9,1350.7 213.4,1355.8 213.9,1355.6 214.4,1352.5 214.9,1354.1 215.4,1354.2 215.9,1354.6 216.4,1354.0 216.9,1356.3 217.4,1350.6 217.6,1355.7 217.9,1354.5 218.4,1353.3 218.9,1355.8 219.4,1349.2 219.9,1355.6 220.4,1354.1 220.9,1351.2 221.4,1354.1 221.9,1352.6 222.4,1357.9 222.9,1356.4 223.4,1353.8 223.9,1351.6 224.4,1351.8 224.9,1352.2 225.4,1351.7 225.9,1351.0 226.4,1351.5 226.9,1352.0 227.4,1351.5 227.9,1351.1 228.2,1350.6 228.4,1356.9 228.9,1349.1 229.4,1349.5 229.9,1351.8 230.4,1350.1 230.9,1351.1 231.4,1351.4 231.9,1351.9 232.4,1350.6 232.9,1346.9 233.4,1350.5 233.9,1344.8 234.4,1347.5 234.9,1346.4 235.4,1345.0 235.9,1347.6 236.4,1345.8 236.9,1347.7 237.3,1342.8 237.4,1346.9 237.9,1345.6 238.4,1344.2 238.9,1340.6 239.4,1342.0 239.9,1338.9 240.4,1337.2 240.9,1346.4 241.4,1341.4 241.9,1342.3 242.4,1337.4 242.9,1338.8 243.4,1338.1 243.9,1337.2 244.4,1335.4 244.8,1334.4 244.9,1330.7 245.4,1334.6 245.9,1333.1 246.4,1333.3 246.9,1329.6 247.4,1332.2 247.9,1327.0 248.4,1324.4 248.9,1327.3 249.4,1323.6 249.9,1321.1 250.2,1322.9 250.4,1324.5 250.9,1324.4 251.4,1325.8 251.9,1333.3 252.4,1328.1 252.9,1330.3 253.4,1324.7 253.9,1330.0 254.4,1331.6 254.9,1330.4 255.4,1330.3 255.9,1333.6 256.4,1333.2 256.9,1333.5 257.0,1336.9 257.4,1338.0 257.9,1337.0 258.4,1336.5 258.9,1339.1 259.4,1340.6 259.9,1341.1 260.4,1338.2 260.9,1341.1 261.4,1343.3 261.9,1344.7 262.4,1346.2 262.9,1346.7 263.0,1343.4 263.4,1344.3 263.9,1343.6 264.4,1349.3 264.9,1346.5 265.4,1347.4 265.9,1348.5 266.4,1346.1 266.9,1344.8 267.4,1346.3 267.9,1347.0 268.4,1350.2 268.9,1349.2 269.1,1345.7 269.4,1348.9 269.9,1349.0 270.4,1345.7 270.9,1347.4 271.4,1344.2 271.9,1348.2 272.4,1347.0 272.9,1345.0 273.4,1346.2 273.9,1347.9 274.4,1346.4 274.9,1348.0 275.4,1348.4 275.9,1345.8 276.4,1346.8 276.9,1351.3 277.4,1347.5 277.9,1345.7 278.4,1347.4 278.9,1344.8 279.4,1349.3 279.9,1347.9 280.4,1349.2 280.9,1348.8 281.4,1347.9 281.9,1348.9 282.4,1347.4 282.9,1345.8 283.4,1345.1 283.9,1346.2 284.2,1342.4 284.4,1350.3 284.9,1343.7 285.4,1346.6 285.9,1344.2 286.4,1342.8 286.9,1346.3 287.4,1345.8 287.9,1346.0 288.4,1347.2 288.9,1345.0 289.4,1346.7 289.9,1346.9 290.4,1345.2 290.9,1345.2 291.4,1346.6 291.9,1345.7 292.4,1345.7 292.9,1341.0 293.4,1345.4 293.9,1345.9 294.4,1344.8 294.9,1345.6 295.4,1348.4 295.9,1345.0 296.4,1345.9 296.9,1343.3 297.4,1343.5 297.9,1344.3 298.4,1343.5 298.9,1345.5 299.4,1344.0 299.9,1345.5 300.4,1343.4 300.9,1343.1 301.4,1345.1 301.9,1344.5 302.4,1345.5 302.9,1345.7 303.4,1346.4 303.9,1349.1 304.4,1349.9 304.9,1348.8 305.4,1347.0 305.5,1350.5 305.9,1344.8 306.4,1343.9 306.9,1348.0 307.4,1347.5 307.9,1347.2 308.4,1347.4 308.9,1344.3 309.4,1345.1 309.9,1349.5 310.4,1349.1 310.9,1345.8 311.4,1350.6 311.9,1345.0 312.4,1345.9 312.9,1347.4 313.4,1344.6 313.9,1345.9 314.4,1346.4 314.9,1345.9 315.4,1348.2 315.9,1347.6 316.4,1344.5 316.9,1345.2 317.4,1346.7 317.9,1346.2 318.4,1344.8 318.9,1347.0 319.1,1347.7 319.4,1345.0 319.9,1347.5 320.4,1342.9 320.9,1342.8 321.4,1346.6 321.9,1344.0 322.4,1343.5 322.9,1344.8 323.4,1343.9 323.9,1345.6 324.4,1342.2 324.9,1344.1 325.4,1350.5 325.9,1344.7 326.4,1340.9 326.9,1345.4 327.4,1345.2 327.9,1346.6 328.0,1344.3 328.4,1342.2 328.9,1345.2 329.4,1343.1 329.9,1337.7 330.4,1341.6 330.9,1339.0 331.2,1341.1 331.4,1338.7 331.9,1341.7 332.4,1341.5 332.9,1343.1 333.4,1342.9 333.9,1343.1 334.0,1344.1 334.4,1345.5 334.9,1345.5 335.4,1348.2 335.8,1346.3 335.9,1346.7 336.4,1349.4 336.9,1345.6 337.4,1346.5 337.9,1344.4 338.4,1345.6 338.9,1348.5 339.4,1346.1 339.9,1348.2 340.4,1343.5 340.9,1342.9 341.4,1346.1 341.9,1343.0 342.4,1350.4 342.9,1347.8 343.4,1343.2 343.9,1345.2 344.4,1344.4 344.9,1346.3 345.4,1345.4 345.9,1347.2 346.4,1348.2 346.9,1345.1 347.4,1343.3 347.9,1346.5 348.4,1345.2 348.9,1347.6 349.4,1345.2 349.9,1347.0 350.4,1346.1 350.9,1345.2 351.4,1344.7 351.9,1346.8 352.4,1350.2 352.9,1347.0 353.4,1345.3 353.9,1346.8 354.4,1345.7 354.9,1343.1 355.4,1346.1 355.9,1348.4 356.4,1344.9 356.9,1343.4 357.0,1346.4 357.4,1348.8 357.9,1347.1 358.4,1347.2 358.9,1349.5 359.4,1348.1 359.9,1346.4 360.4,1344.6 360.9,1345.2 361.4,1344.6 361.9,1346.3 362.4,1343.0 362.9,1347.5 363.4,1344.8 363.9,1343.7 364.4,1345.9 364.9,1340.5 365.4,1342.7 365.9,1342.9 366.4,1345.6 366.9,1343.1 367.4,1346.6 367.9,1343.0 368.4,1344.7 368.9,1342.4 369.4,1345.7 369.9,1343.1 370.4,1344.4 370.9,1342.5 371.4,1341.3 371.9,1342.8 372.1,1345.2 372.4,1341.3 372.9,1340.3 373.4,1342.5 373.9,1344.5 374.4,1341.0 374.9,1341.9 375.4,1343.2 375.9,1342.2 376.4,1343.3 376.9,1344.9 377.4,1342.7 377.9,1342.5 378.4,1344.0 378.9,1342.4 379.4,1340.7 379.9,1340.6 380.4,1340.3 380.9,1345.9 381.4,1342.2 381.9,1343.3 382.4,1343.5 382.9,1340.4 383.4,1343.2 383.9,1341.0 384.4,1338.1 384.9,1341.5 385.4,1339.9 385.9,1341.2 386.4,1342.4 386.9,1346.0 387.3,1340.8 387.4,1341.3 387.9,1342.1 388.4,1341.5 388.9,1340.6 389.4,1338.6 389.9,1338.6 390.4,1339.8 390.9,1337.7 391.4,1338.4 391.9,1337.0 392.4,1341.1 392.9,1336.0 393.3,1342.1 393.4,1337.5 393.9,1336.6 394.4,1336.3 394.9,1339.9 395.4,1340.3 395.9,1336.8 396.4,1338.9 396.9,1338.0 397.4,1337.8 397.9,1338.5 398.4,1339.6 398.9,1334.6 399.4,1333.9 399.9,1338.4 400.4,1337.8 400.9,1339.2 401.4,1334.7 401.9,1336.0 402.4,1340.6 402.9,1335.3 403.4,1338.4 403.9,1336.2 404.4,1336.9 404.9,1335.0 405.4,1339.7 405.9,1333.9 406.4,1335.2 406.9,1335.7 407.4,1339.5 407.9,1337.8 408.4,1338.5 408.9,1337.2 409.4,1337.6 409.9,1338.0 410.0,1340.0 410.4,1337.6 410.9,1334.5 411.4,1339.4 411.9,1337.5 412.4,1335.3 412.9,1337.1 413.4,1335.6 413.9,1341.3 414.4,1336.9 414.9,1333.9 415.4,1338.2 415.9,1336.1 416.4,1340.1 416.9,1338.0 417.4,1334.5 417.9,1337.0 418.4,1335.9 418.9,1336.6 419.4,1336.8 419.9,1334.4 420.4,1338.5 420.9,1336.6 421.4,1336.6 421.9,1339.7 422.4,1341.8 422.9,1337.2 423.4,1341.8 423.9,1334.7 424.4,1339.6 424.9,1337.5 425.2,1338.5 425.4,1336.6 425.9,1337.1 426.4,1337.3 426.9,1336.9 427.4,1338.0 427.9,1341.2 428.4,1335.4 428.9,1336.0 429.4,1332.7 429.9,1331.0 430.4,1337.9 430.9,1332.5 431.2,1333.4 431.4,1334.9 431.9,1336.7 432.4,1335.7 432.9,1338.7 433.4,1335.0 433.9,1332.1 434.4,1335.9 434.9,1336.0 435.4,1334.3 435.9,1335.4 436.4,1335.0 436.9,1339.4 437.4,1335.2 437.9,1333.9 438.4,1337.1 438.9,1333.4 439.4,1337.7 439.9,1337.8 440.3,1335.5 440.4,1336.1 440.9,1336.0 441.4,1340.1 441.9,1337.9 442.4,1334.9 442.9,1334.9 443.4,1337.1 443.9,1337.2 444.4,1335.8 444.9,1337.8 445.4,1336.9 445.9,1339.3 446.4,1338.1 446.9,1337.2 447.4,1337.6 447.9,1335.7 448.4,1339.0 448.9,1338.1 449.4,1336.6 449.9,1337.7 450.4,1336.5 450.9,1342.1 451.4,1336.7 451.9,1338.5 452.4,1338.2 452.9,1336.1 453.4,1337.6 453.9,1337.0 454.4,1338.1 454.9,1338.1 455.4,1339.0 455.9,1339.1 456.4,1336.9 456.9,1336.7 457.4,1336.6 457.9,1336.1 458.4,1334.5 458.9,1338.9 459.4,1337.6 459.9,1337.4 460.4,1334.7 460.9,1335.0 461.4,1333.2 461.9,1337.7 462.4,1339.1 462.9,1339.0 463.4,1337.8 463.9,1335.9 464.4,1337.9 464.9,1338.0 465.4,1339.3 465.9,1339.4 466.0,1337.5 466.4,1337.8 466.9,1339.0 467.4,1338.4 467.9,1337.1 468.4,1333.3 468.9,1335.9 469.4,1338.6 469.9,1337.2 470.4,1338.5 470.9,1336.0 471.4,1336.6 471.9,1337.8 472.4,1337.4 472.9,1336.8 473.4,1337.9 473.9,1338.2 474.4,1338.2 474.9,1332.4 475.4,1334.4 475.9,1334.6 476.4,1334.4 476.9,1331.9 477.4,1337.1 477.9,1332.7 478.4,1334.6 478.9,1329.9 479.4,1333.2 479.9,1333.6 480.0,1332.3 480.4,1335.5 480.9,1338.7 481.4,1332.8 481.9,1333.0 482.4,1338.0 482.9,1336.0 483.4,1334.5 483.9,1332.9 484.4,1336.8 484.9,1336.0 485.4,1338.7 485.9,1334.4 486.4,1335.8 486.9,1335.7 487.4,1336.1 487.9,1338.6 488.4,1338.4 488.9,1335.8 489.4,1337.0 489.9,1336.9 490.4,1339.1 490.9,1337.3 491.4,1335.7 491.9,1337.3 492.0,1337.9 492.4,1339.8 492.9,1340.5 493.4,1340.6 493.9,1339.0 494.4,1337.4 494.9,1339.6 495.4,1338.2 495.9,1337.5 496.4,1339.3 496.9,1339.6 497.4,1340.5 497.9,1337.3 498.4,1336.0 498.9,1340.1 499.4,1337.4 499.9,1341.1 500.4,1337.3 500.9,1338.4 501.4,1336.2 501.9,1343.4 502.4,1338.9 502.9,1339.6 503.4,1338.9 503.9,1339.5 504.0,1341.5 504.4,1340.2 504.9,1339.9 505.4,1342.1 505.9,1337.4 506.4,1342.0 506.9,1342.8 507.4,1337.3 507.9,1340.4 508.4,1337.5 508.9,1335.9 509.4,1338.2 509.9,1340.8 510.4,1341.2 510.9,1339.1 511.4,1338.2 511.9,1338.9 512.4,1338.4 512.9,1338.6 513.4,1335.2 513.9,1339.2 514.4,1339.5 514.9,1343.7 515.4,1340.9 515.9,1339.4 516.4,1339.8 516.9,1340.2 517.4,1338.3 517.9,1335.7 518.4,1338.2 518.9,1339.1 519.4,1339.7 519.9,1338.2 520.4,1337.8 520.9,1339.0 521.4,1339.6 521.9,1340.5 522.4,1339.0 522.9,1340.2 523.4,1337.6 523.9,1340.9 524.4,1339.3 524.9,1336.9 525.4,1338.9 525.9,1339.5 526.4,1337.4 526.9,1340.7 527.4,1338.7 527.9,1340.1 528.4,1337.4 528.9,1339.8 529.4,1340.6 529.9,1338.4 530.4,1338.9 530.9,1338.2 531.4,1339.8 531.9,1339.2 532.4,1340.1 532.9,1339.0 533.4,1336.8 533.9,1336.7 534.4,1338.3 534.9,1340.0 535.4,1343.3 535.9,1340.7 536.4,1337.9 536.9,1335.3 537.4,1340.0 537.9,1339.1 538.4,1336.8 538.9,1340.7 539.4,1339.0 539.9,1338.2 540.0,1335.4 540.4,1340.8 540.9,1339.3 541.4,1338.8 541.9,1337.5 542.4,1338.7 542.9,1341.8 543.4,1340.6 543.9,1343.4 544.4,1341.7 544.9,1340.5 545.4,1341.6 545.9,1340.3 546.4,1337.5 546.9,1339.1 547.4,1340.9 547.9,1338.7 548.4,1339.5 548.9,1338.3 549.4,1343.8 549.9,1338.3 550.4,1338.9 550.9,1339.3 551.0,1342.8 551.4,1342.3 551.9,1338.2 552.4,1339.2 552.9,1335.5 553.4,1336.2 553.5,1340.8 553.9,1335.9 554.4,1331.7 554.9,1327.0 555.0,1328.4 555.4,1328.4 555.9,1329.1 556.4,1336.6 556.5,1337.1 556.9,1336.8 557.4,1338.9 557.9,1334.6 558.4,1340.9 558.9,1336.9 559.0,1339.7 559.4,1339.8 559.9,1341.0 560.4,1342.7 560.9,1339.6 561.4,1338.2 561.9,1336.9 562.4,1339.4 562.9,1337.3 563.4,1336.4 563.9,1338.5 564.4,1340.1 564.9,1338.3 565.4,1336.9 565.9,1339.1 566.4,1336.5 566.9,1336.0 567.4,1341.5 567.9,1339.2 568.4,1342.4 568.9,1336.0 569.4,1340.7 569.9,1338.4 570.4,1343.7 570.9,1338.3 571.4,1337.9 571.9,1339.5 572.4,1339.0 572.9,1337.8 573.4,1340.3 573.9,1339.9 574.4,1340.3 574.9,1339.4 575.4,1337.3 575.9,1337.3 576.4,1339.7 576.9,1336.8 577.4,1341.7 577.9,1338.6 578.4,1337.1 578.9,1340.4 579.4,1338.5 579.9,1340.7 580.4,1338.9 580.9,1341.7 581.4,1337.7 581.9,1334.4 582.4,1335.6 582.9,1335.4 583.4,1339.5 583.9,1341.7 584.4,1338.0 584.9,1335.9 585.4,1339.6 585.9,1339.2 586.4,1337.6 586.9,1339.1 587.4,1338.3 587.9,1336.2 588.4,1339.6 588.9,1337.3 589.4,1336.5 589.9,1337.8 590.4,1341.1 590.9,1341.9 591.4,1340.8 591.9,1337.3 592.4,1336.3 592.9,1338.8 593.4,1337.9 593.9,1338.4 594.4,1336.0 594.9,1336.5 595.4,1336.1 595.9,1339.5 596.4,1340.1 596.9,1336.8 597.4,1339.1 597.9,1339.2 598.4,1336.7 598.9,1338.0 599.4,1339.5 599.9,1336.1 600.0,1340.3 600.4,1337.6 600.9,1338.0 601.4,1337.3 601.9,1335.0 602.4,1338.3 602.9,1337.6 603.4,1336.7 603.9,1337.0 604.4,1338.1 604.9,1337.0 605.4,1336.2 605.9,1337.3 606.4,1338.4 606.9,1337.0 607.4,1335.4 607.9,1338.4 608.4,1336.2 608.9,1337.7 609.4,1336.3 609.9,1334.8 610.4,1334.1 610.9,1334.7 611.4,1335.9 611.9,1332.0 612.4,1336.8 612.9,1338.1 613.4,1335.5 613.9,1333.9 614.4,1332.8 614.9,1336.2 615.4,1336.5 615.9,1335.7 616.4,1336.8 616.9,1334.2 617.4,1334.9 617.9,1335.8 618.4,1334.8 618.9,1336.1 619.4,1336.0 619.9,1334.5 620.0,1333.2 620.4,1333.6 620.9,1337.0 621.4,1332.7 621.9,1335.0 622.4,1333.0 622.9,1339.1 623.4,1333.7 623.9,1336.0 624.4,1333.0 624.9,1340.7 625.4,1332.3 625.9,1335.4 626.4,1332.4 626.9,1336.2 627.4,1332.3 627.9,1333.8 628.4,1331.6 628.9,1333.8 629.4,1334.5 629.9,1337.7 630.4,1330.2 630.9,1335.5 631.4,1334.5 631.9,1333.3 632.4,1334.0 632.9,1335.1 633.4,1334.3 633.9,1334.2 634.4,1332.8 634.9,1333.5 635.4,1335.1 635.9,1332.5 636.4,1333.2 636.9,1334.3 637.4,1334.7 637.9,1334.8 638.4,1333.7 638.9,1330.3 639.4,1335.4 639.9,1335.9 640.0,1336.2 640.4,1334.6 640.9,1335.6 641.4,1333.5 641.9,1331.9 642.4,1333.7 642.9,1333.5 643.4,1335.8 643.9,1335.5 644.4,1333.0 644.9,1333.2 645.4,1333.9 645.9,1334.1 646.4,1336.6 646.9,1333.1 647.4,1336.4 647.9,1331.4 648.4,1332.7 648.9,1337.0 649.4,1334.7 649.9,1334.2 650.4,1335.1 650.9,1333.6 651.4,1334.1 651.9,1334.4 652.4,1334.4 652.9,1334.6 653.4,1332.9 653.9,1334.6 654.4,1332.6 654.9,1335.0 655.4,1333.7 655.9,1334.4 656.4,1334.5 656.9,1332.6 657.4,1333.0 657.9,1333.7 658.4,1334.8 658.9,1335.7 659.4,1333.9 659.9,1332.7 660.0,1334.4 660.4,1333.8 660.9,1335.0 661.4,1335.6 661.9,1336.8 662.4,1330.0 662.9,1331.9 663.4,1332.5 663.9,1333.8 664.4,1333.4 664.9,1332.1 665.4,1333.2 665.9,1330.6 666.4,1330.7 666.9,1331.8 667.4,1329.0 667.9,1333.7 668.4,1329.1 668.9,1328.3 669.4,1330.8 669.9,1326.5 670.0,1329.2 670.4,1329.6 670.9,1332.2 671.4,1335.4 671.9,1330.1 672.4,1327.4 672.9,1330.2 673.4,1330.8 673.9,1327.9 674.4,1330.2 674.9,1332.4 675.4,1330.3 675.9,1327.9 676.4,1328.3 676.9,1326.3 677.4,1328.4 677.9,1328.1 678.4,1331.7 678.9,1326.2 679.4,1326.1 679.9,1329.3 680.4,1330.0 680.9,1327.9 681.4,1329.2 681.9,1330.0 682.4,1330.1 682.9,1329.4 683.4,1329.6 683.9,1325.7 684.4,1330.0 684.9,1328.7 685.4,1326.9 685.9,1327.7 686.4,1327.8 686.9,1327.3 687.4,1327.9 687.9,1327.5 688.4,1325.5 688.9,1332.0 689.4,1328.7 689.9,1332.0 690.4,1327.4 690.9,1330.8 691.4,1327.6 691.9,1330.7 692.4,1329.4 692.9,1329.1 693.4,1327.3 693.9,1328.0 694.4,1330.0 694.9,1323.8 695.4,1326.2 695.9,1325.1 696.4,1325.6 696.9,1328.4 697.4,1328.8 697.9,1326.8 698.4,1329.2 698.9,1325.7 699.4,1325.9 699.9,1327.2 700.0,1327.7 700.4,1326.7 700.9,1324.9 701.4,1327.9 701.9,1329.9 702.4,1326.0 702.9,1326.7 703.4,1324.5 703.9,1326.5 704.4,1324.8 704.9,1326.7 705.4,1329.2 705.9,1327.2 706.4,1324.9 706.9,1327.6 707.4,1322.9 707.9,1328.2 708.4,1326.5 708.9,1323.9 709.4,1325.2 709.9,1324.1 710.4,1329.4 710.9,1326.7 711.4,1323.7 711.9,1324.3 712.4,1325.7 712.9,1324.3 713.4,1325.7 713.9,1325.9 714.4,1322.5 714.9,1326.2 715.4,1328.1 715.9,1325.6 716.0,1326.1 716.4,1324.1 716.9,1324.3 717.4,1325.9 717.9,1323.8 718.4,1322.6 718.9,1327.2 719.4,1324.6 719.9,1326.4 720.4,1326.3 720.9,1327.0 721.4,1327.4 721.9,1327.4 722.4,1326.0 722.9,1328.2 723.4,1326.2 723.9,1327.6 724.4,1325.9 724.9,1327.4 725.4,1325.8 725.9,1330.0 726.4,1328.2 726.9,1326.4 727.4,1324.5 727.9,1326.6 728.4,1330.5 728.9,1327.0 729.4,1330.1 729.9,1328.0 730.4,1328.0 730.9,1326.8 731.4,1329.3 731.9,1330.8 732.0,1330.4 732.4,1329.9 732.9,1326.9 733.4,1329.0 733.9,1326.6 734.4,1327.1 734.9,1329.3 735.4,1326.6 735.9,1329.4 736.4,1327.9 736.9,1331.0 737.4,1328.0 737.9,1329.2 738.4,1330.1 738.9,1329.2 739.4,1329.3 739.9,1324.8 740.4,1329.6 740.9,1324.9 741.4,1326.6 741.9,1323.3 742.4,1327.1 742.9,1326.4 743.4,1327.2 743.9,1325.8 744.4,1327.2 744.9,1326.1 745.4,1327.0 745.9,1328.9 746.4,1323.3 746.9,1327.1 747.4,1326.9 747.9,1324.3 748.4,1326.3 748.9,1329.6 749.4,1327.6 749.9,1325.9 750.4,1328.2 750.9,1327.5 751.4,1324.4 751.9,1326.0 752.4,1326.6 752.9,1326.6 753.4,1327.2 753.9,1326.5 754.4,1326.5 754.9,1325.4 755.4,1325.7 755.9,1325.3 756.4,1327.2 756.9,1326.0 757.4,1325.0 757.9,1327.5 758.4,1330.5 758.9,1325.7 759.4,1328.3 759.9,1324.9 760.0,1326.3 760.4,1327.5 760.9,1327.8 761.4,1329.5 761.9,1324.6 762.4,1325.6 762.9,1327.8 763.4,1327.6 763.9,1323.6 764.4,1325.0 764.9,1326.8 765.4,1327.1 765.9,1323.0 766.4,1325.3 766.9,1320.4 767.4,1326.3 767.9,1327.6 768.4,1322.2 768.9,1323.7 769.4,1321.4 769.9,1323.0 770.4,1324.8 770.9,1324.7 771.4,1324.3 771.9,1320.9 772.4,1321.8 772.9,1326.7 773.4,1323.6 773.9,1322.2 774.0,1323.5 774.4,1322.0 774.9,1323.6 775.4,1322.0 775.9,1322.3 776.4,1320.8 776.9,1327.1 777.4,1325.3 777.9,1325.3 778.4,1325.9 778.9,1324.2 779.4,1322.5 779.9,1325.6 780.4,1326.1 780.9,1326.0 781.4,1324.4 781.9,1322.5 782.4,1326.9 782.9,1326.3 783.4,1325.6 783.9,1325.4 784.4,1325.7 784.9,1325.1 785.4,1323.5 785.9,1326.2 786.4,1325.7 786.9,1327.3 787.4,1326.3 787.9,1327.5 788.0,1324.8 788.4,1327.8 788.9,1330.6 789.4,1326.5 789.9,1327.7 790.4,1328.1 790.9,1327.0 791.4,1326.7 791.9,1323.3 792.4,1324.5 792.9,1328.8 793.4,1326.2 793.9,1326.1 794.4,1329.2 794.9,1322.3 795.4,1327.3 795.9,1326.5 796.4,1321.5 796.9,1323.9 797.4,1325.7 797.9,1323.5 798.4,1323.3 798.9,1325.7 799.4,1324.1 799.9,1324.7 800.4,1324.0 800.9,1324.4 801.4,1324.6 801.9,1328.0 802.4,1324.6 802.9,1322.4 803.4,1324.3 803.9,1324.0 804.4,1329.5 804.9,1320.6 805.4,1324.4 805.9,1323.5 806.0,1325.8 806.4,1321.2 806.9,1320.9 807.4,1323.9 807.9,1324.8 808.4,1324.1 808.9,1324.6 809.4,1323.4 809.9,1325.4 810.4,1323.8 810.9,1322.7 811.4,1326.5 811.9,1322.2 812.4,1320.9 812.9,1323.2 813.4,1323.8 813.9,1324.0 814.4,1323.6 814.9,1324.9 815.4,1323.7 815.9,1322.7 816.4,1327.0 816.9,1324.2 817.4,1326.6 817.9,1324.9 818.4,1325.6 818.9,1327.6 819.4,1321.4 819.9,1327.0 820.4,1325.1 820.9,1326.6 821.4,1324.3 821.9,1325.2 822.4,1325.0 822.9,1323.3 823.4,1325.3 823.9,1328.8 824.4,1327.9 824.9,1328.2 825.4,1325.2 825.9,1325.4 826.4,1325.0 826.9,1322.1 827.4,1325.5 827.9,1324.6 828.0,1327.6 828.4,1327.7 828.9,1326.7 829.4,1324.1 829.9,1324.6 830.4,1328.1 830.9,1326.1 831.4,1327.3 831.9,1324.5 832.4,1327.1 832.9,1324.6 833.4,1324.2 833.9,1325.5 834.4,1323.6 834.9,1322.7 835.4,1327.3 835.9,1326.0 836.4,1323.7 836.9,1324.5 837.4,1326.5 837.9,1323.4 838.4,1319.8 838.9,1328.4 839.4,1321.4 839.9,1323.2 840.0,1319.9 840.4,1319.7 840.9,1324.2 841.4,1320.9 841.9,1324.3 842.4,1322.6 842.9,1322.4 843.4,1323.6 843.9,1323.4 844.4,1324.5 844.9,1319.2 845.4,1320.1 845.9,1322.5 846.4,1322.5 846.9,1319.8 847.4,1318.3 847.9,1320.4 848.4,1314.6 848.9,1316.8 849.4,1321.8 849.9,1317.1 850.4,1323.0 850.9,1319.2 851.4,1319.3 851.8,1323.6 851.9,1320.2 852.4,1317.9 852.9,1317.4 853.4,1317.1 853.9,1314.4 854.4,1318.8 854.9,1318.1 855.4,1316.7 855.9,1319.5 856.4,1316.7 856.9,1314.5 857.4,1315.6 857.9,1317.4 858.4,1318.0 858.9,1320.8 859.4,1316.5 859.9,1318.1 860.4,1318.9 860.9,1318.1 861.4,1317.4 861.9,1314.7 862.4,1316.0 862.9,1320.6 863.4,1316.9 863.9,1316.4 864.4,1314.2 864.9,1316.8 865.4,1319.4 865.9,1315.0 866.4,1314.3 866.9,1315.8 867.4,1314.9 867.9,1314.5 868.4,1319.7 868.9,1317.0 869.4,1312.9 869.9,1315.3 870.4,1317.0 870.9,1314.7 871.4,1316.6 871.9,1312.9 872.4,1315.9 872.9,1314.8 873.4,1315.8 873.9,1314.6 874.4,1313.4 874.9,1315.2 875.4,1315.3 875.9,1315.5 876.4,1311.7 876.9,1313.3 877.4,1313.7 877.9,1313.5 878.4,1313.2 878.9,1314.0 879.4,1316.3 879.9,1316.8 880.4,1315.7 880.9,1314.5 881.4,1307.4 881.9,1312.1 882.4,1314.2 882.9,1311.4 883.4,1315.1 883.9,1311.7 884.4,1313.2 884.5,1312.1 884.9,1313.3 885.4,1310.2 885.9,1312.3 886.4,1311.2 886.9,1310.8 887.4,1309.7 887.9,1314.6 888.4,1310.7 888.9,1314.0 889.4,1312.4 889.9,1313.5 890.4,1312.6 890.9,1312.5 891.4,1310.2 891.9,1317.5 892.4,1314.5 892.9,1314.3 893.4,1308.4 893.9,1311.2 894.4,1311.1 894.9,1312.8 895.4,1311.1 895.9,1313.5 896.4,1312.5 896.9,1313.8 897.4,1314.4 897.9,1310.8 898.4,1311.1 898.9,1310.6 899.4,1313.8 899.9,1312.0 900.4,1311.4 900.9,1309.8 901.4,1312.8 901.9,1312.1 902.4,1312.3 902.9,1311.4 903.4,1309.4 903.9,1314.4 904.4,1312.1 904.9,1312.5 905.4,1310.6 905.9,1314.5 906.4,1310.5 906.9,1311.1 907.4,1310.3 907.9,1309.9 908.4,1313.3 908.9,1311.0 909.4,1310.0 909.9,1311.6 910.4,1311.3 910.9,1311.9 911.4,1310.7 911.9,1312.2 912.0,1308.7 912.4,1310.0 912.9,1312.9 913.4,1313.1 913.9,1308.2 914.4,1312.1 914.9,1311.2 915.4,1313.4 915.9,1309.2 916.4,1311.8 916.9,1312.6 917.4,1308.4 917.9,1309.6 918.4,1312.5 918.9,1310.3 919.4,1312.3 919.9,1310.8 920.4,1307.9 920.9,1310.6 921.4,1311.0 921.9,1309.2 922.4,1312.0 922.9,1307.6 923.4,1309.9 923.9,1309.3 924.4,1308.3 924.9,1307.1 925.4,1305.9 925.9,1307.3 926.4,1309.2 926.9,1308.4 927.4,1309.1 927.9,1308.9 928.4,1308.3 928.9,1309.5 929.4,1310.6 929.9,1306.2 930.4,1309.4 930.9,1305.8 931.4,1312.8 931.9,1306.9 932.4,1307.9 932.9,1310.1 933.4,1309.2 933.9,1310.1 934.4,1310.9 934.9,1307.6 935.4,1311.7 935.9,1306.8 936.4,1307.4 936.9,1309.5 937.4,1303.5 937.9,1306.6 938.4,1307.2 938.9,1309.1 939.0,1306.3 939.4,1309.0 939.9,1305.4 940.4,1309.0 940.9,1308.5 941.4,1306.0 941.9,1306.3 942.4,1306.4 942.9,1305.9 943.4,1305.4 943.9,1308.9 944.4,1307.0 944.9,1306.9 945.4,1303.2 945.9,1305.8 946.4,1307.8 946.9,1305.9 947.4,1304.5 947.9,1305.2 948.4,1306.7 948.9,1304.8 949.4,1301.1 949.9,1303.5 950.4,1305.0 950.9,1301.8 951.4,1304.5 951.9,1305.2 952.4,1308.4 952.9,1306.8 953.4,1304.7 953.9,1300.6 954.4,1304.3 954.9,1301.0 955.4,1301.6 955.9,1305.4 956.4,1301.8 956.9,1304.4 957.4,1303.4 957.9,1304.6 958.0,1302.5 958.4,1301.8 958.9,1303.9 959.4,1301.4 959.9,1299.8 960.4,1298.1 960.9,1298.2 961.0,1296.7 961.4,1298.9 961.9,1298.6 962.4,1296.6 962.9,1297.7 963.4,1300.5 963.9,1306.4 964.0,1305.5 964.4,1302.2 964.9,1301.4 965.4,1302.0 965.9,1302.5 966.4,1305.1 966.9,1301.8 967.4,1300.0 967.9,1301.8 968.4,1300.5 968.9,1305.5 969.4,1302.4 969.9,1302.8 970.4,1302.5 970.9,1299.0 971.4,1303.0 971.9,1303.5 972.4,1301.8 972.9,1303.2 973.4,1301.8 973.9,1302.2 974.4,1303.9 974.9,1301.6 975.4,1303.3 975.9,1302.5 976.4,1302.3 976.9,1301.4 977.4,1300.9 977.9,1302.2 978.4,1304.4 978.9,1302.9 979.4,1304.4 979.9,1302.2 980.4,1299.2 980.9,1304.3 981.4,1302.0 981.9,1304.1 982.4,1303.4 982.7,1303.6 982.9,1302.8 983.4,1296.3 983.9,1303.1 984.4,1301.9 984.9,1302.6 985.4,1302.7 985.9,1301.4 986.4,1301.9 986.9,1297.8 987.4,1300.5 987.9,1301.4 988.4,1301.1 988.9,1298.1 989.4,1296.2 989.9,1298.2 990.4,1299.3 990.9,1299.5 991.4,1301.8 991.9,1300.9 992.4,1297.1 992.9,1299.4 993.4,1297.3 993.9,1299.4 994.4,1296.5 994.9,1299.9 995.4,1296.3 995.9,1296.5 996.4,1295.3 996.9,1298.3 997.4,1296.7 997.9,1297.2 998.4,1297.6 998.9,1294.5 999.4,1298.9 999.9,1297.1 1000.4,1295.9 1000.9,1295.3 1001.4,1294.7 1001.9,1294.0 1002.4,1296.5 1002.9,1295.0 1003.4,1294.4 1003.9,1293.2 1004.4,1294.4 1004.5,1297.9 1004.9,1294.7 1005.4,1289.7 1005.9,1288.7 1006.4,1294.3 1006.9,1289.9 1007.4,1292.9 1007.9,1293.3 1008.4,1293.1 1008.9,1295.4 1009.4,1290.4 1009.9,1291.3 1010.4,1289.4 1010.9,1287.7 1011.4,1288.5 1011.9,1292.7 1012.4,1292.4 1012.9,1287.5 1013.4,1290.5 1013.9,1288.3 1014.4,1290.2 1014.9,1286.2 1015.4,1288.4 1015.9,1287.8 1016.4,1285.3 1016.9,1285.7 1017.4,1285.6 1017.9,1286.4 1018.4,1289.6 1018.9,1289.1 1019.4,1288.9 1019.9,1286.5 1020.4,1287.0 1020.9,1282.5 1021.0,1284.7 1021.4,1286.9 1021.9,1285.1 1022.4,1282.8 1022.9,1285.1 1023.4,1284.4 1023.9,1284.2 1024.4,1282.5 1024.9,1285.1 1025.4,1283.1 1025.9,1281.6 1026.4,1283.2 1026.9,1284.4 1027.4,1286.0 1027.9,1285.4 1028.4,1278.7 1028.9,1285.0 1029.4,1283.8 1029.9,1283.4 1030.4,1285.4 1030.9,1286.0 1031.4,1283.5 1031.9,1281.6 1032.4,1280.5 1032.9,1282.1 1033.4,1282.4 1033.9,1279.8 1034.4,1285.3 1034.9,1284.8 1035.4,1283.1 1035.9,1285.5 1036.4,1282.9 1036.9,1279.8 1037.4,1282.7 1037.9,1285.3 1038.4,1279.8 1038.9,1277.1 1039.4,1282.4 1039.9,1275.8 1040.4,1277.3 1040.9,1280.5 1041.4,1278.5 1041.9,1283.6 1042.4,1279.3 1042.7,1280.8 1042.9,1281.8 1043.4,1278.7 1043.9,1279.5 1044.4,1273.3 1044.9,1282.4 1045.4,1277.2 1045.9,1275.9 1046.4,1274.5 1046.9,1276.2 1047.4,1273.7 1047.9,1275.3 1048.4,1272.7 1048.9,1270.3 1049.4,1271.5 1049.9,1270.9 1050.4,1273.6 1050.9,1272.5 1051.4,1270.5 1051.9,1272.2 1052.4,1269.3 1052.9,1270.4 1053.4,1269.3 1053.9,1270.8 1054.4,1266.9 1054.9,1268.4 1055.4,1268.3 1055.9,1265.1 1056.4,1267.7 1056.9,1267.0 1057.4,1269.2 1057.9,1263.4 1058.4,1262.0 1058.9,1261.1 1059.0,1266.0 1059.4,1263.6 1059.9,1261.8 1060.4,1264.6 1060.9,1265.8 1061.4,1268.1 1061.9,1265.9 1062.4,1260.2 1062.9,1265.5 1063.4,1258.9 1063.9,1261.7 1064.4,1262.1 1064.9,1255.4 1065.4,1259.4 1065.9,1258.8 1066.4,1264.1 1066.9,1255.8 1067.4,1259.1 1067.9,1256.0 1068.4,1256.2 1068.9,1252.9 1069.4,1257.8 1069.9,1258.1 1070.4,1257.4 1070.9,1248.6 1071.4,1247.7 1071.9,1252.3 1072.4,1255.3 1072.9,1253.8 1073.4,1250.3 1073.9,1248.5 1074.4,1254.9 1074.9,1253.7 1075.4,1246.9 1075.9,1248.1 1076.4,1247.2 1076.9,1252.9 1077.4,1248.1 1077.9,1248.6 1078.4,1241.9 1078.9,1244.6 1079.4,1242.7 1079.9,1242.7 1080.4,1242.8 1080.9,1240.6 1081.4,1236.8 1081.9,1242.8 1082.4,1235.7 1082.9,1235.4 1083.4,1231.4 1083.9,1237.4 1084.4,1235.9 1084.9,1232.8 1085.4,1231.4 1085.9,1233.8 1086.4,1231.7 1086.9,1228.6 1087.4,1232.5 1087.9,1233.2 1088.4,1230.7 1088.9,1231.5 1089.4,1228.9 1089.9,1232.2 1090.4,1229.5 1090.9,1224.8 1091.4,1228.6 1091.8,1225.7 1091.9,1222.8 1092.4,1221.7 1092.9,1222.4 1093.4,1216.5 1093.9,1219.8 1094.4,1220.0 1094.9,1216.1 1095.4,1217.7 1095.9,1216.8 1096.4,1214.4 1096.9,1218.4 1097.4,1218.9 1097.9,1218.8 1098.4,1220.9 1098.9,1216.0 1099.4,1214.5 1099.9,1215.5 1100.4,1219.0 1100.9,1219.6 1101.4,1212.0 1101.9,1214.6 1102.4,1212.2 1102.9,1214.0 1103.4,1203.5 1103.9,1209.6 1104.0,1204.7 1104.4,1199.8 1104.9,1210.6 1105.4,1205.4 1105.9,1211.8 1106.4,1209.2 1106.9,1209.9 1107.4,1207.6 1107.9,1202.5 1108.4,1204.3 1108.9,1197.2 1109.4,1197.3 1109.9,1202.1 1110.4,1205.4 1110.9,1199.4 1111.4,1194.1 1111.9,1196.7 1112.4,1198.0 1112.9,1198.5 1113.4,1194.7 1113.9,1199.1 1114.4,1196.0 1114.9,1192.9 1115.4,1189.5 1115.5,1198.5 1115.9,1188.3 1116.4,1187.7 1116.9,1184.7 1117.4,1187.6 1117.9,1180.0 1118.4,1186.5 1118.9,1178.3 1119.4,1184.8 1119.9,1176.9 1120.4,1176.4 1120.9,1177.1 1121.4,1179.2 1121.9,1176.8 1122.4,1173.3 1122.9,1175.0 1123.4,1176.5 1123.9,1167.6 1124.4,1176.8 1124.9,1170.8 1125.4,1160.4 1125.9,1168.1 1126.4,1165.2 1126.9,1162.7 1127.4,1161.4 1127.9,1159.5 1128.4,1161.7 1128.9,1158.2 1129.4,1157.9 1129.9,1153.5 1130.4,1156.8 1130.9,1150.3 1131.4,1151.1 1131.9,1147.0 1132.0,1146.7 1132.4,1148.9 1132.9,1147.3 1133.4,1143.2 1133.9,1141.9 1134.4,1138.8 1134.9,1140.6 1135.4,1138.2 1135.9,1138.3 1136.4,1134.7 1136.9,1132.5 1137.4,1133.8 1137.9,1129.0 1138.4,1130.4 1138.9,1129.8 1139.4,1129.8 1139.6,1125.0 1139.9,1124.1 1140.4,1124.2 1140.9,1119.7 1141.4,1119.1 1141.9,1115.8 1142.4,1113.2 1142.9,1109.1 1143.4,1109.9 1143.9,1109.3 1144.4,1106.3 1144.7,1103.5 1144.9,1104.4 1145.4,1106.7 1145.9,1100.0 1146.4,1096.2 1146.9,1101.9 1147.4,1093.1 1147.9,1097.8 1148.4,1092.9 1148.9,1085.0 1149.4,1087.0 1149.9,1085.1 1150.4,1083.2 1150.9,1081.4 1151.1,1083.7 1151.4,1081.4 1151.9,1082.5 1152.4,1075.1 1152.9,1073.3 1153.4,1073.6 1153.9,1068.9 1154.4,1065.6 1154.9,1065.8 1155.4,1059.3 1155.9,1056.7 1156.4,1056.6 1156.9,1057.6 1157.4,1056.4 1157.9,1047.6 1158.4,1046.3 1158.9,1046.3 1159.4,1043.3 1159.9,1037.0 1160.4,1039.7 1160.9,1033.1 1161.4,1030.9 1161.9,1026.3 1162.4,1029.2 1162.9,1026.2 1163.3,1019.8 1163.4,1023.9 1163.9,1020.3 1164.4,1016.2 1164.9,1011.0 1165.4,1010.9 1165.9,1003.0 1166.4,1000.6 1166.9,998.4 1167.4,998.1 1167.9,997.4 1168.4,984.3 1168.9,987.0 1169.4,980.8 1169.9,980.8 1170.4,970.9 1170.9,976.9 1171.4,965.4 1171.9,967.7 1172.4,955.1 1172.7,958.3 1172.9,960.5 1173.4,955.6 1173.9,944.0 1174.4,940.2 1174.9,935.1 1175.4,937.9 1175.9,928.0 1176.4,934.6 1176.9,927.6 1177.4,925.8 1177.8,917.0 1177.9,916.7 1178.4,911.5 1178.9,901.8 1179.4,896.1 1179.9,894.5 1180.4,887.2 1180.9,882.3 1181.1,877.1 1181.4,878.0 1181.9,873.9 1182.4,865.5 1182.9,857.5 1183.4,854.5 1183.7,850.9 1183.9,847.1 1184.4,838.2 1184.9,829.8 1185.4,831.2 1185.9,822.1 1186.4,814.1 1186.7,809.6 1186.9,804.1 1187.4,804.2 1187.9,796.0 1188.4,790.5 1188.9,783.6 1189.4,777.5 1189.8,773.5 1189.9,769.6 1190.4,764.8 1190.9,760.8 1191.4,755.9 1191.9,749.0 1192.4,743.4 1192.9,735.5 1193.1,733.5 1193.4,731.9 1193.9,726.7 1194.4,721.2 1194.9,716.4 1195.4,709.0 1195.9,704.0 1196.4,702.3 1196.9,696.3 1197.4,689.0 1197.9,684.5 1198.4,683.1 1198.9,670.8 1199.4,666.2 1199.9,659.4 1200.0,657.4 1200.4,653.7 1200.9,652.2 1201.4,645.5 1201.9,639.5 1202.4,640.5 1202.9,632.6 1203.4,630.5 1203.9,625.5 1204.4,620.4 1204.5,622.6 1204.9,616.0 1205.4,614.6 1205.9,611.5 1206.4,605.4 1206.9,603.1 1207.4,602.3 1207.9,600.8 1208.4,595.5 1208.9,590.2 1209.4,594.6 1209.9,589.7 1210.0,590.6 1210.4,590.3 1210.9,588.6 1211.4,586.0 1211.9,583.8 1212.2,586.6 1212.4,581.7 1212.9,586.6 1213.4,590.1 1213.9,591.9 1214.4,590.6 1214.7,596.6 1214.9,599.4 1215.4,603.5 1215.9,611.1 1216.4,621.5 1216.9,627.1 1217.3,631.2 1217.4,634.2 1217.9,635.9 1218.4,639.4 1218.9,641.5 1219.4,649.0 1219.9,650.9 1220.4,654.4 1220.9,658.9 1221.4,664.6 1221.9,667.0 1222.4,672.2 1222.9,675.7 1223.4,682.6 1223.9,688.5 1224.4,691.0 1224.9,695.9 1225.4,698.5 1225.9,705.3 1226.2,711.7 1226.4,712.2 1226.9,713.7 1227.4,719.6 1227.9,725.2 1228.4,731.2 1228.9,736.3 1229.4,741.1 1229.9,746.8 1230.0,747.2 1230.4,751.4 1230.9,759.0 1231.4,761.0 1231.9,770.0 1232.4,777.5 1232.9,785.0 1233.0,786.3 1233.4,790.6 1233.9,794.6 1234.4,797.3 1234.9,801.4 1235.4,806.1 1235.9,808.7 1236.4,812.9 1236.9,818.1 1237.4,820.3 1237.6,823.9 1237.9,826.0 1238.4,831.1 1238.9,830.4 1239.4,834.7 1239.9,840.8 1240.4,841.4 1240.9,846.1 1241.4,847.9 1241.9,856.9 1242.4,858.9 1242.9,866.1 1243.4,871.6 1243.9,880.6 1244.0,880.1 1244.4,880.3 1244.9,889.2 1245.4,888.0 1245.9,894.6 1246.4,899.5 1246.9,900.6 1247.4,903.9 1247.9,906.3 1248.4,909.3 1248.9,922.5 1249.1,920.6 1249.4,923.0 1249.9,918.5 1250.4,924.5 1250.9,925.2 1251.4,934.2 1251.9,940.4 1252.4,936.1 1252.9,938.7 1253.4,948.6 1253.9,943.3 1254.4,952.4 1254.9,951.4 1255.4,959.0 1255.9,956.4 1256.4,954.1 1256.9,963.0 1257.4,958.0 1257.9,968.1 1258.4,976.4 1258.9,975.9 1259.4,965.9 1259.9,966.6 1260.4,963.9 1260.9,973.0 1261.4,972.6 1261.9,977.1 1262.4,993.9 1262.9,987.9 1263.1,987.4 1263.4,984.3 1263.9,990.1 1264.4,993.8 1264.9,993.6 1265.4,998.9 1265.9,1001.0 1266.4,994.5 1266.9,994.2 1267.4,1007.8 1267.9,995.9 1268.4,1006.4 1268.9,1007.7 1269.4,1016.1 1269.9,1006.0 1270.4,1004.1 1270.7,1019.8 1270.9,1008.4 1271.4,1002.3 1271.9,1008.6 1272.4,1015.9 1272.9,1023.3 1273.4,1020.9 1273.9,1019.1 1274.4,1016.8 1274.9,1022.2 1275.4,1026.2 1275.9,1020.4 1276.4,1026.5 1276.9,1034.9 1277.4,1026.8 1277.9,1027.5 1278.4,1028.8 1278.9,1032.1 1279.4,1029.1 1279.6,1037.0 1279.9,1035.5 1280.4,1038.0 1280.9,1033.7 1281.4,1040.9 1281.9,1045.9 1282.4,1038.1 1282.9,1038.8 1283.4,1041.1 1283.9,1039.4 1284.4,1042.3 1284.9,1050.4 1285.4,1047.4 1285.9,1045.6 1286.4,1046.2 1286.9,1045.1 1287.4,1054.6 1287.9,1047.6 1288.4,1052.9 1288.5,1053.4 1288.9,1045.6 1289.4,1052.9 1289.9,1056.8 1290.4,1045.1 1290.9,1049.8 1291.4,1056.6 1291.9,1055.7 1292.4,1059.5 1292.9,1063.6 1293.4,1058.9 1293.9,1061.1 1294.4,1061.4 1294.9,1050.8 1295.4,1059.4 1295.9,1061.1 1296.4,1066.9 1296.9,1061.0 1297.4,1066.4 1297.9,1067.3 1298.4,1059.4 1298.7,1057.6 1298.9,1070.9 1299.4,1062.4 1299.9,1071.1 1300.4,1067.1 1300.9,1070.1 1301.4,1058.5 1301.9,1077.3 1302.4,1055.3 1302.9,1062.0 1303.4,1069.8 1303.9,1073.8 1304.4,1072.2 1304.9,1073.4 1305.4,1064.8 1305.9,1071.8 1306.4,1076.4 1306.9,1063.4 1307.4,1065.9 1307.9,1072.2 1308.4,1077.8 1308.9,1075.1 1309.4,1067.4 1309.9,1070.0 1310.4,1071.2 1310.9,1066.3 1311.4,1082.4 1311.9,1071.4 1312.4,1071.0 1312.9,1066.2 1313.4,1074.9 1313.9,1073.9 1314.4,1079.8 1314.9,1078.3 1315.4,1074.2 1315.9,1077.5 1316.4,1083.5 1316.9,1072.0 1317.4,1073.7 1317.9,1078.8 1318.4,1073.2 1318.9,1078.0 1319.4,1071.4 1319.9,1079.8 1320.4,1079.4 1320.9,1074.0 1321.4,1071.3 1321.9,1078.3 1322.4,1077.3 1322.9,1071.4 1323.4,1081.8 1323.9,1074.4 1324.4,1084.1 1324.9,1083.6 1325.4,1079.2 1325.9,1081.4 1326.4,1072.3 1326.7,1078.6 1326.9,1081.0 1327.4,1073.4 1327.9,1072.8 1328.4,1085.9 1328.9,1081.0 1329.4,1085.5 1329.9,1083.9 1330.4,1068.1 1330.9,1075.4 1331.4,1079.6 1331.9,1080.7 1332.4,1081.2 1332.9,1078.0 1333.4,1080.7 1333.9,1077.0 1334.4,1086.8 1334.9,1077.6 1335.4,1079.4 1335.9,1085.7 1336.4,1079.8 1336.9,1083.1 1337.0,1078.6 1337.4,1082.5 1337.9,1084.7 1338.4,1077.0 1338.9,1076.7 1339.4,1079.1 1339.9,1087.7 1340.4,1086.9 1340.9,1088.4 1341.4,1091.4 1341.9,1083.9 1342.4,1082.9 1342.9,1085.7 1343.4,1087.5 1343.9,1091.4 1344.4,1087.7 1344.9,1089.9 1345.4,1085.4 1345.9,1081.6 1346.4,1096.2 1346.9,1089.5 1347.4,1087.7 1347.9,1090.0 1348.4,1099.1 1348.9,1088.2 1349.4,1088.6 1349.9,1087.8 1350.4,1089.5 1350.9,1083.3 1351.4,1097.0 1351.9,1092.1 1352.4,1088.8 1352.9,1097.2 1353.4,1091.5 1353.9,1099.3 1354.0,1092.7 1354.4,1093.4 1354.9,1095.1 1355.4,1096.4 1355.9,1091.7 1356.4,1092.0 1356.9,1095.6 1357.4,1087.2 1357.9,1083.6 1358.4,1095.1 1358.9,1096.2 1359.4,1100.5 1359.9,1095.6 1360.4,1100.9 1360.9,1102.1 1361.4,1097.2 1361.9,1094.5 1362.4,1093.4 1362.9,1096.7 1363.4,1091.9 1363.9,1098.8 1364.4,1101.3 1364.9,1095.9 1365.4,1102.4 1365.9,1095.3 1366.4,1099.2 1366.9,1100.1 1367.4,1091.6 1367.9,1098.5 1368.4,1103.5 1368.9,1104.7 1369.4,1105.4 1369.9,1097.7 1370.4,1101.3 1370.9,1094.7 1371.0,1103.8 1371.4,1101.3 1371.9,1105.1 1372.4,1096.7 1372.9,1107.5 1373.4,1102.7 1373.9,1097.5 1374.4,1106.1 1374.9,1112.0 1375.4,1104.8 1375.9,1105.0 1376.4,1098.0 1376.9,1103.7 1377.4,1108.8 1377.9,1106.3 1378.4,1104.9 1378.9,1103.0 1379.4,1113.6 1379.9,1104.2 1380.4,1100.2 1380.9,1107.9 1381.4,1106.1 1381.9,1106.0 1382.4,1104.8 1382.9,1104.8 1383.4,1104.1 1383.9,1112.8 1384.4,1105.2 1384.9,1105.9 1385.4,1110.5 1385.9,1112.7 1386.4,1111.7 1386.9,1109.4 1387.4,1108.3 1387.9,1111.5 1388.0,1109.4 1388.4,1110.6 1388.9,1115.4 1389.4,1111.8 1389.9,1115.7 1390.4,1110.4 1390.9,1111.8 1391.4,1113.4 1391.9,1114.9 1392.4,1109.6 1392.9,1110.5 1393.4,1121.5 1393.9,1115.9 1394.4,1113.1 1394.9,1109.2 1395.4,1113.4 1395.9,1119.9 1396.4,1121.4 1396.9,1112.2 1397.4,1117.1 1397.9,1119.7 1398.4,1120.3 1398.9,1118.5 1399.4,1118.2 1399.9,1120.0 1400.4,1116.6 1400.9,1120.3 1401.4,1122.2 1401.9,1118.4 1402.4,1125.0 1402.9,1124.0 1403.4,1118.6 1403.9,1119.0 1404.4,1122.0 1404.8,1122.9 1404.9,1123.2 1405.4,1122.6 1405.9,1121.5 1406.4,1130.9 1406.9,1130.0 1407.4,1124.9 1407.9,1125.4 1408.4,1126.2 1408.9,1128.2 1409.4,1125.7 1409.9,1129.1 1410.4,1117.8 1410.9,1122.5 1411.4,1122.8 1411.9,1119.6 1412.4,1124.4 1412.9,1124.0 1413.4,1123.1 1413.9,1122.8 1414.4,1129.2 1414.9,1124.1 1415.4,1129.7 1415.9,1124.8 1416.4,1128.8 1416.9,1123.4 1417.4,1122.2 1417.9,1130.8 1418.4,1129.3 1418.9,1138.4 1419.4,1132.5 1419.9,1132.2 1420.4,1131.9 1420.9,1129.4 1421.4,1133.8 1421.8,1130.2 1421.9,1133.9 1422.4,1129.8 1422.9,1137.0 1423.4,1132.9 1423.9,1132.0 1424.4,1134.8 1424.9,1131.5 1425.4,1126.8 1425.9,1133.0 1426.4,1137.4 1426.9,1131.4 1427.4,1137.7 1427.9,1137.8 1428.4,1137.1 1428.9,1128.6 1429.4,1145.8 1429.9,1141.2 1430.4,1136.4 1430.9,1133.1 1431.4,1132.4 1431.9,1130.6 1432.4,1135.6 1432.9,1141.3 1433.4,1132.5 1433.9,1136.9 1434.4,1140.7 1434.9,1141.9 1435.4,1139.5 1435.9,1135.7 1436.4,1146.2 1436.9,1141.3 1437.4,1141.5 1437.9,1143.3 1438.4,1137.2 1438.8,1135.8 1438.9,1136.0 1439.4,1146.0 1439.9,1142.1 1440.4,1135.4 1440.9,1136.2 1441.4,1141.0 1441.9,1136.1 1442.4,1140.4 1442.9,1142.2 1443.4,1142.4 1443.9,1145.6 1444.4,1148.2 1444.9,1142.2 1445.4,1142.9 1445.9,1148.3 1446.4,1143.8 1446.9,1143.4 1447.4,1146.0 1447.9,1143.6 1448.4,1142.7 1448.9,1147.3 1449.4,1141.7 1449.9,1142.7 1450.4,1144.5 1450.9,1147.5 1451.4,1138.2 1451.9,1149.3 1452.4,1147.7 1452.9,1140.4 1453.4,1148.0 1453.9,1142.5 1454.4,1149.5 1454.9,1144.9 1455.4,1146.7 1455.7,1140.3 1455.9,1145.2 1456.4,1144.3 1456.9,1148.7 1457.4,1144.2 1457.9,1148.6 1458.4,1156.2 1458.9,1147.2 1459.4,1151.8 1459.9,1146.4 1460.4,1151.6 1460.9,1144.3 1461.4,1154.0 1461.9,1147.6 1462.4,1146.7 1462.9,1147.2 1463.4,1148.1 1463.9,1153.0 1464.4,1151.9 1464.9,1155.0 1465.4,1154.0 1465.9,1149.9 1466.0,1151.0 1466.4,1156.2 1466.9,1157.9 1467.4,1156.2 1467.9,1155.2 1468.4,1147.9 1468.9,1143.3 1469.4,1155.8 1469.9,1150.5 1470.4,1147.1 1470.9,1150.1 1471.4,1153.1 1471.9,1149.2 1472.4,1146.6 1472.9,1148.8 1473.4,1152.8 1473.9,1152.4 1474.4,1140.7 1474.9,1151.8 1475.4,1149.0 1475.9,1153.0 1476.0,1140.4 1476.4,1148.3 1476.9,1146.9 1477.4,1148.3 1477.9,1145.4 1478.4,1148.2 1478.9,1146.1 1479.4,1152.4 1479.9,1162.3 1480.4,1151.2 1480.9,1149.5 1481.4,1164.9 1481.9,1151.6 1482.4,1150.9 1482.9,1155.7 1483.4,1148.7 1483.9,1152.0 1484.4,1147.3 1484.9,1155.3 1485.4,1150.4 1485.9,1150.6 1486.4,1151.4 1486.9,1157.8 1487.4,1152.6 1487.9,1153.8 1488.4,1157.2 1488.9,1160.4 1489.4,1146.1 1489.7,1158.9 1489.9,1159.5 1490.4,1160.0 1490.9,1158.3 1491.4,1153.1 1491.9,1158.2 1492.4,1157.7 1492.9,1158.0 1493.4,1156.5 1493.9,1156.5 1494.4,1149.2 1494.9,1159.3 1495.4,1161.7 1495.9,1163.1 1496.4,1165.3 1496.9,1164.1 1497.4,1158.3 1497.9,1162.5 1498.4,1158.3 1498.9,1165.1 1499.4,1159.2 1499.9,1167.0 1500.4,1156.5 1500.9,1162.9 1501.4,1162.8 1501.9,1159.7 1502.4,1159.7 1502.9,1160.0 1503.4,1167.3 1503.9,1161.1 1504.4,1159.0 1504.9,1159.5 1505.4,1166.9 1505.9,1162.0 1506.4,1172.8 1506.6,1173.1 1506.9,1166.4 1507.4,1163.4 1507.9,1169.7 1508.4,1162.7 1508.9,1169.7 1509.4,1167.9 1509.9,1166.0 1510.4,1163.3 1510.9,1167.3 1511.4,1165.9 1511.9,1167.3 1512.4,1165.8 1512.9,1172.7 1513.4,1160.6 1513.9,1161.5 1514.4,1169.2 1514.9,1167.5 1515.4,1161.7 1515.9,1169.4 1516.4,1167.5 1516.9,1157.0 1517.4,1174.2 1517.9,1166.5 1518.4,1166.1 1518.9,1165.9 1519.4,1162.1 1519.9,1165.3 1520.4,1172.1 1520.9,1166.0 1521.4,1169.4 1521.9,1161.5 1522.4,1170.4 1522.9,1168.1 1523.4,1169.7 1523.6,1169.0 1523.9,1168.8 1524.4,1168.5 1524.9,1174.4 1525.4,1174.6 1525.9,1168.8 1526.4,1171.6 1526.9,1167.0 1527.4,1166.7 1527.9,1168.3 1528.4,1174.4 1528.9,1159.5 1529.4,1166.8 1529.9,1171.7 1530.4,1172.1 1530.9,1170.1 1531.4,1166.6 1531.9,1171.7 1532.4,1173.7 1532.9,1174.6 1533.4,1171.9 1533.8,1169.2 1533.9,1172.2 1534.4,1173.7 1534.9,1169.0 1535.4,1168.4 1535.9,1162.4 1536.4,1172.0 1536.9,1166.4 1537.4,1157.3 1537.9,1166.6 1538.4,1170.1 1538.9,1154.0 1539.4,1169.1 1539.9,1161.9 1540.4,1164.0 1540.9,1156.2 1541.4,1161.5 1541.9,1158.9 1542.3,1160.2 1542.4,1153.6 1542.9,1154.7 1543.4,1152.0 1543.9,1165.4 1544.4,1160.3 1544.9,1156.1 1545.4,1157.0 1545.9,1152.8 1546.4,1154.8 1546.9,1157.4 1547.4,1149.0 1547.9,1148.5 1548.4,1150.2 1548.9,1151.6 1549.0,1159.9 1549.4,1155.6 1549.9,1154.9 1550.4,1160.2 1550.9,1159.4 1551.4,1158.9 1551.9,1158.9 1552.4,1159.7 1552.9,1151.8 1553.4,1164.5 1553.9,1163.2 1554.4,1165.0 1554.9,1165.5 1555.4,1163.0 1555.9,1165.1 1556.4,1159.8 1556.9,1168.4 1557.4,1168.1 1557.9,1165.1 1558.4,1163.2 1558.9,1166.4 1559.4,1158.5 1559.9,1164.7 1560.4,1177.5 1560.9,1166.8 1561.4,1165.7 1561.9,1168.8 1562.4,1166.4 1562.9,1164.7 1563.4,1173.0 1563.9,1164.9 1564.4,1173.3 1564.9,1172.3 1565.4,1173.2 1565.9,1175.6 1566.4,1174.2 1566.9,1182.6 1567.4,1177.0 1567.9,1186.0 1568.4,1177.6 1568.9,1178.7 1569.4,1178.4 1569.9,1173.5 1570.4,1174.6 1570.9,1190.6 1571.1,1184.0 1571.4,1181.2 1571.9,1190.4 1572.4,1187.5 1572.9,1189.0 1573.4,1183.0 1573.9,1183.0 1574.4,1188.9 1574.9,1180.2 1575.4,1177.1 1575.9,1187.1 1576.4,1185.8 1576.9,1185.1 1577.4,1183.4 1577.9,1189.0 1578.4,1180.8 1578.9,1183.2 1579.4,1187.1 1579.9,1184.2 1580.4,1186.9 1580.9,1181.8 1581.4,1184.3 1581.9,1190.7 1582.4,1185.9 1582.9,1193.5 1583.4,1193.6 1583.9,1184.9 1584.4,1185.5 1584.7,1190.3 1584.9,1190.0 1585.4,1190.6 1585.9,1192.5 1586.4,1186.3 1586.9,1197.1 1587.4,1189.9 1587.9,1188.1 1588.4,1188.0 1588.9,1198.1 1589.4,1202.1 1589.9,1195.7 1590.4,1195.6 1590.9,1193.2 1591.4,1189.5 1591.9,1193.5 1592.4,1186.6 1592.9,1193.5 1593.4,1203.5 1593.9,1191.9 1594.4,1204.8 1594.9,1194.4 1595.4,1190.7 1595.9,1198.2 1596.4,1197.1 1596.9,1200.7 1597.4,1198.5 1597.9,1190.3 1598.4,1195.7 1598.9,1198.7 1599.4,1195.5 1599.9,1203.3 1600.4,1203.9 1600.9,1194.8 1601.4,1197.2 1601.9,1194.9 1602.4,1202.3 1602.9,1202.4 1603.4,1190.4 1603.9,1193.5 1604.4,1201.5 1604.9,1192.2 1605.4,1199.2 1605.9,1200.0 1606.4,1196.1 1606.9,1205.9 1607.4,1202.6 1607.9,1197.5 1608.4,1202.5 1608.9,1197.3 1609.4,1201.7 1609.9,1202.7 1610.4,1199.2 1610.9,1192.4 1611.4,1191.4 1611.8,1201.4 1611.9,1200.5 1612.4,1201.6 1612.9,1199.0 1613.4,1192.3 1613.9,1194.1 1614.4,1199.7 1614.9,1205.8 1615.4,1197.6 1615.9,1208.3 1616.4,1190.7 1616.9,1193.2 1617.4,1197.4 1617.9,1203.0 1618.4,1195.9 1618.9,1196.2 1619.4,1194.4 1619.9,1200.9 1620.4,1203.3 1620.9,1206.3 1621.4,1196.9 1621.9,1201.3 1622.4,1197.9 1622.9,1208.6 1623.4,1198.7 1623.9,1205.9 1624.4,1203.7 1624.9,1194.5 1625.4,1204.5 1625.9,1206.1 1626.4,1197.2 1626.9,1205.7 1627.4,1201.3 1627.9,1206.5 1628.4,1205.3 1628.9,1199.5 1629.4,1204.2 1629.9,1202.7 1630.4,1204.1 1630.9,1199.8 1631.4,1207.6 1631.9,1203.4 1632.4,1204.3 1632.9,1197.6 1633.4,1204.3 1633.9,1202.6 1634.4,1197.7 1634.9,1204.5 1635.4,1203.9 1635.9,1207.0 1636.4,1205.9 1636.9,1209.3 1637.0,1200.8 1637.4,1211.4 1637.9,1210.6 1638.4,1207.5 1638.9,1206.1 1639.4,1200.2 1639.9,1204.0 1640.4,1197.5 1640.9,1202.3 1641.4,1204.3 1641.9,1206.4 1642.4,1210.8 1642.9,1195.8 1643.4,1196.2 1643.9,1201.7 1644.4,1202.6 1644.9,1198.9 1645.4,1204.2 1645.9,1204.2 1646.4,1207.5 1646.9,1202.3 1647.4,1204.9 1647.9,1220.3 1648.4,1203.5 1648.9,1210.5 1649.4,1207.8 1649.9,1197.0 1650.4,1201.3 1650.9,1199.7 1651.4,1208.2 1651.9,1203.4 1652.4,1203.6 1652.9,1204.3 1653.4,1210.6 1653.9,1204.0 1654.0,1202.6 1654.4,1207.7 1654.9,1203.2 1655.4,1205.5 1655.9,1208.1 1656.4,1208.3 1656.9,1207.2 1657.4,1200.1 1657.9,1196.5 1658.4,1205.5 1658.9,1212.4 1659.4,1204.4 1659.9,1205.3 1660.4,1208.4 1660.9,1205.3 1661.4,1212.1 1661.9,1210.5 1662.4,1198.1 1662.9,1206.8 1663.4,1208.1 1663.9,1205.4 1664.4,1209.1 1664.9,1203.4 1665.4,1207.0 1665.9,1204.9 1666.4,1205.0 1666.9,1211.6 1667.4,1208.8 1667.9,1208.4 1668.4,1209.8 1668.9,1213.5 1669.4,1204.8 1669.9,1211.6 1670.4,1214.1 1670.9,1207.7 1671.0,1209.4 1671.4,1213.0 1671.9,1206.5 1672.4,1209.6 1672.9,1204.6 1673.4,1212.7 1673.9,1211.8 1674.4,1205.0 1674.9,1204.2 1675.4,1207.7 1675.9,1205.2 1676.4,1202.8 1676.9,1204.2 1677.4,1207.9 1677.9,1205.0 1678.4,1202.3 1678.9,1202.3 1679.4,1212.1 1679.9,1205.2 1680.4,1207.8 1680.9,1206.0 1681.4,1207.6 1681.9,1206.2 1682.4,1213.1 1682.9,1197.6 1683.4,1211.8 1683.9,1204.2 1684.4,1209.9 1684.9,1207.7 1685.4,1214.2 1685.9,1209.0 1686.4,1208.0 1686.9,1206.3 1687.4,1204.7 1687.9,1204.0 1688.4,1206.4 1688.9,1203.0 1689.4,1205.2 1689.9,1204.7 1690.4,1204.3 1690.9,1205.2 1691.4,1207.5 1691.9,1205.1 1692.4,1209.5 1692.9,1209.8 1693.4,1202.4 1693.9,1208.0 1694.4,1205.0 1694.9,1205.0 1695.4,1209.6 1695.9,1207.5 1696.4,1207.4 1696.9,1209.9 1697.4,1212.2 1697.9,1213.3 1698.4,1205.3 1698.9,1210.7 1699.4,1204.8 1699.9,1196.9 1700.4,1202.3 1700.9,1208.6 1701.4,1212.8 1701.9,1211.6 1702.4,1212.4 1702.9,1212.3 1703.4,1200.9 1703.9,1207.5 1704.4,1206.5 1704.8,1209.8 1704.9,1214.3 1705.4,1214.7 1705.9,1217.0 1706.4,1210.1 1706.9,1207.8 1707.4,1212.6 1707.9,1211.0 1708.4,1216.8 1708.9,1206.9 1709.4,1218.5 1709.9,1216.7 1710.4,1214.4 1710.9,1207.3 1711.4,1208.5 1711.9,1204.8 1712.4,1215.1 1712.9,1213.9 1713.4,1207.7 1713.9,1216.4 1714.4,1213.0 1714.9,1211.7 1715.4,1211.0 1715.9,1215.2 1716.4,1209.4 1716.9,1209.1 1717.4,1216.2 1717.9,1204.8 1718.4,1209.4 1718.9,1212.1 1719.4,1219.8 1719.9,1216.6 1720.4,1211.5 1720.9,1221.3 1721.4,1211.8 1721.9,1216.5 1722.4,1212.9 1722.9,1221.4 1723.4,1220.0 1723.9,1214.1 1724.4,1218.0 1724.9,1220.9 1725.2,1226.9 1725.4,1227.1 1725.9,1222.4 1726.4,1227.7 1726.9,1218.5 1727.4,1218.6 1727.9,1220.6 1728.4,1219.1 1728.9,1220.0 1729.4,1220.3 1729.9,1225.8 1730.4,1218.2 1730.9,1222.0 1731.4,1223.9 1731.9,1226.8 1732.4,1225.5 1732.9,1224.5 1733.4,1224.3 1733.9,1221.4 1734.4,1220.8 1734.9,1220.4 1735.4,1231.1 1735.9,1217.0 1736.4,1222.4 1736.9,1220.3 1737.4,1222.4 1737.9,1228.2 1738.4,1217.9 1738.8,1208.8 1738.9,1215.5 1739.4,1221.9 1739.9,1218.2 1740.4,1221.3 1740.9,1218.7 1741.4,1228.1 1741.9,1217.8 1742.4,1222.3 1742.9,1232.1 1743.4,1224.9 1743.9,1222.3 1744.4,1230.6 1744.9,1220.3 1745.4,1228.4 1745.9,1222.8 1746.4,1226.0 1746.9,1227.3 1747.4,1223.6 1747.9,1222.0 1748.4,1225.2 1748.9,1234.7 1749.4,1222.8 1749.9,1229.4 1750.4,1228.9 1750.9,1234.4 1751.4,1223.0 1751.9,1227.0 1752.3,1226.6 1752.4,1220.6 1752.9,1225.2 1753.4,1231.7 1753.9,1231.3 1754.4,1229.2 1754.9,1224.0 1755.4,1231.5 1755.9,1233.7 1756.4,1228.7 1756.9,1232.7 1757.4,1229.1 1757.9,1231.4 1758.4,1228.4 1758.9,1226.5 1759.4,1227.9 1759.9,1232.8 1760.4,1227.8 1760.9,1238.8 1761.4,1230.7 1761.9,1227.6 1762.4,1229.0 1762.9,1229.9 1763.4,1225.9 1763.9,1231.3 1764.4,1230.8 1764.9,1228.5 1765.4,1236.6 1765.9,1230.2 1766.4,1231.8 1766.9,1229.5 1767.4,1234.5 1767.9,1227.2 1768.4,1230.1 1768.9,1235.4 1769.3,1234.3 1769.4,1239.1 1769.9,1231.4 1770.4,1232.7 1770.9,1232.6 1771.4,1231.9 1771.9,1232.1 1772.4,1229.8 1772.9,1237.2 1773.4,1231.5 1773.9,1240.9 1774.4,1235.1 1774.9,1230.1 1775.4,1232.9 1775.9,1233.9 1776.4,1233.5 1776.9,1230.4 1777.4,1239.6 1777.9,1234.3 1778.4,1235.0 1778.9,1231.1 1779.4,1232.8 1779.9,1237.4 1780.4,1238.2 1780.9,1235.2 1781.4,1238.0 1781.9,1237.4 1782.4,1228.3 1782.9,1235.2 1783.4,1232.7 1783.9,1239.5 1784.4,1238.8 1784.9,1229.8 1785.4,1239.5 1785.9,1235.4 1786.3,1238.5 1786.4,1241.5 1786.9,1241.7 1787.4,1239.5 1787.9,1244.8 1788.4,1238.6 1788.9,1238.0 1789.4,1229.4 1789.9,1230.5 1790.4,1234.3 1790.9,1239.2 1791.4,1238.9 1791.9,1234.5 1792.4,1235.8 1792.9,1238.7 1793.4,1238.0 1793.9,1243.2 1794.4,1243.7 1794.9,1237.4 1795.4,1239.5 1795.9,1241.8 1796.4,1236.7 1796.9,1244.6 1797.4,1245.8 1797.9,1239.5 1798.4,1235.6 1798.9,1242.4 1799.4,1237.2 1799.9,1237.3 1800.4,1239.7 1800.9,1243.6 1801.4,1238.9 1801.9,1247.9 1802.4,1232.9 1802.9,1233.4 1803.2,1235.0 1803.4,1237.5 1803.9,1242.2 1804.4,1236.4 1804.9,1241.2 1805.4,1236.6 1805.9,1229.1 1806.4,1240.4 1806.9,1237.9 1807.4,1239.7 1807.9,1241.3 1808.4,1242.1 1808.9,1238.6 1809.4,1238.0 1809.9,1238.7 1810.4,1239.0 1810.9,1242.6 1811.4,1240.2 1811.9,1239.5 1812.4,1234.1 1812.9,1235.7 1813.4,1244.9 1813.9,1239.9 1814.4,1242.7 1814.9,1245.5 1815.4,1236.1 1815.9,1242.0 1816.4,1234.2 1816.9,1242.9 1817.4,1245.6 1817.9,1251.3 1818.4,1242.4 1818.9,1239.2 1819.4,1245.2 1819.9,1243.9 1820.2,1249.4 1820.4,1243.9 1820.9,1246.2 1821.4,1235.5 1821.9,1243.4 1822.4,1248.9 1822.9,1246.3 1823.4,1246.0 1823.9,1245.0 1824.4,1251.1 1824.9,1244.5 1825.4,1248.2 1825.9,1242.9 1826.4,1250.1 1826.9,1247.6 1827.4,1244.8 1827.9,1252.4 1828.4,1249.5 1828.9,1247.0 1829.4,1248.4 1829.9,1246.4 1830.4,1243.6 1830.9,1247.1 1831.4,1251.9 1831.9,1243.3 1832.4,1245.1 1832.9,1249.2 1833.4,1242.2 1833.9,1244.8 1834.4,1246.4 1834.9,1250.7 1835.4,1244.7 1835.9,1243.2 1836.4,1246.2 1836.9,1251.9 1837.2,1244.8 1837.4,1243.7 1837.9,1248.3 1838.4,1247.5 1838.9,1250.4 1839.4,1247.9 1839.9,1249.1 1840.4,1252.2 1840.9,1244.3 1841.4,1252.8 1841.9,1244.8 1842.4,1248.6 1842.9,1258.3 1843.4,1252.7 1843.9,1245.9 1844.4,1248.6 1844.9,1247.9 1845.4,1251.8 1845.9,1254.1 1846.4,1249.9 1846.9,1239.2 1847.4,1250.6 1847.9,1252.5 1848.4,1247.6 1848.9,1252.0 1849.4,1247.3 1849.9,1252.5 1850.4,1237.6 1850.9,1243.5 1851.4,1245.8 1851.9,1249.0 1852.4,1250.3 1852.9,1251.7 1853.4,1252.5 1853.9,1245.4 1854.1,1245.3 1854.4,1249.9 1854.9,1248.8 1855.4,1250.2 1855.9,1242.9 1856.4,1245.5 1856.9,1243.3 1857.4,1250.3 1857.9,1247.2 1858.4,1247.8 1858.9,1247.7 1859.2,1251.4 1859.4,1240.8 1859.9,1240.4 1860.4,1247.3 1860.9,1247.3 1861.4,1246.6 1861.9,1240.9 1862.4,1245.6 1862.9,1252.9 1863.4,1245.8 1863.9,1255.5 1864.4,1251.7 1864.9,1259.0 1865.4,1250.8 1865.9,1254.8 1866.0,1251.0 1866.4,1245.8 1866.9,1255.2 1867.4,1252.0 1867.9,1250.3 1868.4,1254.7 1868.9,1259.4 1869.4,1253.4 1869.9,1254.9 1870.4,1255.1 1870.9,1254.2 1871.4,1266.3 1871.9,1250.7 1872.4,1262.6 1872.9,1255.1 1873.4,1255.1 1873.9,1250.2 1874.4,1255.2 1874.9,1260.4 1875.4,1258.6 1875.9,1257.2 1876.4,1254.8 1876.9,1254.6 1877.4,1256.9 1877.9,1258.1 1878.4,1258.8 1878.9,1260.9 1879.4,1253.5 1879.9,1253.8 1880.4,1259.4 1880.9,1255.8 1881.4,1260.4 1881.9,1257.0 1882.4,1255.9 1882.9,1262.1 1883.0,1254.7 1883.4,1263.4 1883.9,1251.2 1884.4,1259.0 1884.9,1262.2 1885.4,1258.1 1885.9,1264.5 1886.4,1260.1 1886.9,1258.0 1887.4,1257.7 1887.9,1262.8 1888.4,1263.6 1888.9,1254.2 1889.4,1258.2 1889.9,1254.0 1890.4,1259.2 1890.9,1258.6 1891.4,1263.5 1891.9,1262.4 1892.4,1254.5 1892.9,1256.5 1893.4,1256.7 1893.9,1257.2 1894.4,1254.7 1894.9,1257.0 1895.4,1260.5 1895.9,1263.3 1896.4,1257.3 1896.9,1262.7 1897.4,1267.8 1897.9,1256.1 1898.4,1257.8 1898.9,1256.8 1899.4,1262.0 1899.9,1266.6 1900.0,1257.7 1900.4,1262.9 1900.9,1261.7 1901.4,1260.3 1901.9,1257.7 1902.4,1262.8 1902.9,1260.1 1903.4,1258.9 1903.9,1258.3 1904.4,1260.9 1904.9,1261.3 1905.4,1264.1 1905.9,1260.7 1906.4,1264.4 1906.9,1259.3 1907.4,1266.4 1907.9,1267.1 1908.4,1265.7 1908.9,1255.9 1909.4,1273.1 1909.9,1258.6 1910.4,1260.0 1910.9,1264.7 1911.4,1259.0 1911.9,1264.8 1912.4,1267.6 1912.9,1262.9 1913.4,1258.4 1913.9,1261.5 1914.4,1266.2 1914.9,1260.3 1915.4,1264.3 1915.9,1259.1 1916.4,1263.0 1916.9,1271.8 1917.0,1262.2 1917.4,1265.1 1917.9,1262.1 1918.4,1261.7 1918.9,1269.4 1919.4,1263.1 1919.9,1267.3 1920.4,1260.5 1920.9,1261.2 1921.4,1265.3 1921.9,1265.0 1922.4,1267.2 1922.9,1266.3 1923.4,1259.6 1923.9,1267.0 1924.4,1266.5 1924.9,1265.3 1925.4,1264.1 1925.9,1266.1 1926.4,1266.6 1926.9,1264.3 1927.4,1265.3 1927.9,1263.4 1928.4,1264.8 1928.9,1262.5 1929.4,1265.5 1929.9,1270.3 1930.4,1261.9 1930.5,1254.2"/>
</g>
<clipPath id="ic"><rect x="286.3" y="90" width="823.5" height="640"/></clipPath>
<g fill="none" stroke-linejoin="round" stroke-linecap="butt" stroke-width="6" clip-path="url(#ic)">
<polyline stroke="#ff0000" points="288.2,667.3 289.2,667.5 290.2,666.6 291.2,667.4 292.2,666.8 293.2,666.1 294.2,666.5 295.2,667.1 296.2,666.9 297.2,666.0 298.2,666.8 299.2,666.4 300.0,666.6 300.2,666.4 301.2,665.0 302.2,665.0 303.2,663.8 304.2,664.2 305.2,663.0 306.2,662.0 306.4,661.3 307.2,662.6 308.2,663.7 309.2,664.0 310.2,666.7 311.2,666.8 312.2,668.4 313.2,668.0 314.2,670.4 315.2,669.9 316.2,671.3 316.4,672.1 317.2,672.0 318.2,670.9 319.2,671.7 320.2,672.8 321.2,673.6 322.2,673.2 323.2,672.8 324.2,673.5 325.2,672.7 326.2,673.7 327.2,672.9 328.2,673.7 329.2,673.9 330.2,674.5 331.2,674.1 332.2,675.0 332.7,674.4 333.2,675.4 334.2,676.3 335.2,675.9 336.2,677.7 337.2,678.6 338.2,679.1 339.2,680.5 340.2,680.6 341.2,682.5 342.2,683.4 342.7,683.8 343.2,684.7 344.2,683.4 345.2,683.1 346.2,682.4 347.2,682.7 348.2,681.9 349.2,682.7 350.2,681.6 351.2,681.7 352.2,682.4 353.2,681.8 354.2,681.1 354.5,681.6 355.2,680.4 356.2,680.1 357.2,678.9 358.2,677.7 359.2,677.7 360.2,677.2 361.2,675.8 362.2,674.7 363.2,674.3 364.2,672.6 364.5,673.3 365.2,673.7 366.2,676.1 367.2,675.7 368.2,676.0 369.2,678.1 370.2,678.5 371.2,679.4 372.2,680.4 373.2,681.3 374.2,681.8 375.2,683.4 376.2,684.0 377.2,684.4 378.2,685.4 379.2,684.2 380.2,684.0 381.2,683.5 382.2,682.6 383.2,681.8 384.2,680.6 385.2,680.7 386.2,679.0 387.2,678.3 387.3,678.0 388.2,678.7 389.2,679.0 390.2,680.7 391.2,680.3 392.2,679.8 393.2,680.9 394.2,680.9 395.2,682.5 396.2,683.3 396.4,682.5 397.2,683.7 398.2,684.1 399.2,685.2 400.2,686.7 401.2,686.5 402.2,686.8 403.2,688.6 404.2,689.4 405.2,690.3 406.2,691.2 406.4,690.6 407.2,689.6 408.2,690.6 409.2,689.4 410.2,688.6 411.2,688.1 412.2,688.8 413.2,687.9 414.2,687.5 415.2,687.3 416.2,686.1 417.2,685.4 418.2,685.1 419.2,685.8 420.2,687.1 421.2,687.7 422.2,689.1 423.2,689.7 424.2,690.8 425.2,692.1 426.2,693.3 427.2,694.3 427.3,693.7 428.2,693.8 429.2,693.6 430.2,694.4 431.2,694.8 432.2,693.9 433.2,694.7 434.2,694.2 435.2,694.4 436.2,694.7 437.2,694.6 438.2,695.3 439.2,694.2 440.2,694.8 441.2,695.2 442.2,694.8 443.2,695.6 443.6,694.7 444.2,695.2 445.2,694.0 446.2,694.1 447.2,693.9 448.2,694.3 449.2,693.2 450.2,693.0 451.2,691.7 452.2,692.2 453.2,690.5 454.2,690.0 454.5,689.4 455.2,690.6 456.2,691.8 457.2,691.7 458.2,692.6 459.2,693.3 460.2,694.1 461.2,694.8 461.8,694.8 462.2,696.0 463.2,693.9 464.2,694.0 465.2,694.2 466.2,694.1 467.2,693.0 468.2,692.6 469.2,692.3 470.2,691.7 471.2,691.8 472.2,690.7 473.2,690.0 474.2,689.8 475.2,689.7 476.2,689.8 476.4,689.9 477.2,689.4 478.2,689.6 479.2,690.3 480.2,692.7 481.2,692.1 482.2,693.2 483.2,694.6 484.2,694.0 485.2,694.9 486.2,695.4 487.2,695.8 487.3,696.8 488.2,696.2 489.2,694.0 490.2,694.7 491.2,693.3 492.2,692.7 492.5,692.5 493.2,691.7 494.2,692.0 495.2,691.6 496.2,692.9 497.2,692.9 498.2,691.8 499.2,691.0 500.2,692.1 501.2,691.3 502.2,692.2 503.2,692.1 504.2,691.9 504.6,690.8 505.2,690.2 506.2,689.9 507.2,689.8 508.2,688.9 509.2,689.5 510.2,688.8 511.2,688.0 512.2,687.3 512.7,687.6 513.2,688.4 514.2,687.4 515.2,689.3 516.2,689.7 517.2,690.3 518.2,691.2 519.2,692.2 520.0,693.6 520.2,692.7 521.2,692.2 522.2,691.5 523.2,692.3 524.2,691.3 525.2,691.4 526.2,691.5 527.2,690.9 528.2,690.5 529.2,690.3 530.2,690.6 531.2,689.9 532.2,689.8 533.2,689.6 534.2,689.0 534.5,689.3 535.2,689.2 536.2,690.2 537.2,690.2 538.2,689.4 539.2,690.5 540.2,691.5 541.2,691.1 542.2,691.4 543.2,692.4 544.2,691.7 545.2,692.6 546.2,693.2 547.2,693.6 548.2,693.0 548.8,693.1 549.2,694.5 550.2,693.5 551.2,693.9 552.2,695.3 553.2,693.9 554.2,693.2 555.2,695.8 556.2,695.0 556.4,694.7 557.2,695.6 558.2,693.9 559.2,694.3 560.2,693.3 561.2,692.8 562.2,692.9 563.2,692.7 564.2,692.6 565.2,692.2 566.2,691.0 567.2,690.9 567.3,691.9 568.2,691.6 569.2,691.8 570.2,692.8 571.2,693.2 572.2,693.6 573.2,693.1 574.2,693.6 575.2,694.6 576.2,695.3 577.2,694.5 578.2,695.3 579.2,694.5 580.2,694.3 581.2,692.3 582.2,693.3 583.2,691.2 584.2,690.5 585.2,690.5 585.5,689.4 586.2,689.6 587.2,689.2 588.2,689.7 589.2,689.0 590.2,689.6 591.2,689.8 592.2,689.4 593.2,690.6 594.2,690.4 595.2,689.4 596.2,690.8 597.2,690.1 598.2,691.0 599.2,690.4 600.0,690.7 600.2,691.1 601.2,691.5 602.2,689.5 603.2,689.8 604.2,689.5 605.2,689.9 606.2,688.9 607.2,689.0 608.2,689.1 609.1,688.6 609.2,687.8 610.2,685.6 611.2,683.5 612.2,681.5 613.2,678.8 614.2,677.0 614.5,676.7 615.2,675.0 616.2,673.4 617.2,672.1 618.2,670.7 619.2,668.0 620.0,666.8 620.2,667.0 621.2,661.8 622.2,656.7 623.2,652.8 623.6,651.7 624.2,640.3 625.2,622.9 625.5,618.1 626.2,597.8 627.2,566.3 627.3,563.9 628.2,536.9 629.1,509.4 629.2,502.9 630.0,454.8 630.2,446.8 631.2,408.2 631.4,400.2 632.2,373.2 633.2,338.6 633.6,326.3 634.2,343.0 635.2,370.5 636.2,400.0 637.2,449.7 637.3,454.4 638.2,507.9 639.2,539.0 640.0,563.1 640.2,569.5 641.2,598.9 641.8,618.3 642.2,626.5 643.2,646.7 643.6,654.5 644.2,658.7 645.2,666.3 645.4,667.4 646.2,668.6 647.2,671.0 648.2,673.1 649.2,675.4 650.2,677.0 651.2,678.4 652.2,680.6 652.9,682.3 653.2,682.4 654.2,682.8 655.2,681.5 656.2,682.2 657.2,682.1 658.2,683.3 659.2,683.2 660.2,683.1 661.2,683.5 662.2,682.9 663.2,683.5 663.6,683.3 664.2,684.2 665.2,685.4 666.2,687.3 666.8,688.1 667.2,686.5 668.2,685.9 669.2,685.2 670.2,684.4 671.2,682.3 672.2,681.7 673.2,681.0 674.2,681.0 674.3,679.6 675.2,680.6 676.2,681.7 677.2,682.5 678.2,683.5 679.2,684.3 680.2,685.1 681.2,686.3 682.2,687.1 683.2,688.1 684.0,688.8 684.2,687.8 685.2,687.5 686.2,686.5 687.2,685.8 688.2,684.7 689.2,684.1 690.2,681.9 691.2,681.3 692.2,680.4 692.5,679.7 693.2,680.4 694.2,681.0 695.2,681.7 696.2,683.8 697.2,683.4 698.2,684.8 699.2,684.4 700.0,685.5 700.2,685.1 701.2,685.6 702.2,686.2 703.2,686.4 704.2,685.8 704.3,685.6 705.2,686.1 706.2,687.0 707.2,688.2 708.2,687.4 709.2,688.8 710.2,689.2 711.2,690.9 711.8,690.2 712.2,691.1 713.2,689.7 714.2,689.3 715.2,690.1 716.2,689.5 717.2,688.1 718.2,687.3 719.2,687.2 719.4,687.9 720.2,687.6 721.2,687.1 722.2,687.9 723.2,688.3 724.2,687.1 725.2,687.6 726.2,687.2 726.9,688.2 727.2,688.0 728.2,688.8 729.2,689.5 730.2,691.8 731.2,692.5 732.2,693.9 733.2,694.9 733.3,695.3 734.2,693.0 735.2,692.2 736.2,691.4 737.2,690.8 738.2,688.7 739.2,687.1 739.7,686.2 740.2,686.8 741.2,688.1 742.2,689.0 743.2,690.6 744.2,691.7 745.2,693.8 746.2,693.9 747.2,695.7 748.2,694.2 749.2,694.3 750.2,694.3 751.2,692.2 752.2,691.2 753.2,691.7 753.7,690.8 754.2,691.2 755.2,692.5 756.2,693.5 757.2,694.9 758.2,695.5 759.0,695.8 759.2,695.3 760.2,693.7 761.2,692.7 762.2,692.4 763.2,689.9 764.2,689.3 765.2,688.5 766.2,686.9 767.2,686.1 768.2,684.3 768.7,684.1 769.2,683.0 770.2,682.8 771.2,684.0 772.2,683.1 773.2,682.9 774.2,682.5 775.2,683.4 776.2,682.8 777.2,682.7 778.2,682.0 779.2,682.3 779.4,682.0 780.2,682.3 781.2,682.6 782.2,682.4 783.2,682.4 784.2,683.3 785.2,682.6 786.2,683.9 786.9,684.1 787.2,682.1 788.2,681.8 789.2,678.7 790.2,678.0 791.2,675.2 792.2,674.1 793.2,671.4 793.4,671.8 794.2,671.6 795.2,672.3 796.2,671.9 797.2,671.1 798.2,671.7 799.2,671.2 800.2,671.6 800.9,672.3 801.2,672.5 802.2,672.4 803.2,672.6 804.2,673.6 805.2,675.2 806.2,674.8 807.2,674.7 808.2,675.4 809.2,676.1 809.4,677.4 810.2,675.4 811.2,673.5 812.2,672.5 813.2,671.2 814.2,669.0 815.2,667.0 816.2,665.9 817.2,664.6 818.0,662.1 818.2,662.3 819.2,664.7 820.2,664.5 821.2,665.1 822.2,664.9 823.2,665.7 824.2,666.7 825.2,668.1 826.2,668.1 826.6,667.5 827.2,669.6 828.2,670.4 829.2,670.9 830.2,670.8 831.2,671.8 832.2,672.8 833.2,673.9 834.2,675.5 835.2,674.8 836.2,675.9 837.2,677.1 838.2,677.7 839.2,678.5 839.5,678.3 840.2,678.2 841.2,676.9 842.2,676.0 843.2,675.2 844.2,673.5 845.2,672.4 846.2,671.5 847.2,670.0 848.0,669.4 848.2,668.6 849.2,670.1 850.2,671.8 851.2,672.6 852.2,673.9 853.2,673.8 854.2,675.2 855.2,676.5 856.2,677.5 857.2,678.4 857.7,679.7 858.2,678.2 859.2,677.0 860.2,676.2 861.2,674.9 862.2,673.5 863.2,673.1 864.2,671.3 865.2,669.7 866.2,668.1 867.2,667.9 867.3,666.9 868.2,668.3 869.2,668.8 870.2,671.1 871.2,671.4 872.2,671.2 873.2,673.2 874.2,673.3 874.9,674.4 875.2,674.9 876.2,673.4 877.2,673.7 878.2,673.0 879.2,672.9 880.2,671.5 881.2,671.8 882.2,670.8 883.2,671.0 884.2,670.0 885.2,669.8 885.6,670.0 886.2,670.6 887.2,671.4 888.2,673.1 889.2,674.1 890.2,675.7 891.2,677.6 892.2,677.7 893.2,678.9 894.2,681.1 895.2,681.9 896.2,682.8 897.2,682.6 898.2,682.5 899.2,682.2 900.2,682.0 901.2,681.8 902.2,681.9 903.2,682.2 903.8,681.7 904.2,682.4 905.2,681.5 906.2,679.8 907.2,678.4 908.2,679.6 909.2,677.7 910.2,676.2 911.2,676.0 911.3,676.9 912.2,678.4 913.2,679.1 914.2,680.4 915.2,681.6 916.2,682.6 917.2,682.2 918.2,683.6 918.8,684.0 919.2,684.2 920.2,683.6 921.2,683.5 922.2,683.8 923.2,682.2 924.2,682.5 925.2,681.2 926.2,680.7 927.2,681.4 928.2,680.5 929.2,680.2 929.5,680.7 930.2,679.4 931.2,680.3 932.2,681.1 933.2,680.0 934.2,680.7 935.2,681.2 936.2,681.3 937.2,681.3 938.1,681.6 938.2,681.4 939.2,682.4 940.2,683.0 941.2,683.2 942.2,684.6 943.2,685.3 944.2,686.7 944.6,686.8 945.2,686.8 946.2,686.6 947.2,686.8 948.2,686.2 949.2,686.6 950.2,686.2 951.2,686.3 952.2,686.0 953.2,687.6 954.2,686.8 955.2,686.0 956.2,686.3 957.2,686.7 958.2,686.3 959.2,686.9 960.2,686.7 961.2,687.1 962.2,685.1 963.2,686.9 964.2,686.6 965.2,687.0 966.0,686.2 966.2,686.3 967.2,686.6 968.2,687.9 969.2,688.3 970.2,688.0 971.2,689.1 972.2,689.9 973.2,689.8 974.2,690.8 975.2,691.5 975.7,691.5 976.2,690.4 977.2,690.6 978.2,688.9 979.2,687.8 980.2,686.1 981.2,685.3 982.2,683.7 983.2,682.8 984.2,681.7 985.2,680.7 986.2,679.0 986.4,678.6 987.2,680.5 988.2,680.3 989.2,682.2 990.2,683.1 991.2,684.6 992.2,685.2 993.2,686.0 994.2,687.7 995.2,688.0 996.2,689.3 997.1,690.8 997.2,690.7 998.2,688.7 999.2,688.8 1000.2,686.9 1001.2,686.3 1002.2,684.9 1003.2,683.2 1004.2,681.7 1005.2,679.9 1005.7,680.5 1006.2,681.2 1007.2,681.4 1008.2,682.2 1009.2,682.6 1010.2,683.4 1011.2,684.7 1012.2,686.2 1013.2,686.4 1014.2,685.7 1015.2,684.2 1016.2,682.7 1017.2,681.1 1018.2,680.1 1019.2,678.4 1020.2,678.2 1021.2,676.8 1021.8,675.3 1022.2,675.5 1023.2,675.3 1024.2,676.1 1025.2,676.4 1026.2,675.8 1027.2,676.1 1028.2,676.6 1029.2,675.7 1030.2,676.7 1031.2,677.5 1032.2,677.6 1032.5,676.7 1033.2,676.4 1034.2,676.2 1035.2,675.5 1036.2,675.4 1037.2,674.2 1037.9,673.8 1038.2,674.1 1039.2,675.8 1040.2,675.5 1041.2,677.6 1042.2,678.1 1043.2,679.2 1044.2,679.6 1045.2,681.0 1046.2,681.6 1046.4,681.0 1047.2,681.2 1048.2,679.0 1049.2,678.3 1050.2,676.2 1051.2,675.2 1052.2,673.8 1053.2,671.7 1053.9,671.6 1054.2,671.6 1055.2,671.9 1056.2,675.1 1057.2,675.6 1058.2,676.7 1059.2,677.7 1060.2,679.2 1060.4,678.8 1061.2,678.7 1062.2,677.9 1063.2,676.3 1064.2,675.6 1065.2,674.8 1066.2,673.1 1067.2,673.1 1068.2,672.0 1069.2,671.7 1070.2,670.3 1071.1,668.9 1071.2,669.4 1072.2,669.3 1073.2,668.6 1074.2,669.9 1075.2,669.6 1076.2,671.0 1077.2,670.7 1078.2,671.2 1079.2,671.2 1080.2,671.1 1081.2,671.7 1081.8,670.8 1082.2,672.1 1083.2,672.2 1084.2,671.8 1085.2,673.2 1086.2,674.0 1087.2,674.0 1088.2,675.4 1089.2,675.9 1090.2,675.4 1090.4,675.5 1091.2,675.1 1092.2,674.3 1093.2,674.2 1094.2,673.6 1095.2,672.7 1096.2,672.0 1097.2,670.9 1097.9,670.4 1098.2,670.4 1099.2,672.9 1100.2,673.2 1101.2,674.0 1102.2,674.4 1103.2,675.0 1104.2,676.4 1105.2,677.5 1105.4,677.8 1106.2,677.9 1107.2,676.9 1108.2,676.9 1109.2,676.3 1109.7,676.2"/>
<polyline stroke="#00ff00" points="288.2,672.9 289.2,671.6 290.2,671.0 291.2,669.4 292.2,669.9 293.2,669.4 294.2,669.2 294.5,668.7 295.2,669.6 296.2,670.2 297.2,670.5 298.2,672.7 299.2,673.5 300.0,674.6 300.2,673.4 301.2,672.2 302.2,671.1 303.2,669.5 304.2,670.0 305.2,667.7 306.2,666.7 307.2,666.3 308.2,666.3 309.1,664.6 309.2,663.9 310.2,664.6 311.2,665.9 312.2,666.0 313.2,666.1 314.2,666.9 315.2,668.0 316.2,669.3 317.2,667.8 318.2,668.7 319.2,666.9 320.2,664.2 321.2,663.4 322.2,661.6 323.2,661.1 324.2,658.6 324.5,657.2 325.2,658.4 326.2,657.6 327.2,656.6 328.2,657.0 329.2,656.8 330.2,656.4 331.2,656.7 332.2,655.2 332.7,656.2 333.2,656.5 334.2,655.4 335.2,654.6 336.2,653.6 337.2,652.8 338.2,650.2 339.2,650.4 340.2,647.8 340.9,647.8 341.2,647.1 342.2,649.0 343.2,649.3 344.2,648.4 345.2,649.7 346.2,648.4 347.2,649.0 348.2,649.1 349.1,648.5 349.2,649.1 350.2,647.8 351.2,643.8 352.2,642.8 353.2,639.9 353.6,640.2 354.2,639.1 355.2,638.7 356.2,638.2 357.2,637.5 358.2,636.0 359.2,637.2 360.2,635.0 360.9,635.6 361.2,636.2 362.2,636.5 363.2,638.2 364.2,640.0 365.2,640.4 366.2,641.0 366.4,640.1 367.2,640.2 368.2,639.1 369.2,637.9 370.2,636.3 371.2,635.8 372.2,633.9 373.2,632.9 374.2,632.1 375.2,629.9 375.5,629.8 376.2,631.2 377.2,630.3 378.2,628.8 379.2,629.4 380.2,629.6 381.2,629.9 382.2,629.1 383.2,628.5 384.2,628.2 385.2,628.9 386.2,628.6 387.2,627.9 387.3,628.1 388.2,625.2 389.2,622.9 390.2,619.0 390.9,617.6 391.2,618.4 392.2,620.2 393.2,621.3 394.2,624.6 395.2,625.4 395.5,626.7 396.2,624.8 397.2,622.5 398.2,622.0 399.2,620.3 400.2,618.4 400.9,617.5 401.2,616.7 402.2,616.0 403.2,615.6 404.2,616.2 405.2,614.8 406.2,613.3 407.2,613.3 408.2,611.9 409.2,611.3 410.2,611.4 411.2,609.8 412.2,608.4 412.7,608.6 413.2,609.3 414.2,609.6 415.2,610.5 416.2,609.7 417.2,610.8 418.2,610.9 419.1,610.8 419.2,611.2 420.2,609.0 421.2,606.1 422.2,605.3 422.7,602.9 423.2,603.3 424.2,602.6 425.2,602.2 426.2,600.9 427.2,600.6 428.2,599.9 429.2,599.9 430.2,598.2 430.9,598.2 431.2,597.3 432.2,594.2 433.2,594.1 434.2,589.9 434.9,587.3 435.2,589.7 436.2,590.5 437.2,593.6 438.2,596.2 439.2,597.6 440.2,600.0 440.9,601.5 441.2,601.5 442.2,599.7 443.2,599.1 444.2,598.9 445.2,598.7 446.2,597.6 447.2,597.4 448.2,595.9 449.2,593.3 450.2,591.7 451.2,588.7 452.2,587.5 453.2,585.6 453.6,585.7 454.2,586.0 455.2,585.3 456.2,585.4 457.2,585.0 458.2,585.9 459.2,586.3 460.2,586.5 461.2,585.9 461.8,587.6 462.2,586.5 463.2,584.3 464.2,582.5 465.2,581.1 466.2,579.9 467.2,578.3 468.2,577.1 469.1,576.0 469.2,576.2 470.2,574.5 471.2,572.2 472.2,571.0 473.2,569.0 474.2,567.4 474.5,568.4 475.2,568.6 476.2,572.3 477.2,573.1 478.2,575.7 479.2,575.9 480.2,574.9 481.2,574.8 482.2,574.1 483.2,573.7 484.2,573.6 484.5,573.2 485.2,572.0 486.2,567.3 487.2,564.7 488.2,558.4 489.2,559.7 490.2,559.7 491.2,558.8 492.2,559.3 493.2,558.7 493.6,558.0 494.2,555.5 495.2,552.0 496.2,545.6 497.2,540.7 497.3,539.7 498.2,541.4 499.2,542.1 500.2,544.3 501.2,547.4 502.2,548.1 502.7,548.6 503.2,546.8 504.2,543.0 505.2,538.1 506.2,534.8 506.4,533.3 507.2,532.3 508.2,532.7 509.2,529.7 510.2,530.2 511.2,530.1 512.2,528.8 512.7,529.0 513.2,526.3 514.2,521.4 515.2,518.6 515.5,515.9 516.2,514.9 517.2,514.8 518.2,513.0 519.2,512.8 520.2,511.6 521.2,511.5 521.8,509.1 522.2,510.5 523.2,510.1 524.2,509.3 525.2,510.6 526.2,509.5 527.2,511.0 528.2,510.3 529.2,510.4 530.0,510.0 530.2,510.8 531.2,510.3 532.2,512.7 533.2,513.5 534.2,515.3 534.5,515.5 535.2,516.5 536.2,516.5 537.2,519.0 538.2,520.1 539.2,519.5 540.2,520.5 541.2,521.6 542.2,523.0 542.7,523.8 543.2,521.2 544.2,520.0 545.2,518.1 546.2,516.6 547.2,514.7 547.3,515.7 548.2,515.0 549.2,516.7 550.2,516.5 551.2,515.5 552.2,515.7 552.7,516.0 553.2,515.6 554.2,511.0 555.2,507.4 555.5,507.3 556.2,507.5 557.2,506.9 558.2,508.3 559.2,507.4 560.2,507.6 561.2,506.8 562.2,507.3 563.2,507.2 563.6,505.9 564.2,507.3 565.2,505.7 566.2,506.4 567.2,505.2 568.2,507.0 569.2,505.6 570.2,505.6 571.2,505.3 572.2,503.6 573.2,502.7 574.2,503.5 574.5,504.1 575.2,501.2 576.2,498.0 577.2,494.5 577.3,492.7 578.2,492.9 579.2,492.9 580.2,490.4 581.2,488.5 582.2,488.6 583.2,487.5 584.2,487.0 585.2,485.3 585.5,485.6 586.2,485.4 587.2,489.0 588.2,491.2 589.1,492.6 589.2,490.5 590.2,487.3 591.2,481.0 592.2,478.7 592.7,476.4 593.2,476.3 594.2,478.1 595.2,478.9 596.2,480.4 597.2,480.9 598.2,481.9 599.2,477.8 600.2,475.5 601.2,473.0 602.2,470.7 602.7,469.1 603.2,469.7 604.2,467.7 605.2,467.5 606.2,467.3 607.2,466.4 608.2,466.3 609.1,465.2 609.2,466.5 610.2,466.4 611.2,468.3 612.2,468.6 613.2,470.5 614.2,469.8 614.5,471.2 615.2,468.1 616.2,465.0 617.2,462.0 618.2,457.0 619.1,453.7 619.2,452.9 620.2,443.6 621.2,432.2 621.8,427.4 622.2,411.2 622.7,392.0 623.2,382.7 624.2,363.7 625.2,343.7 625.5,337.9 626.2,326.0 627.2,308.6 627.6,300.2 628.2,287.0 629.1,265.6 629.2,264.1 630.2,244.5 631.2,223.4 631.8,210.9 632.2,202.7 633.2,184.3 634.2,165.7 635.2,147.0 635.5,140.0 636.2,154.3 637.2,174.2 638.2,194.4 639.1,211.1 639.2,213.6 640.2,243.9 640.9,265.3 641.2,277.2 641.8,302.3 642.2,312.1 643.2,336.2 643.3,338.9 644.2,378.8 644.5,392.9 645.2,421.5 645.4,430.0 646.2,434.2 647.2,437.7 648.2,440.9 649.2,444.5 650.2,446.8 651.2,449.0 652.2,452.1 652.9,455.0 653.2,455.5 654.2,454.6 655.2,455.9 656.2,456.4 657.2,455.4 658.2,456.4 659.2,456.8 660.2,457.3 661.2,456.7 661.4,457.5 662.2,459.0 663.2,459.9 664.2,461.1 665.2,460.6 666.2,462.7 667.2,462.8 667.9,462.2 668.2,463.3 669.2,461.9 670.2,461.8 671.2,460.7 672.2,460.8 673.2,459.6 674.2,458.6 674.3,459.3 675.2,460.4 676.2,461.8 677.2,464.5 678.2,465.3 678.6,465.8 679.2,465.0 680.2,463.1 681.2,462.3 682.2,462.3 683.2,459.3 684.0,458.7 684.2,458.3 685.2,459.7 686.2,462.1 687.2,462.9 688.2,463.1 689.2,464.7 690.2,465.3 691.2,466.5 691.5,466.8 692.2,466.4 693.2,466.5 694.2,466.1 695.2,465.5 696.2,464.5 697.2,463.2 698.2,463.4 699.0,462.4 699.2,463.6 700.2,463.9 701.2,464.5 702.2,464.4 703.2,464.0 704.2,466.2 705.2,466.8 706.2,465.7 707.2,467.2 708.2,468.3 709.2,467.5 710.2,469.7 711.2,468.9 712.2,469.0 713.2,470.9 714.0,470.7 714.2,470.0 715.2,470.3 716.2,468.1 717.2,469.8 718.2,467.6 719.2,467.7 720.2,466.7 721.2,466.6 721.5,466.7 722.2,465.0 723.2,465.0 724.2,463.4 725.2,462.2 725.8,461.9 726.2,461.7 727.2,462.5 728.2,464.3 729.2,464.4 730.2,465.9 731.2,466.1 732.2,466.0 733.2,466.2 734.2,467.6 735.2,468.9 736.2,469.5 737.2,469.7 737.6,471.1 738.2,468.4 739.2,467.0 740.2,466.1 741.2,465.7 742.2,462.9 743.2,460.3 744.2,459.6 745.1,458.1 745.2,458.3 746.2,457.7 747.2,457.6 748.2,458.4 749.2,458.8 750.2,459.7 751.2,460.2 752.2,458.7 753.2,459.0 754.2,459.4 755.2,459.5 755.8,460.1 756.2,459.3 757.2,457.2 758.2,455.9 759.2,453.0 760.2,450.5 761.2,448.2 762.2,448.2 763.2,447.9 764.2,447.1 765.2,448.3 766.2,447.7 767.2,447.1 768.2,446.5 768.7,446.0 769.2,445.3 770.2,444.8 771.2,440.1 772.2,439.4 773.2,437.6 774.2,435.0 775.1,432.8 775.2,433.5 776.2,432.3 777.2,433.3 778.2,433.9 779.2,432.4 780.2,432.5 781.2,433.1 781.6,433.6 782.2,432.6 783.2,430.1 784.2,427.3 785.2,425.0 785.8,424.5 786.2,424.4 787.2,423.0 788.2,423.2 789.2,422.9 790.2,422.8 791.2,421.1 792.2,421.6 793.2,420.0 794.2,420.0 795.2,419.7 796.2,420.2 797.2,420.7 798.2,418.4 798.7,418.3 799.2,417.7 800.2,414.5 801.2,414.0 802.2,411.0 803.2,410.9 804.1,409.2 804.2,408.5 805.2,407.1 806.2,407.9 807.2,406.4 808.2,405.6 809.2,405.2 810.2,403.2 811.2,403.8 812.2,403.5 813.2,402.4 813.7,402.0 814.2,398.7 815.2,394.4 816.2,388.9 817.2,383.6 818.0,379.1 818.2,380.0 819.2,380.4 820.2,380.2 821.2,380.7 822.2,381.2 823.2,381.6 824.2,381.0 825.2,381.0 826.2,381.2 826.6,381.5 827.2,382.2 828.2,383.1 829.2,382.9 830.2,383.9 831.2,383.8 832.2,385.8 833.2,385.4 834.2,386.5 835.2,386.5 836.2,384.6 837.2,382.2 838.2,381.5 839.2,378.6 840.2,376.2 841.2,373.6 842.2,371.7 843.2,370.2 844.2,368.8 844.8,365.6 845.2,366.3 846.2,367.8 847.2,368.5 848.2,368.9 849.2,370.8 850.2,372.3 851.2,371.9 851.3,373.0 852.2,374.1 853.2,374.8 854.2,374.6 855.2,376.9 856.2,376.5 857.2,376.4 857.7,377.8 858.2,376.2 859.2,376.7 860.2,374.8 861.2,375.3 862.2,373.8 863.2,374.2 864.2,373.3 865.2,372.5 866.2,371.6 867.2,371.5 867.3,369.7 868.2,368.9 869.2,366.5 870.2,364.2 871.2,362.0 872.2,361.3 872.7,358.0 873.2,361.1 874.2,366.1 875.2,372.3 875.9,373.9 876.2,375.7 877.2,372.8 878.2,370.5 879.2,369.7 880.2,368.9 881.2,367.7 882.2,366.1 883.2,365.2 883.4,364.4 884.2,365.8 885.2,366.4 886.2,369.8 887.2,371.9 888.2,372.9 889.2,373.8 889.9,375.4 890.2,377.1 891.2,375.2 892.2,374.7 893.2,374.2 894.2,374.6 895.2,373.4 896.2,372.8 897.2,372.0 898.2,372.3 899.2,372.5 900.2,371.4 901.2,371.6 901.7,370.9 902.2,370.3 903.2,369.1 904.2,367.7 905.2,367.1 906.2,365.6 907.2,363.7 908.2,362.9 909.2,361.5 910.2,360.6 911.2,359.2 911.3,359.2 912.2,358.2 913.2,359.5 914.2,360.2 915.2,358.8 916.2,360.7 917.2,360.0 918.2,359.9 918.8,359.0 919.2,360.4 920.2,358.1 921.2,357.4 922.2,357.0 923.2,355.1 924.2,354.1 925.2,353.0 926.2,352.6 926.3,353.0 927.2,354.6 928.2,356.6 929.2,358.1 930.2,360.4 931.2,361.8 932.2,365.4 932.8,365.5 933.2,363.6 934.2,362.7 935.2,362.9 936.2,359.7 937.2,358.8 938.2,357.8 939.2,355.5 940.2,355.3 941.2,354.2 942.2,351.3 942.4,352.2 943.2,352.1 944.2,353.4 945.2,355.5 946.2,356.9 947.2,357.8 947.8,359.5 948.2,357.6 949.2,356.8 950.2,355.5 951.2,355.5 952.2,354.3 953.2,353.1 954.2,350.7 955.2,347.3 956.2,343.3 957.2,337.8 958.2,334.1 958.5,333.7 959.2,334.0 960.2,334.0 961.2,334.5 962.2,334.7 963.2,334.9 964.2,335.1 964.9,334.9 965.2,334.7 966.2,332.6 967.2,332.2 968.2,329.0 969.2,326.9 970.2,324.7 971.2,322.8 971.4,322.3 972.2,324.3 973.2,325.8 974.2,328.1 975.2,329.0 976.2,331.5 976.7,332.7 977.2,330.5 978.2,329.3 979.2,327.4 980.2,325.1 981.2,323.0 982.2,320.2 983.2,320.0 984.2,322.1 985.2,325.3 986.2,329.8 986.4,329.0 987.2,329.7 988.2,328.1 989.2,327.0 990.2,325.3 991.2,323.5 992.2,321.8 993.2,322.6 994.2,320.2 995.2,319.0 996.0,319.2 996.2,318.1 997.2,319.2 998.2,320.1 999.2,321.0 1000.2,321.3 1001.2,322.5 1002.2,324.5 1003.2,325.0 1004.2,323.7 1004.6,324.6 1005.2,326.5 1006.2,327.2 1007.2,327.9 1008.2,329.7 1009.2,328.9 1010.2,331.5 1011.2,331.8 1012.2,332.9 1013.2,333.7 1014.2,334.9 1015.2,335.2 1015.3,335.1 1016.2,335.0 1017.2,333.6 1018.2,331.7 1019.2,332.3 1020.2,331.2 1021.2,330.4 1022.2,328.5 1023.2,327.7 1023.9,326.6 1024.2,326.6 1025.2,328.5 1026.2,329.8 1027.2,330.5 1028.2,333.3 1029.2,330.6 1030.2,330.4 1031.2,329.8 1032.2,330.3 1033.2,328.7 1034.2,328.0 1034.6,327.4 1035.2,328.0 1036.2,328.7 1037.2,331.1 1038.2,331.8 1039.2,333.0 1040.2,333.0 1041.1,335.8 1041.2,334.0 1042.2,335.8 1043.2,339.4 1044.2,342.2 1045.2,345.1 1045.4,344.5 1046.2,343.3 1047.2,341.3 1048.2,337.1 1049.2,334.4 1050.2,331.2 1051.2,329.7 1051.8,328.4 1052.2,329.0 1053.2,330.8 1054.2,332.9 1055.2,333.8 1056.2,336.0 1057.2,336.6 1058.2,338.4 1059.2,340.8 1059.3,340.3 1060.2,340.9 1061.2,341.1 1062.2,340.2 1063.2,339.2 1064.2,338.9 1065.2,339.9 1066.2,338.3 1066.8,338.7 1067.2,339.5 1068.2,342.5 1069.2,345.8 1070.2,347.6 1071.1,349.6 1071.2,351.4 1072.2,352.4 1073.2,354.4 1074.2,355.6 1075.2,357.8 1076.2,359.8 1077.2,361.5 1077.5,361.0 1078.2,359.2 1079.2,357.0 1080.2,354.3 1081.2,351.9 1082.2,348.6 1082.9,345.8 1083.2,347.9 1084.2,349.4 1085.2,350.7 1086.2,352.6 1087.2,353.5 1088.2,354.1 1089.2,356.3 1089.3,355.7 1090.2,355.5 1091.2,353.7 1092.2,352.6 1093.2,351.3 1094.2,350.0 1094.7,348.5 1095.2,348.0 1096.2,343.8 1097.2,342.6 1098.2,340.0 1099.2,337.8 1100.0,334.5 1100.2,333.6 1101.2,331.8 1102.2,332.6 1103.2,329.3 1104.2,329.3 1105.2,326.1 1106.2,326.2 1106.5,326.2 1107.2,315.3 1108.2,299.7 1108.6,293.1"/>
</g>
<g stroke-width="8.5" stroke-linecap="round"><line x1="1306.5" y1="354.4" x2="1499" y2="354.4" stroke="#00ff00"/><line x1="1306.5" y1="460.9" x2="1499" y2="460.9" stroke="#ff0000"/></g>
<text transform="translate(1518.79,381.90) scale(0.9940,1)" font-size="75" fill="#000">as-grown</text>
<text transform="translate(1814.87,381.90) scale(1.0039,1)" font-size="75" fill="#000">nanodiamond</text>
<text transform="translate(1518.48,488.10) scale(0.9970,1)" font-size="75" fill="#000">etched</text>
<text transform="translate(1732.37,488.10) scale(1.0041,1)" font-size="75" fill="#000">nanodiamond</text>
<text transform="translate(80.50,1039.63) rotate(-90) scale(1.0096,1)" font-size="94.5" fill="#000">Intensity,</text>
<text transform="translate(80.50,666.96) rotate(-90) scale(1.0160,1)" font-size="94.5" fill="#000">arb.</text>
<text transform="translate(80.50,500.02) rotate(-90) scale(0.9908,1)" font-size="94.5" fill="#000">units</text>
<text transform="translate(727.41,1616.00) scale(0.9693,1)" font-size="95" style="font-kerning:normal" fill="#000">Wavelength,</text>
<text transform="translate(1207.84,1616.00) scale(0.9872,1)" font-size="95" style="font-kerning:normal" fill="#000">nm</text>
<text transform="translate(117.80,1498.10) scale(0.9530,1)" font-size="78.7" fill="#000">520</text>
<text transform="translate(368.64,1498.10) scale(0.9530,1)" font-size="78.7" fill="#000">540</text>
<text transform="translate(619.48,1498.10) scale(0.9530,1)" font-size="78.7" fill="#000">560</text>
<text transform="translate(870.32,1498.10) scale(0.9530,1)" font-size="78.7" fill="#000">580</text>
<text transform="translate(1122.32,1498.10) scale(0.9429,1)" font-size="78.7" fill="#000">600</text>
<text transform="translate(1373.16,1498.10) scale(0.9429,1)" font-size="78.7" fill="#000">620</text>
<text transform="translate(1624.00,1498.10) scale(0.9429,1)" font-size="78.7" fill="#000">640</text>
<text transform="translate(1874.84,1498.10) scale(0.9429,1)" font-size="78.7" fill="#000">660</text>
<text transform="translate(1197.76,94.20) scale(0.9940,1)" font-size="83" font-weight="bold" fill="#000">GeV</text>
<text transform="translate(1791.58,86.20) scale(0.9561,1)" font-size="88.5" fill="#000">T=300</text>
<text transform="translate(2038.42,86.20) scale(1.0042,1)" font-size="88.5" fill="#000">K</text>
<text transform="translate(249.60,687.99) rotate(-90) scale(0.9685,1)" font-size="71.5" fill="#000">Intensity,</text>
<text transform="translate(249.60,412.80) rotate(-90) scale(0.9583,1)" font-size="71.5" fill="#000">arb.</text>
<text transform="translate(249.60,292.69) rotate(-90) scale(0.9591,1)" font-size="71.5" fill="#000">units</text>
<text transform="translate(478.71,881.90) scale(0.9605,1)" font-size="71.5" fill="#000">Raman</text>
<text transform="translate(687.33,881.90) scale(0.9465,1)" font-size="71.5" fill="#000">shift,</text>
<text transform="translate(841.62,881.90) scale(0.9497,1)" font-size="71.5" fill="#000">cm</text>
<text transform="translate(922.83,843.10) scale(0.8981,1)" font-size="41.3" fill="#000">-1</text>
<text transform="translate(374.15,798.30) scale(0.9171,1)" font-size="70" fill="#000">1200</text>
<text transform="translate(673.61,798.30) scale(0.9232,1)" font-size="70" fill="#000">1400</text>
<text transform="translate(972.71,798.30) scale(0.9079,1)" font-size="70" fill="#000">1600</text>
<text transform="translate(699.00,332.40) scale(0.9947,1)" font-size="70" fill="#000">7</text>
<text transform="translate(749.26,332.40) scale(0.9566,1)" font-size="70" fill="#000">cm</text>
<text transform="translate(827.35,295.10) scale(0.8817,1)" font-size="41.3" fill="#000">-1</text>
<text transform="translate(699.23,551.20) scale(0.9191,1)" font-size="67" fill="#000">5.5</text>
<text transform="translate(791.60,551.20) scale(0.9445,1)" font-size="67" fill="#000">cm</text>
<text transform="translate(867.64,516.20) scale(0.8590,1)" font-size="39.7" fill="#000">-1</text>
<text transform="translate(1354.49,92.92) scale(1.4363,1.4000)" font-size="100.0" font-weight="bold">-</text>
<line x1="582.5" y1="307.8" x2="611" y2="307.8" stroke="#000" stroke-width="3.6" stroke-linecap="round"/><polygon points="630,307.8 611,301.8 611,313.8" fill="#000" stroke="#000" stroke-width="1" stroke-linejoin="round"/>
<line x1="687.5" y1="307.8" x2="659.9" y2="307.8" stroke="#000" stroke-width="3.6" stroke-linecap="round"/><polygon points="640.9,307.8 659.9,301.8 659.9,313.8" fill="#000" stroke="#000" stroke-width="1" stroke-linejoin="round"/>
<line x1="584.5" y1="529.6" x2="611" y2="529.6" stroke="#000" stroke-width="3.6" stroke-linecap="round"/><polygon points="630,529.6 611,523.6 611,535.6" fill="#000" stroke="#000" stroke-width="1" stroke-linejoin="round"/>
<line x1="687.2" y1="528.8" x2="659.6" y2="528.8" stroke="#000" stroke-width="3.6" stroke-linecap="round"/><polygon points="640.6,528.8 659.6,522.8 659.6,534.8" fill="#000" stroke="#000" stroke-width="1" stroke-linejoin="round"/>
</svg></body></html>
